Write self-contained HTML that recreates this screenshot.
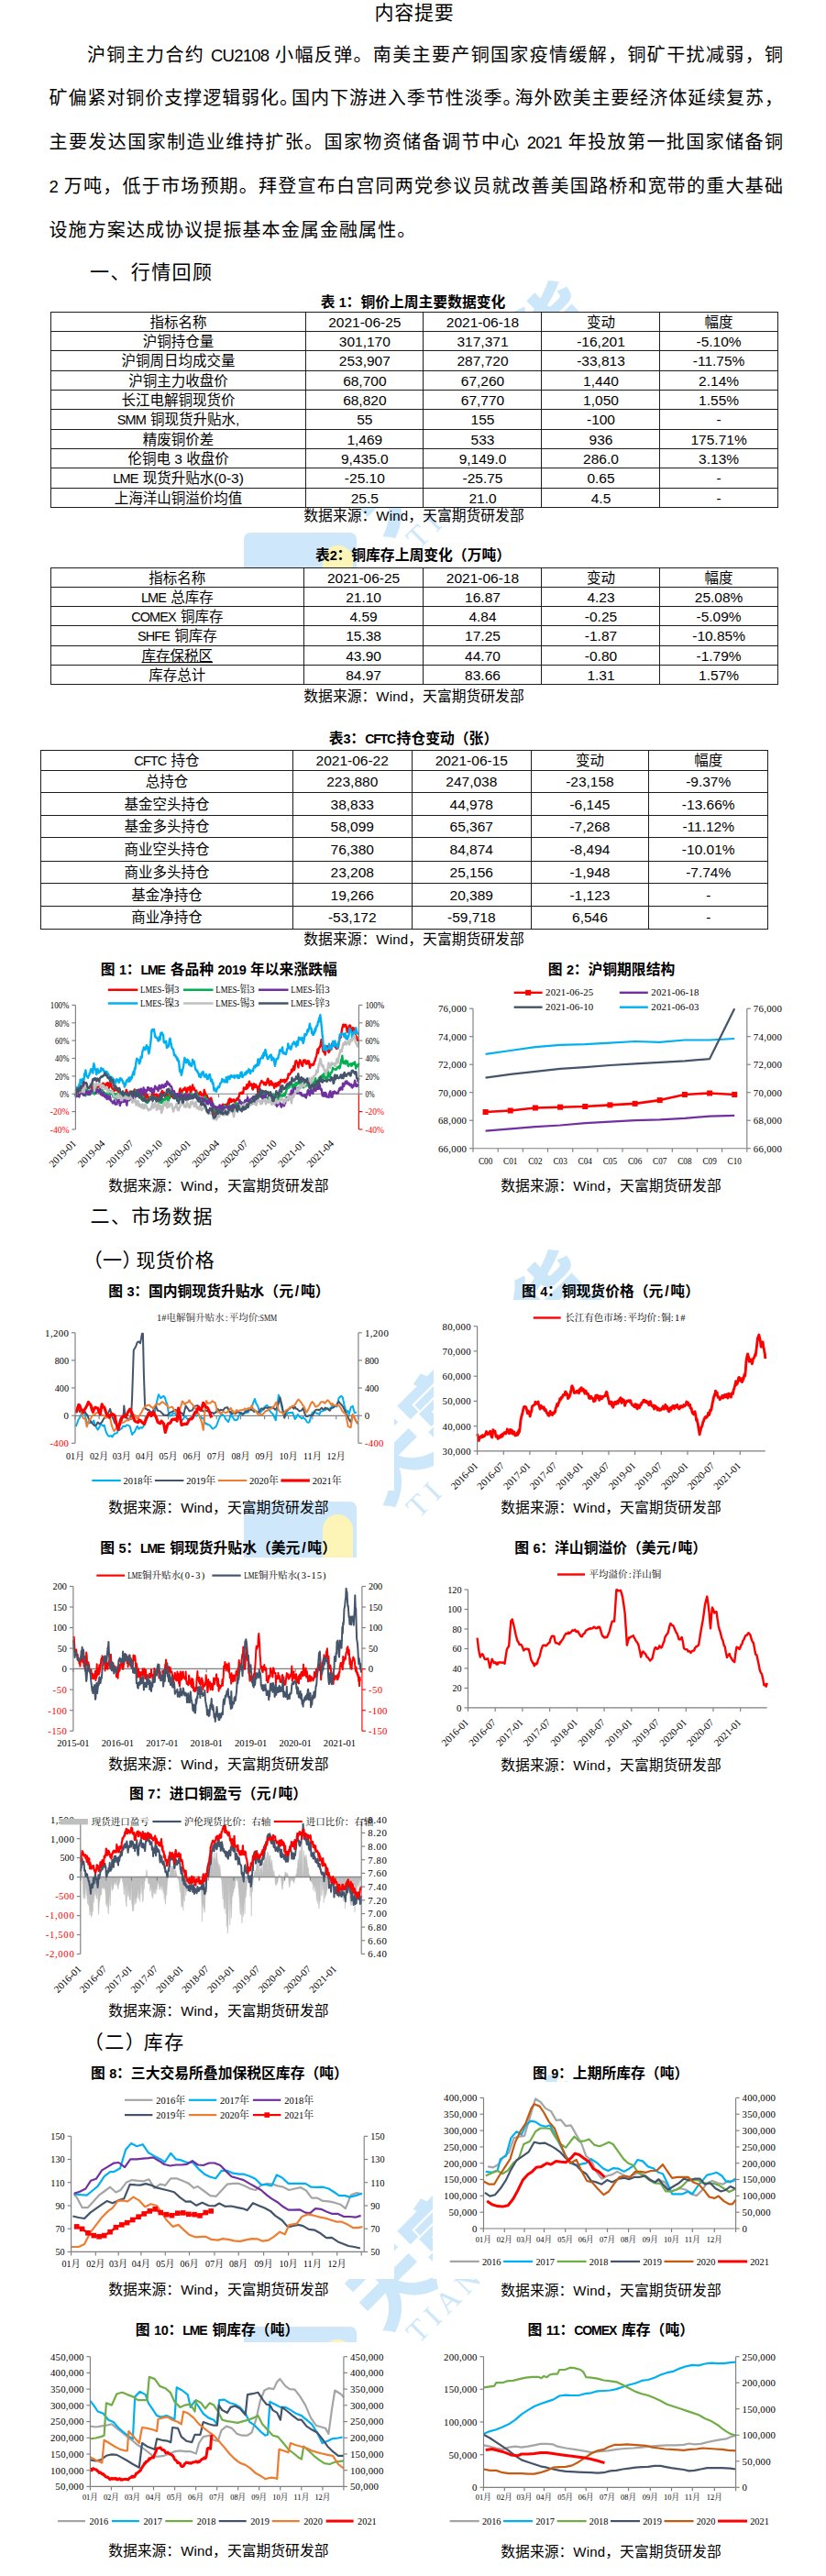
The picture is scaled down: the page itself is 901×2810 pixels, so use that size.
<!DOCTYPE html>
<html lang="zh-CN"><head><meta charset="utf-8"><title>铜周报</title><style>
html,body{margin:0;padding:0;background:#fff}
body{width:901px;height:2810px;position:relative;overflow:hidden;font-family:"Liberation Sans","Noto Sans CJK SC",sans-serif;color:#000}
.t{position:absolute;white-space:nowrap;margin:0}
.h1{font-size:21px;letter-spacing:0.8px}
.p{font-size:20px}
.just{text-align:justify;text-align-last:justify;text-justify:inter-character;white-space:normal}
.h2{font-size:21px;letter-spacing:1.4px}
.cap{font-size:15.8px;font-weight:bold}
.cap .l{font-size:14px;letter-spacing:-1.1px;margin-right:1.5px}
.tbl .l{font-size:14.5px;letter-spacing:-0.9px;margin-right:0.9px}
.cap .n{font-size:14.5px;letter-spacing:-0.3px}
.cap .sl{margin:0 1.8px}
.p .l,.p .n{font-size:18.5px;letter-spacing:-0.8px}
.src .l{font-size:15px;letter-spacing:0.2px}
.h2 .pr{margin-right:var(--pr)}
.src{font-size:15.8px}
.cp{margin-right:-8px}
.chart{position:absolute;font-family:"Liberation Serif","Noto Serif CJK SC",serif;overflow:hidden}
.tbl{position:absolute;background:#fff;font-size:15.5px;border-collapse:collapse;table-layout:fixed;border-spacing:0}
.tbl td,.tbl th{border:1px solid #1c1c1c;padding:0;text-align:center;font-weight:normal;white-space:nowrap;overflow:hidden;vertical-align:top}
.tbl td div,.tbl th div{overflow:visible}
.wm{position:absolute;left:0;width:901px;height:0}
.wm .logo{position:absolute;left:265.5px;top:1638px;width:123px;height:140px;background:#cfe7fa;border-radius:7px 7px 0 0;overflow:hidden}
.wm .logo i{position:absolute;left:86px;top:14px;width:33px;height:120px;border-radius:16.5px;background:#fdf5b8}
.wm .wt{position:absolute;left:336px;top:1455.5px;width:360px;height:100px;line-height:100px;font-size:87px;font-weight:900;color:#cde7fa;transform:rotate(-45deg);transform-origin:50% 50%;white-space:nowrap;letter-spacing:-3px;text-align:center}
.wm .we{position:absolute;left:457px;top:1630.1px;height:33px;line-height:33px;font-family:"Liberation Serif",serif;font-size:33px;color:#cde7fa;transform:rotate(-45deg);transform-origin:0 27.6px;white-space:nowrap;letter-spacing:6.5px;width:305px;overflow:hidden}
</style></head><body>
<div class="wm" style="top:-1057px"><div class="logo"><i></i></div><div class="wt">天富期货</div><div class="we">TIANFU FUTURES</div></div><div class="wm" style="top:0px"><div class="logo"><i></i></div><div class="wt">天富期货</div><div class="we">TIANFU FUTURES</div></div><div class="wm" style="top:900px"><div class="logo"><i></i></div><div class="wt">天富期货</div><div class="we">TIANFU FUTURES</div></div>
<div class="t h1" style="top:-0.4px;height:28px;line-height:28px;left:152.0px;width:600px;text-align:center;">内容提要</div>
<div class="t p just" style="top:44.8px;height:30px;line-height:30px;left:95.0px;width:759px;">沪铜主力合约 <span class="l">CU</span><span class="n">2108</span> 小幅反弹。南美主要产铜国家疫情缓解，铜矿干扰减弱，铜</div>
<div class="t p just" style="top:92.0px;height:30px;line-height:30px;left:53.5px;width:800.5px;">矿偏紧对铜价支撑逻辑弱化<span class="cp">。</span>国内下游进入季节性淡季<span class="cp">。</span>海外欧美主要经济体延续复苏，</div>
<div class="t p just" style="top:139.8px;height:30px;line-height:30px;left:53.5px;width:800.5px;">主要发达国家制造业维持扩张。国家物资储备调节中心 <span class="n">2021</span> 年投放第一批国家储备铜</div>
<div class="t p just" style="top:188.0px;height:30px;line-height:30px;left:53.5px;width:800.5px;"><span class="n">2</span> 万吨，低于市场预期。拜登宣布白宫同两党参议员就改善美国路桥和宽带的重大基础</div>
<div class="t p" style="top:235.8px;height:30px;line-height:30px;left:53.5px;letter-spacing:1.1px;">设施方案达成协议提振基本金属金融属性。</div>
<div class="t h2" style="top:282.0px;height:30px;line-height:30px;left:98.0px;">一、行情回顾</div>
<div class="t h2" style="top:1312.2px;height:30px;line-height:30px;left:98.5px;">二、市场数据</div>
<div class="t h2" style="top:1360.2px;height:30px;line-height:30px;left:90.7px;letter-spacing:0.4px;--pr:-6.4px"><span class="pl">（</span>一<span class="pr">）</span>现货价格</div>
<div class="t h2" style="top:2213.0px;height:30px;line-height:30px;left:91.8px;letter-spacing:1.5px;--pr:-2.5px"><span class="pl">（</span>二<span class="pr">）</span>库存</div>
<div class="t cap" style="top:318.5px;height:22px;line-height:22px;left:150.5px;width:600px;text-align:center;">表 <span class="n">1</span>：铜价上周主要数据变化</div>
<div class="t src" style="top:552.3px;height:22px;line-height:22px;left:151.5px;width:600px;text-align:center;">数据来源：<span class="l">Wind</span>，天富期货研发部</div>
<div class="t cap" style="top:595.0px;height:22px;line-height:22px;left:150.5px;width:600px;text-align:center;">表<span class="n">2</span>：铜库存上周变化<span class="pl">（</span>万吨<span class="pr">）</span></div>
<div class="t src" style="top:748.8px;height:22px;line-height:22px;left:151.5px;width:600px;text-align:center;">数据来源：<span class="l">Wind</span>，天富期货研发部</div>
<div class="t cap" style="top:795.0px;height:22px;line-height:22px;left:151.0px;width:600px;text-align:center;">表<span class="n">3</span>：<span class="l">CFTC</span>持仓变动<span class="pl">（</span>张<span class="pr">）</span></div>
<div class="t src" style="top:1014.0px;height:22px;line-height:22px;left:151.5px;width:600px;text-align:center;">数据来源：<span class="l">Wind</span>，天富期货研发部</div>
<div class="t cap" style="top:1047.0px;height:22px;line-height:22px;left:-61.2px;width:600px;text-align:center;">图 <span class="n">1</span>：<span class="l">LME</span> 各品种 <span class="n">2019</span> 年以来涨跌幅</div>
<div class="t src" style="top:1282.5px;height:22px;line-height:22px;left:-61.7px;width:600px;text-align:center;">数据来源：<span class="l">Wind</span>，天富期货研发部</div>
<div class="t cap" style="top:1047.0px;height:22px;line-height:22px;left:367.0px;width:600px;text-align:center;">图 <span class="n">2</span>：沪铜期限结构</div>
<div class="t src" style="top:1282.9px;height:22px;line-height:22px;left:366.5px;width:600px;text-align:center;">数据来源：<span class="l">Wind</span>，天富期货研发部</div>
<div class="t cap" style="top:1398.0px;height:22px;line-height:22px;left:-61.1px;width:600px;text-align:center;">图 <span class="n">3</span>：国内铜现货升贴水<span class="pl">（</span>元<span class="sl">/</span>吨<span class="pr">）</span></div>
<div class="t src" style="top:1633.6px;height:22px;line-height:22px;left:-61.7px;width:600px;text-align:center;">数据来源：<span class="l">Wind</span>，天富期货研发部</div>
<div class="t cap" style="top:1398.2px;height:22px;line-height:22px;left:366.0px;width:600px;text-align:center;">图 <span class="n">4</span>：铜现货价格<span class="pl">（</span>元<span class="sl">/</span>吨<span class="pr">）</span></div>
<div class="t src" style="top:1634.2px;height:22px;line-height:22px;left:366.5px;width:600px;text-align:center;">数据来源：<span class="l">Wind</span>，天富期货研发部</div>
<div class="t cap" style="top:1678.2px;height:22px;line-height:22px;left:-61.9px;width:600px;text-align:center;">图 <span class="n">5</span>：<span class="l">LME</span> 铜现货升贴水<span class="pl">（</span>美元<span class="sl">/</span>吨<span class="pr">）</span></div>
<div class="t src" style="top:1914.1px;height:22px;line-height:22px;left:-61.7px;width:600px;text-align:center;">数据来源：<span class="l">Wind</span>，天富期货研发部</div>
<div class="t cap" style="top:1678.3px;height:22px;line-height:22px;left:366.2px;width:600px;text-align:center;">图 <span class="n">6</span>：洋山铜溢价<span class="pl">（</span>美元<span class="sl">/</span>吨<span class="pr">）</span></div>
<div class="t src" style="top:1914.7px;height:22px;line-height:22px;left:366.5px;width:600px;text-align:center;">数据来源：<span class="l">Wind</span>，天富期货研发部</div>
<div class="t cap" style="top:1946.2px;height:22px;line-height:22px;left:-61.9px;width:600px;text-align:center;">图 <span class="n">7</span>：进口铜盈亏<span class="pl">（</span>元<span class="sl">/</span>吨<span class="pr">）</span></div>
<div class="t src" style="top:2183.2px;height:22px;line-height:22px;left:-61.7px;width:600px;text-align:center;">数据来源：<span class="l">Wind</span>，天富期货研发部</div>
<div class="t cap" style="top:2251.0px;height:22px;line-height:22px;left:-60.5px;width:600px;text-align:center;">图 <span class="n">8</span>：三大交易所叠加保税区库存<span class="pl">（</span>吨<span class="pr">）</span></div>
<div class="t src" style="top:2486.8px;height:22px;line-height:22px;left:-61.7px;width:600px;text-align:center;">数据来源：<span class="l">Wind</span>，天富期货研发部</div>
<div class="t cap" style="top:2251.0px;height:22px;line-height:22px;left:366.2px;width:600px;text-align:center;">图 <span class="n">9</span>：上期所库存<span class="pl">（</span>吨<span class="pr">）</span></div>
<div class="t src" style="top:2487.5px;height:22px;line-height:22px;left:366.5px;width:600px;text-align:center;">数据来源：<span class="l">Wind</span>，天富期货研发部</div>
<div class="t cap" style="top:2531.0px;height:22px;line-height:22px;left:-63.0px;width:600px;text-align:center;">图 <span class="n">10</span>：<span class="l">LME</span> 铜库存<span class="pl">（</span>吨<span class="pr">）</span></div>
<div class="t src" style="top:2772.3px;height:22px;line-height:22px;left:-61.7px;width:600px;text-align:center;">数据来源：<span class="l">Wind</span>，天富期货研发部</div>
<div class="t cap" style="top:2531.0px;height:22px;line-height:22px;left:366.3px;width:600px;text-align:center;">图 <span class="n">11</span>：<span class="l">COMEX</span> 库存<span class="pl">（</span>吨<span class="pr">）</span></div>
<div class="t src" style="top:2772.9px;height:22px;line-height:22px;left:366.5px;width:600px;text-align:center;">数据来源：<span class="l">Wind</span>，天富期货研发部</div>
<table class="tbl" style="left:55.0px;top:339.5px;width:793.7px"><colgroup><col style="width:278.2px"><col style="width:128.3px"><col style="width:129.0px"><col style="width:129.0px"><col style="width:128.2px"></colgroup><tbody><tr style="height:21.35px"><th><div style="height:20.35px;line-height:21.35px">指标名称</div></th><th><div style="height:20.35px;line-height:21.35px">2021-06-25</div></th><th><div style="height:20.35px;line-height:21.35px">2021-06-18</div></th><th><div style="height:20.35px;line-height:21.35px">变动</div></th><th><div style="height:20.35px;line-height:21.35px">幅度</div></th></tr><tr style="height:21.35px"><td><div style="height:20.35px;line-height:21.35px">沪铜持仓量</div></td><td><div style="height:20.35px;line-height:21.35px">301,170</div></td><td><div style="height:20.35px;line-height:21.35px">317,371</div></td><td><div style="height:20.35px;line-height:21.35px">-16,201</div></td><td><div style="height:20.35px;line-height:21.35px">-5.10%</div></td></tr><tr style="height:21.35px"><td><div style="height:20.35px;line-height:21.35px">沪铜周日均成交量</div></td><td><div style="height:20.35px;line-height:21.35px">253,907</div></td><td><div style="height:20.35px;line-height:21.35px">287,720</div></td><td><div style="height:20.35px;line-height:21.35px">-33,813</div></td><td><div style="height:20.35px;line-height:21.35px">-11.75%</div></td></tr><tr style="height:21.35px"><td><div style="height:20.35px;line-height:21.35px">沪铜主力收盘价</div></td><td><div style="height:20.35px;line-height:21.35px">68,700</div></td><td><div style="height:20.35px;line-height:21.35px">67,260</div></td><td><div style="height:20.35px;line-height:21.35px">1,440</div></td><td><div style="height:20.35px;line-height:21.35px">2.14%</div></td></tr><tr style="height:21.35px"><td><div style="height:20.35px;line-height:21.35px">长江电解铜现货价</div></td><td><div style="height:20.35px;line-height:21.35px">68,820</div></td><td><div style="height:20.35px;line-height:21.35px">67,770</div></td><td><div style="height:20.35px;line-height:21.35px">1,050</div></td><td><div style="height:20.35px;line-height:21.35px">1.55%</div></td></tr><tr style="height:21.35px"><td><div style="height:20.35px;line-height:21.35px"><span class="l">SMM</span> 铜现货升贴水,</div></td><td><div style="height:20.35px;line-height:21.35px">55</div></td><td><div style="height:20.35px;line-height:21.35px">155</div></td><td><div style="height:20.35px;line-height:21.35px">-100</div></td><td><div style="height:20.35px;line-height:21.35px">-</div></td></tr><tr style="height:21.35px"><td><div style="height:20.35px;line-height:21.35px">精废铜价差</div></td><td><div style="height:20.35px;line-height:21.35px">1,469</div></td><td><div style="height:20.35px;line-height:21.35px">533</div></td><td><div style="height:20.35px;line-height:21.35px">936</div></td><td><div style="height:20.35px;line-height:21.35px">175.71%</div></td></tr><tr style="height:21.35px"><td><div style="height:20.35px;line-height:21.35px">伦铜电 3 收盘价</div></td><td><div style="height:20.35px;line-height:21.35px">9,435.0</div></td><td><div style="height:20.35px;line-height:21.35px">9,149.0</div></td><td><div style="height:20.35px;line-height:21.35px">286.0</div></td><td><div style="height:20.35px;line-height:21.35px">3.13%</div></td></tr><tr style="height:21.35px"><td><div style="height:20.35px;line-height:21.35px"><span class="l">LME</span> 现货升贴水(0-3)</div></td><td><div style="height:20.35px;line-height:21.35px">-25.10</div></td><td><div style="height:20.35px;line-height:21.35px">-25.75</div></td><td><div style="height:20.35px;line-height:21.35px">0.65</div></td><td><div style="height:20.35px;line-height:21.35px">-</div></td></tr><tr style="height:21.35px"><td><div style="height:20.35px;line-height:21.35px">上海洋山铜溢价均值</div></td><td><div style="height:20.35px;line-height:21.35px">25.5</div></td><td><div style="height:20.35px;line-height:21.35px">21.0</div></td><td><div style="height:20.35px;line-height:21.35px">4.5</div></td><td><div style="height:20.35px;line-height:21.35px">-</div></td></tr></tbody></table>
<table class="tbl" style="left:55.0px;top:618.7px;width:793.7px"><colgroup><col style="width:275.7px"><col style="width:130.8px"><col style="width:129.0px"><col style="width:129.0px"><col style="width:128.2px"></colgroup><tbody><tr style="height:21.25px"><th><div style="height:20.25px;line-height:21.25px">指标名称</div></th><th><div style="height:20.25px;line-height:21.25px">2021-06-25</div></th><th><div style="height:20.25px;line-height:21.25px">2021-06-18</div></th><th><div style="height:20.25px;line-height:21.25px">变动</div></th><th><div style="height:20.25px;line-height:21.25px">幅度</div></th></tr><tr style="height:21.25px"><td><div style="height:20.25px;line-height:21.25px"><span class="l">LME</span> 总库存</div></td><td><div style="height:20.25px;line-height:21.25px">21.10</div></td><td><div style="height:20.25px;line-height:21.25px">16.87</div></td><td><div style="height:20.25px;line-height:21.25px">4.23</div></td><td><div style="height:20.25px;line-height:21.25px">25.08%</div></td></tr><tr style="height:21.25px"><td><div style="height:20.25px;line-height:21.25px"><span class="l">COMEX</span> 铜库存</div></td><td><div style="height:20.25px;line-height:21.25px">4.59</div></td><td><div style="height:20.25px;line-height:21.25px">4.84</div></td><td><div style="height:20.25px;line-height:21.25px">-0.25</div></td><td><div style="height:20.25px;line-height:21.25px">-5.09%</div></td></tr><tr style="height:21.25px"><td><div style="height:20.25px;line-height:21.25px"><span class="l">SHFE</span> 铜库存</div></td><td><div style="height:20.25px;line-height:21.25px">15.38</div></td><td><div style="height:20.25px;line-height:21.25px">17.25</div></td><td><div style="height:20.25px;line-height:21.25px">-1.87</div></td><td><div style="height:20.25px;line-height:21.25px">-10.85%</div></td></tr><tr style="height:21.25px"><td><div style="height:20.25px;line-height:21.25px"><u>库存保税区</u></div></td><td><div style="height:20.25px;line-height:21.25px">43.90</div></td><td><div style="height:20.25px;line-height:21.25px">44.70</div></td><td><div style="height:20.25px;line-height:21.25px">-0.80</div></td><td><div style="height:20.25px;line-height:21.25px">-1.79%</div></td></tr><tr style="height:21.25px"><td><div style="height:20.25px;line-height:21.25px">库存总计</div></td><td><div style="height:20.25px;line-height:21.25px">84.97</div></td><td><div style="height:20.25px;line-height:21.25px">83.66</div></td><td><div style="height:20.25px;line-height:21.25px">1.31</div></td><td><div style="height:20.25px;line-height:21.25px">1.57%</div></td></tr></tbody></table>
<table class="tbl" style="left:44.2px;top:817.6px;width:794.2px"><colgroup><col style="width:274.5px"><col style="width:130.1px"><col style="width:130.0px"><col style="width:128.3px"><col style="width:130.3px"></colgroup><tbody><tr style="height:22.40px"><th><div style="height:21.40px;line-height:22.40px"><span class="l">CFTC</span> 持仓</div></th><th><div style="height:21.40px;line-height:22.40px">2021-06-22</div></th><th><div style="height:21.40px;line-height:22.40px">2021-06-15</div></th><th><div style="height:21.40px;line-height:22.40px">变动</div></th><th><div style="height:21.40px;line-height:22.40px">幅度</div></th></tr><tr style="height:23.90px"><td><div style="height:22.90px;line-height:23.90px">总持仓</div></td><td><div style="height:22.90px;line-height:23.90px">223,880</div></td><td><div style="height:22.90px;line-height:23.90px">247,038</div></td><td><div style="height:22.90px;line-height:23.90px">-23,158</div></td><td><div style="height:22.90px;line-height:23.90px">-9.37%</div></td></tr><tr style="height:25.10px"><td><div style="height:24.10px;line-height:25.10px">基金空头持仓</div></td><td><div style="height:24.10px;line-height:25.10px">38,833</div></td><td><div style="height:24.10px;line-height:25.10px">44,978</div></td><td><div style="height:24.10px;line-height:25.10px">-6,145</div></td><td><div style="height:24.10px;line-height:25.10px">-13.66%</div></td></tr><tr style="height:24.50px"><td><div style="height:23.50px;line-height:24.50px">基金多头持仓</div></td><td><div style="height:23.50px;line-height:24.50px">58,099</div></td><td><div style="height:23.50px;line-height:24.50px">65,367</div></td><td><div style="height:23.50px;line-height:24.50px">-7,268</div></td><td><div style="height:23.50px;line-height:24.50px">-11.12%</div></td></tr><tr style="height:25.10px"><td><div style="height:24.10px;line-height:25.10px">商业空头持仓</div></td><td><div style="height:24.10px;line-height:25.10px">76,380</div></td><td><div style="height:24.10px;line-height:25.10px">84,874</div></td><td><div style="height:24.10px;line-height:25.10px">-8,494</div></td><td><div style="height:24.10px;line-height:25.10px">-10.01%</div></td></tr><tr style="height:24.50px"><td><div style="height:23.50px;line-height:24.50px">商业多头持仓</div></td><td><div style="height:23.50px;line-height:24.50px">23,208</div></td><td><div style="height:23.50px;line-height:24.50px">25,156</div></td><td><div style="height:23.50px;line-height:24.50px">-1,948</div></td><td><div style="height:23.50px;line-height:24.50px">-7.74%</div></td></tr><tr style="height:25.10px"><td><div style="height:24.10px;line-height:25.10px">基金净持仓</div></td><td><div style="height:24.10px;line-height:25.10px">19,266</div></td><td><div style="height:24.10px;line-height:25.10px">20,389</div></td><td><div style="height:24.10px;line-height:25.10px">-1,123</div></td><td><div style="height:24.10px;line-height:25.10px">-</div></td></tr><tr style="height:24.50px"><td><div style="height:23.50px;line-height:24.50px">商业净持仓</div></td><td><div style="height:23.50px;line-height:24.50px">-53,172</div></td><td><div style="height:23.50px;line-height:24.50px">-59,718</div></td><td><div style="height:23.50px;line-height:24.50px">6,546</div></td><td><div style="height:23.50px;line-height:24.50px">-</div></td></tr></tbody></table>
<svg class="chart" style="left:33px;top:1070px" width="400" height="205" viewBox="33 1070 400 205"><line x1="82.4" y1="1193.2" x2="391.4" y2="1193.2" stroke="#7F7F7F" stroke-width="1.15"/><line x1="82.4" y1="1193.2" x2="82.4" y2="1197.2" stroke="#7F7F7F" stroke-width="1.15"/><line x1="113.6" y1="1193.2" x2="113.6" y2="1197.2" stroke="#7F7F7F" stroke-width="1.15"/><line x1="144.8" y1="1193.2" x2="144.8" y2="1197.2" stroke="#7F7F7F" stroke-width="1.15"/><line x1="176.1" y1="1193.2" x2="176.1" y2="1197.2" stroke="#7F7F7F" stroke-width="1.15"/><line x1="207.3" y1="1193.2" x2="207.3" y2="1197.2" stroke="#7F7F7F" stroke-width="1.15"/><line x1="238.5" y1="1193.2" x2="238.5" y2="1197.2" stroke="#7F7F7F" stroke-width="1.15"/><line x1="269.7" y1="1193.2" x2="269.7" y2="1197.2" stroke="#7F7F7F" stroke-width="1.15"/><line x1="300.9" y1="1193.2" x2="300.9" y2="1197.2" stroke="#7F7F7F" stroke-width="1.15"/><line x1="332.2" y1="1193.2" x2="332.2" y2="1197.2" stroke="#7F7F7F" stroke-width="1.15"/><line x1="363.4" y1="1193.2" x2="363.4" y2="1197.2" stroke="#7F7F7F" stroke-width="1.15"/><polyline points="82.4,1192.5 83.0,1194.6 83.5,1191.8 84.1,1193.2 84.7,1190.3 85.3,1192.6 85.8,1191.7 86.4,1193.9 87.0,1193.5 87.6,1191.5 88.1,1189.7 88.7,1190.0 89.3,1188.9 89.8,1186.5 90.4,1188.0 91.0,1182.6 91.6,1185.2 92.1,1190.4 92.7,1189.6 93.3,1185.8 93.8,1188.9 94.4,1188.6 95.0,1187.1 95.5,1186.2 96.1,1187.0 96.7,1188.5 97.3,1187.1 97.8,1189.9 98.4,1186.4 99.0,1187.6 99.5,1183.9 100.1,1181.8 100.7,1184.4 101.3,1186.2 101.8,1189.9 102.4,1187.5 103.0,1187.7 103.5,1184.5 104.1,1185.1 104.7,1186.0 105.2,1184.2 105.8,1185.8 106.4,1186.8 107.0,1185.4 107.5,1184.1 108.1,1183.5 108.7,1185.0 109.2,1182.7 109.8,1185.6 110.4,1184.1 111.0,1185.3 111.5,1182.8 112.1,1181.9 112.7,1181.7 113.2,1183.8 113.8,1183.6 114.4,1183.4 115.0,1184.9 115.5,1182.1 116.1,1184.3 116.7,1182.4 117.2,1181.1 117.8,1181.2 118.4,1184.2 118.9,1186.5 119.5,1184.0 120.1,1182.3 120.7,1181.1 121.2,1183.9 121.8,1186.1 122.4,1187.2 122.9,1187.8 123.5,1190.4 124.1,1189.3 124.7,1189.9 125.2,1189.2 125.8,1188.1 126.4,1185.6 126.9,1189.1 127.5,1189.4 128.1,1189.8 128.6,1190.0 129.2,1191.4 129.8,1192.3 130.4,1188.5 130.9,1190.6 131.5,1192.9 132.1,1193.8 132.6,1193.1 133.2,1193.7 133.8,1190.8 134.4,1193.3 134.9,1193.2 135.5,1193.6 136.1,1194.7 136.6,1194.1 137.2,1191.5 137.8,1188.8 138.4,1190.4 138.9,1191.8 139.5,1193.0 140.1,1195.0 140.6,1194.8 141.2,1194.6 141.8,1190.8 142.3,1194.0 142.9,1194.3 143.5,1197.6 144.1,1196.3 144.6,1192.8 145.2,1192.8 145.8,1193.7 146.3,1190.9 146.9,1188.4 147.5,1190.9 148.1,1189.8 148.6,1189.8 149.2,1190.0 149.8,1189.1 150.3,1190.5 150.9,1189.9 151.5,1190.5 152.0,1192.2 152.6,1191.7 153.2,1189.7 153.8,1191.7 154.3,1190.4 154.9,1193.2 155.5,1191.7 156.0,1193.4 156.6,1196.6 157.2,1197.0 157.8,1194.7 158.3,1192.7 158.9,1193.9 159.5,1197.1 160.0,1197.6 160.6,1194.1 161.2,1197.1 161.8,1197.4 162.3,1198.4 162.9,1200.1 163.5,1196.2 164.0,1197.0 164.6,1196.3 165.2,1197.5 165.7,1195.1 166.3,1191.9 166.9,1193.2 167.5,1195.6 168.0,1194.3 168.6,1193.9 169.2,1194.6 169.7,1194.4 170.3,1193.9 170.9,1193.8 171.5,1197.3 172.0,1195.3 172.6,1195.7 173.2,1197.8 173.7,1198.6 174.3,1193.9 174.9,1193.8 175.4,1192.5 176.0,1193.9 176.6,1190.3 177.2,1190.3 177.7,1192.5 178.3,1194.0 178.9,1191.7 179.4,1193.8 180.0,1196.7 180.6,1193.9 181.2,1197.1 181.7,1196.1 182.3,1191.9 182.9,1194.7 183.4,1195.4 184.0,1197.9 184.6,1194.8 185.2,1198.0 185.7,1195.7 186.3,1195.7 186.9,1194.2 187.4,1194.8 188.0,1196.4 188.6,1194.6 189.1,1192.8 189.7,1194.2 190.3,1193.0 190.9,1193.4 191.4,1195.0 192.0,1194.1 192.6,1194.1 193.1,1193.8 193.7,1193.5 194.3,1194.7 194.9,1195.9 195.4,1194.1 196.0,1189.3 196.6,1187.5 197.1,1190.7 197.7,1192.8 198.3,1193.0 198.8,1189.5 199.4,1189.5 200.0,1188.0 200.6,1189.0 201.1,1188.5 201.7,1186.4 202.3,1188.5 202.8,1188.2 203.4,1192.0 204.0,1191.7 204.5,1186.7 205.1,1189.1 205.6,1186.8 206.2,1186.4 206.7,1187.0 207.3,1185.2 207.8,1192.5 208.4,1191.0 209.0,1187.1 209.6,1189.1 210.1,1183.5 210.7,1187.5 211.3,1186.9 211.8,1186.7 212.4,1189.2 213.0,1189.6 213.6,1191.2 214.2,1189.7 214.8,1192.4 215.4,1191.9 216.0,1193.5 216.5,1192.9 217.1,1194.0 217.7,1192.9 218.3,1191.2 218.8,1191.7 219.4,1194.9 220.0,1193.9 220.5,1194.2 221.1,1193.5 221.7,1195.5 222.3,1193.2 222.8,1188.9 223.4,1191.2 224.0,1192.5 224.5,1196.6 225.1,1194.8 225.7,1194.9 226.2,1197.2 226.8,1198.7 227.4,1197.9 228.0,1201.1 228.5,1199.8 229.1,1200.9 229.7,1199.8 230.2,1197.6 230.8,1199.9 231.4,1202.4 232.0,1203.9 232.5,1211.4 233.1,1208.3 233.7,1211.9 234.2,1216.3 234.8,1217.7 235.4,1216.1 236.0,1212.9 236.6,1210.9 237.2,1213.0 237.8,1213.8 238.4,1209.5 239.0,1209.0 239.6,1208.1 240.1,1208.9 240.7,1206.3 241.2,1208.2 241.8,1206.3 242.3,1206.6 242.9,1204.7 243.4,1206.9 244.0,1205.1 244.5,1205.9 245.1,1205.0 245.7,1206.1 246.2,1205.7 246.8,1209.2 247.3,1204.4 247.9,1205.4 248.4,1203.1 249.0,1203.2 249.5,1199.8 250.1,1203.7 250.6,1198.4 251.2,1202.0 251.8,1199.0 252.3,1200.0 252.9,1201.7 253.4,1199.9 254.0,1201.1 254.5,1200.7 255.1,1199.3 255.7,1200.5 256.3,1202.8 256.8,1201.4 257.4,1200.1 258.0,1199.6 258.5,1198.3 259.1,1199.7 259.7,1199.1 260.3,1196.5 260.8,1195.9 261.4,1192.5 262.0,1192.4 262.5,1192.9 263.1,1192.2 263.6,1191.6 264.2,1193.0 264.7,1192.8 265.3,1192.4 265.9,1186.4 266.4,1188.4 267.0,1187.3 267.5,1186.6 268.1,1187.1 268.6,1187.9 269.2,1183.1 269.7,1187.3 270.3,1186.6 270.8,1184.7 271.4,1181.8 272.0,1179.7 272.5,1184.5 273.1,1182.3 273.6,1182.4 274.2,1182.4 274.7,1182.7 275.3,1187.6 275.8,1188.5 276.4,1183.7 276.9,1182.2 277.5,1186.2 278.1,1185.6 278.6,1183.3 279.2,1183.2 279.7,1186.1 280.3,1185.3 280.8,1185.4 281.4,1192.6 281.9,1189.6 282.5,1185.1 283.1,1185.5 283.7,1182.2 284.2,1181.2 284.8,1180.9 285.4,1178.9 285.9,1180.3 286.5,1180.6 287.1,1180.4 287.7,1182.1 288.2,1183.1 288.8,1181.1 289.4,1182.8 289.9,1183.6 290.5,1180.4 291.1,1181.7 291.6,1178.3 292.2,1176.7 292.8,1178.2 293.4,1180.5 293.9,1183.8 294.5,1181.5 295.1,1183.1 295.6,1179.1 296.2,1180.9 296.8,1183.6 297.4,1181.5 297.9,1182.4 298.5,1183.3 299.1,1186.7 299.7,1182.8 300.3,1181.8 300.9,1184.8 301.5,1185.3 302.1,1184.0 302.6,1181.3 303.2,1180.9 303.8,1184.0 304.3,1180.2 304.9,1180.5 305.5,1181.7 306.1,1178.1 306.6,1177.7 307.2,1179.7 307.8,1179.1 308.3,1179.5 308.9,1178.2 309.5,1178.0 310.1,1177.7 310.6,1180.9 311.2,1179.1 311.8,1178.0 312.3,1179.3 312.9,1177.9 313.5,1176.0 314.0,1176.3 314.6,1171.5 315.2,1171.7 315.8,1172.4 316.3,1171.5 316.9,1170.7 317.5,1169.9 318.0,1167.0 318.6,1169.0 319.2,1165.9 319.8,1166.7 320.3,1162.9 320.9,1167.3 321.5,1165.7 322.0,1159.7 322.6,1157.7 323.2,1157.1 323.7,1158.6 324.3,1158.8 324.9,1162.4 325.5,1164.4 326.0,1159.1 326.6,1158.9 327.2,1156.3 327.7,1157.5 328.3,1159.9 328.9,1161.6 329.5,1161.1 330.0,1162.8 330.6,1158.2 331.2,1156.5 331.7,1157.3 332.3,1158.5 332.9,1156.5 333.5,1157.5 334.0,1160.6 334.6,1158.1 335.2,1158.9 335.7,1157.3 336.3,1160.5 336.9,1157.5 337.4,1159.6 338.0,1164.7 338.5,1162.6 339.1,1161.0 339.7,1161.7 340.2,1162.0 340.8,1161.3 341.3,1160.7 341.9,1161.8 342.4,1160.7 343.0,1157.4 343.6,1157.3 344.2,1154.6 344.7,1153.2 345.3,1151.3 345.9,1148.0 346.5,1144.4 347.1,1148.7 347.7,1144.6 348.3,1142.6 348.9,1142.3 349.7,1139.7 350.5,1134.1 351.1,1135.8 351.7,1141.8 352.3,1146.0 352.9,1147.5 353.4,1147.3 354.0,1146.9 354.6,1150.5 355.1,1148.1 355.7,1144.2 356.3,1144.3 356.9,1141.2 357.4,1143.9 358.0,1146.6 358.6,1147.9 359.1,1147.3 359.7,1145.4 360.3,1145.5 360.8,1144.5 361.4,1144.5 362.0,1141.2 362.6,1137.8 363.1,1140.9 363.7,1140.9 364.3,1139.1 364.8,1138.6 365.4,1141.7 366.0,1141.1 366.6,1143.4 367.2,1144.0 367.8,1141.6 368.4,1143.6 369.0,1142.1 369.6,1136.9 370.1,1135.4 370.7,1131.7 371.3,1130.7 371.8,1131.5 372.5,1126.5 373.2,1121.8 373.8,1120.3 374.4,1117.6 375.0,1117.9 375.6,1119.7 376.2,1118.9 376.9,1117.7 377.5,1118.4 378.2,1122.3 378.8,1125.7 379.4,1122.3 380.0,1121.6 380.5,1120.1 381.1,1118.7 381.7,1118.4 382.3,1119.3 382.8,1122.4 383.4,1124.3 384.0,1126.7 384.5,1123.2 385.1,1121.1 385.7,1124.2 386.2,1121.7 386.8,1122.5 387.4,1127.7 388.0,1130.6 388.6,1132.7 389.2,1131.0 389.8,1134.4 390.6,1135.3 391.4,1134.9" fill="none" stroke="#FF0000" stroke-width="2.4" stroke-linejoin="round" stroke-linecap="butt" /><polyline points="82.4,1193.7 83.0,1196.4 83.5,1193.0 84.1,1189.7 84.7,1192.0 85.3,1193.5 85.8,1193.5 86.4,1193.6 87.0,1192.4 87.6,1191.1 88.1,1190.3 88.7,1191.0 89.3,1191.0 89.8,1193.4 90.4,1193.8 91.0,1190.5 91.6,1192.7 92.1,1192.1 92.7,1193.9 93.3,1195.3 93.8,1194.0 94.4,1189.0 95.0,1191.5 95.5,1188.4 96.1,1193.0 96.7,1190.7 97.3,1190.7 97.8,1194.4 98.4,1189.2 99.0,1190.5 99.5,1189.0 100.1,1189.6 100.7,1189.4 101.3,1192.2 101.8,1191.5 102.4,1192.5 103.0,1193.6 103.5,1189.1 104.1,1192.9 104.7,1191.1 105.2,1187.5 105.8,1187.6 106.4,1190.3 107.0,1191.4 107.5,1188.9 108.1,1189.5 108.7,1190.1 109.2,1191.9 109.8,1190.5 110.4,1192.2 111.0,1189.4 111.5,1188.7 112.1,1191.1 112.7,1192.2 113.2,1191.3 113.8,1192.3 114.4,1192.0 115.0,1193.0 115.5,1194.4 116.1,1193.9 116.7,1194.5 117.2,1192.6 117.8,1191.7 118.4,1188.1 118.9,1192.1 119.5,1193.0 120.1,1194.4 120.7,1190.5 121.2,1191.6 121.8,1192.0 122.4,1189.9 122.9,1194.3 123.5,1196.5 124.1,1192.8 124.7,1194.5 125.2,1197.6 125.8,1193.3 126.4,1195.7 126.9,1197.8 127.5,1199.3 128.1,1193.9 128.6,1192.4 129.2,1194.3 129.8,1197.0 130.4,1193.5 130.9,1193.2 131.5,1192.2 132.1,1195.9 132.6,1194.1 133.2,1195.5 133.8,1196.1 134.4,1197.2 134.9,1196.1 135.5,1195.6 136.1,1197.0 136.7,1196.2 137.3,1192.6 137.9,1192.6 138.5,1195.3 139.1,1194.9 139.7,1193.8 140.3,1194.5 140.9,1200.6 141.5,1196.7 142.1,1196.1 142.7,1195.9 143.3,1194.4 143.9,1196.5 144.5,1196.8 145.1,1196.0 145.7,1192.4 146.3,1195.9 146.9,1196.3 147.5,1194.8 148.1,1189.1 148.6,1191.8 149.2,1190.5 149.8,1191.8 150.3,1191.7 150.9,1191.0 151.5,1194.8 152.0,1195.0 152.6,1197.5 153.2,1194.7 153.8,1195.4 154.3,1199.0 154.9,1198.8 155.5,1196.9 156.0,1196.1 156.6,1196.6 157.2,1198.0 157.8,1200.3 158.3,1200.4 158.9,1201.9 159.5,1202.5 160.0,1201.4 160.6,1203.1 161.2,1202.8 161.8,1200.9 162.3,1200.2 162.9,1200.2 163.5,1198.5 164.0,1196.5 164.6,1198.2 165.2,1197.6 165.7,1199.3 166.3,1197.6 166.9,1198.0 167.5,1198.7 168.0,1197.7 168.6,1198.7 169.2,1197.4 169.7,1197.6 170.3,1200.0 170.9,1200.3 171.5,1199.8 172.0,1198.2 172.6,1200.4 173.2,1203.9 173.7,1197.4 174.3,1201.1 174.9,1201.0 175.4,1202.5 176.0,1203.1 176.6,1199.1 177.2,1202.7 177.7,1199.6 178.3,1198.9 178.9,1200.2 179.4,1199.4 180.0,1199.8 180.6,1198.5 181.2,1196.9 181.7,1198.3 182.3,1196.8 182.9,1200.8 183.4,1199.6 184.0,1200.9 184.6,1195.9 185.2,1191.9 185.7,1189.5 186.3,1191.8 186.9,1190.5 187.4,1193.7 188.0,1191.7 188.6,1191.2 189.1,1194.3 189.7,1194.5 190.3,1196.7 190.9,1198.1 191.4,1197.6 192.0,1194.5 192.6,1193.9 193.1,1199.6 193.7,1197.1 194.3,1197.1 194.9,1196.8 195.4,1196.5 196.0,1196.2 196.6,1195.5 197.1,1195.3 197.7,1192.5 198.3,1198.5 198.8,1197.6 199.4,1194.6 200.0,1196.7 200.6,1197.6 201.1,1193.8 201.7,1193.9 202.3,1197.6 202.8,1197.1 203.4,1196.8 204.0,1197.7 204.6,1196.0 205.1,1194.9 205.7,1198.1 206.3,1196.0 206.8,1195.4 207.4,1196.4 208.0,1195.6 208.6,1192.8 209.2,1197.5 209.8,1195.7 210.4,1198.4 211.0,1197.0 211.6,1193.7 212.2,1196.9 212.8,1194.9 213.4,1193.4 214.0,1194.7 214.5,1191.6 215.1,1195.5 215.7,1195.3 216.3,1196.4 216.8,1196.0 217.4,1198.9 218.0,1199.6 218.5,1201.4 219.1,1203.4 219.7,1201.8 220.3,1201.0 220.8,1201.2 221.4,1199.0 222.0,1198.7 222.5,1201.0 223.1,1198.9 223.7,1196.0 224.2,1197.8 224.8,1199.7 225.4,1203.1 226.0,1200.4 226.5,1199.1 227.1,1200.8 227.7,1201.1 228.2,1202.2 228.8,1201.3 229.4,1202.9 230.0,1202.5 230.5,1205.7 231.1,1206.1 231.7,1207.3 232.2,1206.2 232.8,1204.4 233.4,1207.1 234.0,1208.6 234.6,1212.0 235.2,1213.7 235.8,1213.1 236.4,1212.1 237.1,1209.6 237.7,1210.2 238.4,1210.6 239.0,1209.4 239.6,1207.7 240.1,1211.4 240.7,1208.7 241.2,1212.4 241.8,1212.9 242.3,1213.7 242.9,1209.5 243.4,1210.5 244.0,1207.0 244.5,1207.7 245.1,1205.9 245.7,1206.7 246.2,1207.5 246.8,1210.7 247.3,1212.2 247.9,1210.2 248.4,1209.6 249.0,1208.2 249.5,1207.0 250.1,1205.2 250.6,1207.3 251.2,1209.5 251.8,1207.7 252.3,1209.0 252.9,1206.5 253.4,1205.6 254.0,1206.0 254.5,1208.8 255.1,1207.2 255.7,1208.9 256.3,1207.4 256.8,1205.3 257.4,1202.6 258.0,1204.4 258.5,1204.1 259.1,1207.4 259.7,1207.7 260.3,1203.9 260.8,1206.9 261.4,1207.5 262.0,1201.2 262.5,1202.1 263.1,1204.8 263.6,1202.3 264.2,1202.9 264.7,1205.4 265.3,1205.9 265.9,1206.3 266.4,1206.8 267.0,1204.1 267.5,1208.8 268.1,1207.0 268.6,1209.1 269.2,1205.3 269.7,1205.1 270.3,1204.4 270.8,1203.0 271.4,1203.1 272.0,1202.9 272.5,1203.7 273.1,1203.0 273.6,1202.1 274.2,1202.4 274.7,1204.2 275.3,1202.2 275.8,1202.2 276.4,1201.3 276.9,1196.8 277.5,1196.8 278.1,1196.5 278.6,1195.4 279.2,1196.1 279.7,1194.1 280.3,1196.9 280.8,1196.3 281.4,1199.1 281.9,1198.5 282.5,1195.0 283.1,1195.4 283.7,1195.9 284.2,1194.6 284.8,1194.4 285.4,1192.9 285.9,1192.7 286.5,1194.5 287.1,1194.0 287.7,1196.6 288.2,1191.4 288.8,1191.6 289.4,1192.5 289.9,1196.1 290.5,1197.1 291.1,1196.9 291.6,1197.3 292.2,1198.7 292.8,1197.7 293.4,1195.7 293.9,1195.7 294.5,1194.3 295.1,1194.8 295.6,1196.3 296.2,1195.4 296.8,1196.4 297.4,1195.9 297.9,1194.3 298.5,1193.4 299.1,1197.1 299.6,1197.5 300.2,1199.1 300.8,1198.2 301.3,1198.1 301.9,1198.6 302.5,1197.1 303.1,1199.3 303.6,1199.1 304.2,1197.6 304.8,1194.0 305.3,1193.1 305.9,1193.8 306.5,1196.2 307.1,1195.1 307.6,1194.7 308.2,1195.7 308.8,1195.4 309.3,1194.8 309.9,1192.9 310.5,1195.6 311.1,1193.8 311.6,1191.7 312.2,1191.1 312.8,1188.1 313.3,1185.7 313.9,1184.0 314.5,1187.1 315.0,1184.9 315.6,1186.3 316.2,1184.1 316.8,1181.8 317.3,1182.7 317.9,1182.5 318.5,1182.4 319.0,1186.7 319.6,1185.4 320.2,1183.2 320.8,1184.9 321.3,1183.2 321.9,1185.2 322.5,1181.0 323.0,1184.2 323.6,1181.4 324.2,1181.0 324.7,1182.5 325.3,1180.8 325.9,1179.0 326.5,1180.9 327.0,1182.0 327.6,1180.2 328.2,1184.4 328.7,1183.0 329.3,1182.9 329.9,1183.8 330.5,1184.4 331.0,1186.4 331.6,1181.2 332.2,1183.0 332.7,1185.3 333.3,1184.9 333.9,1184.1 334.5,1182.1 335.0,1184.0 335.6,1183.4 336.2,1184.3 336.7,1182.6 337.3,1183.4 337.9,1184.1 338.4,1181.5 339.0,1185.0 339.6,1184.1 340.2,1181.4 340.7,1182.1 341.3,1182.8 341.9,1182.1 342.4,1180.1 343.0,1180.4 343.6,1178.1 344.2,1176.3 344.7,1180.5 345.3,1182.8 345.9,1183.7 346.4,1184.4 347.0,1182.7 347.6,1177.4 348.1,1175.7 348.7,1177.7 349.3,1175.3 349.9,1174.2 350.4,1174.6 351.0,1175.5 351.6,1172.6 352.1,1174.0 352.7,1175.5 353.3,1171.3 353.9,1175.5 354.4,1176.1 355.0,1173.2 355.6,1176.7 356.1,1175.2 356.7,1174.4 357.3,1175.9 357.9,1168.5 358.4,1170.4 359.0,1173.1 359.6,1174.7 360.1,1172.5 360.7,1171.3 361.3,1169.7 361.8,1169.7 362.4,1168.4 363.0,1164.8 363.6,1166.4 364.1,1166.0 364.7,1166.4 365.3,1166.5 365.8,1166.3 366.4,1166.9 367.0,1166.4 367.6,1165.4 368.1,1164.2 368.7,1164.3 369.3,1163.6 369.8,1163.3 370.4,1165.4 371.0,1163.6 371.5,1161.1 372.1,1156.6 372.7,1155.4 373.3,1151.6 373.8,1156.7 374.4,1159.7 375.0,1158.3 375.5,1157.8 376.1,1159.6 376.7,1160.6 377.3,1156.9 377.8,1158.3 378.4,1159.0 379.0,1157.7 379.5,1162.3 380.1,1163.0 380.7,1161.0 381.3,1161.4 381.8,1160.8 382.4,1160.4 383.0,1160.3 383.5,1162.9 384.1,1161.9 384.7,1160.5 385.2,1159.5 385.8,1160.8 386.4,1159.8 387.0,1158.4 387.6,1161.0 388.2,1165.6 388.8,1163.5 389.5,1163.1 390.1,1161.6 390.8,1163.1 391.4,1159.9" fill="none" stroke="#00B050" stroke-width="2.4" stroke-linejoin="round" stroke-linecap="butt" /><polyline points="82.4,1193.2 83.0,1194.9 83.5,1194.3 84.1,1193.5 84.7,1195.7 85.3,1194.6 85.8,1193.4 86.4,1196.5 87.0,1193.2 87.6,1190.3 88.1,1188.6 88.7,1189.2 89.3,1191.4 89.8,1192.4 90.4,1193.1 91.0,1194.4 91.6,1195.0 92.1,1193.4 92.7,1194.1 93.3,1193.2 93.8,1190.7 94.4,1192.4 95.0,1191.7 95.5,1190.6 96.1,1194.1 96.7,1193.1 97.3,1190.1 97.8,1189.6 98.4,1193.7 99.0,1190.3 99.5,1190.6 100.1,1190.4 100.7,1189.9 101.3,1189.7 101.8,1187.4 102.4,1186.4 103.0,1186.4 103.5,1186.7 104.1,1189.3 104.7,1192.1 105.2,1189.0 105.8,1190.8 106.4,1189.0 107.0,1189.2 107.5,1190.3 108.1,1191.6 108.7,1191.4 109.2,1187.5 109.8,1193.7 110.4,1193.3 111.0,1192.7 111.5,1195.1 112.1,1193.8 112.7,1191.9 113.2,1194.9 113.8,1196.1 114.4,1194.5 115.0,1197.1 115.5,1197.3 116.1,1194.6 116.7,1199.1 117.2,1198.2 117.8,1195.2 118.4,1197.1 118.9,1197.4 119.5,1199.4 120.1,1196.1 120.7,1199.6 121.2,1201.0 121.8,1201.4 122.4,1201.6 122.9,1203.3 123.5,1203.1 124.1,1202.2 124.7,1200.3 125.2,1203.4 125.8,1204.7 126.4,1204.2 126.9,1203.9 127.5,1204.6 128.1,1198.7 128.6,1201.6 129.2,1197.4 129.8,1200.7 130.4,1203.5 130.9,1206.1 131.5,1202.8 132.1,1203.1 132.6,1202.3 133.2,1198.0 133.8,1201.8 134.4,1201.9 134.9,1202.1 135.5,1199.7 136.1,1200.1 136.6,1200.1 137.2,1202.1 137.8,1200.6 138.4,1205.7 138.9,1200.1 139.5,1198.2 140.1,1197.8 140.6,1196.1 141.2,1199.7 141.8,1199.4 142.3,1195.6 142.9,1196.6 143.5,1198.4 144.1,1194.0 144.6,1194.8 145.2,1194.1 145.8,1198.3 146.3,1196.0 146.9,1193.2 147.5,1191.6 148.1,1195.3 148.6,1192.1 149.2,1195.7 149.8,1189.7 150.3,1189.6 150.9,1189.2 151.5,1188.5 152.0,1189.3 152.6,1191.3 153.2,1189.7 153.8,1187.7 154.3,1192.2 154.9,1194.3 155.5,1191.0 156.0,1191.6 156.6,1186.4 157.2,1191.1 157.8,1188.6 158.3,1189.0 158.9,1194.3 159.5,1189.8 160.0,1190.3 160.6,1188.4 161.2,1186.1 161.8,1186.4 162.3,1189.1 162.9,1187.1 163.5,1187.6 164.0,1190.2 164.6,1189.5 165.2,1186.9 165.7,1191.1 166.3,1190.1 166.9,1192.0 167.5,1188.1 168.0,1191.6 168.6,1187.2 169.2,1184.6 169.7,1186.0 170.3,1186.5 170.9,1187.9 171.5,1186.6 172.0,1188.2 172.6,1190.0 173.2,1186.8 173.7,1184.0 174.3,1184.5 174.9,1186.8 175.4,1187.6 176.0,1185.5 176.6,1183.4 177.2,1184.1 177.7,1186.1 178.3,1183.6 178.9,1186.2 179.4,1185.0 180.0,1184.4 180.5,1182.3 181.1,1184.9 181.6,1183.3 182.2,1179.6 182.8,1182.3 183.3,1180.8 183.9,1182.8 184.5,1183.3 185.1,1182.7 185.7,1184.6 186.3,1184.9 186.9,1185.1 187.5,1187.1 188.1,1189.9 188.7,1190.1 189.3,1190.3 189.9,1190.0 190.5,1192.3 191.1,1193.0 191.7,1194.9 192.3,1194.9 192.9,1198.6 193.4,1193.2 194.0,1194.0 194.6,1195.6 195.1,1197.1 195.7,1193.4 196.3,1192.6 196.9,1194.7 197.4,1197.6 198.0,1198.9 198.6,1194.6 199.1,1196.1 199.7,1198.7 200.3,1197.7 200.8,1195.4 201.4,1194.9 202.0,1193.5 202.6,1197.6 203.2,1196.5 203.8,1195.6 204.4,1194.4 205.0,1195.2 205.6,1194.1 206.2,1193.4 206.8,1194.8 207.4,1195.0 208.0,1196.3 208.6,1196.2 209.2,1198.0 209.8,1196.4 210.4,1196.2 211.0,1196.1 211.6,1194.0 212.2,1196.8 212.8,1194.6 213.4,1192.5 214.0,1197.2 214.5,1198.4 215.1,1196.9 215.7,1199.5 216.3,1200.9 216.8,1201.3 217.4,1197.9 218.0,1199.1 218.5,1197.4 219.1,1197.6 219.7,1197.9 220.3,1197.5 220.8,1200.0 221.4,1198.5 222.0,1200.6 222.5,1200.5 223.1,1199.1 223.7,1199.9 224.2,1201.3 224.8,1202.6 225.4,1200.8 226.0,1204.0 226.5,1203.3 227.1,1204.4 227.7,1200.2 228.2,1199.2 228.8,1203.3 229.4,1202.5 230.0,1203.7 230.5,1205.9 231.1,1202.0 231.7,1204.3 232.2,1208.2 232.8,1207.9 233.4,1206.7 234.0,1207.4 234.6,1206.8 235.2,1208.3 235.8,1210.1 236.4,1207.6 237.1,1208.0 237.7,1207.5 238.4,1208.0 239.0,1208.3 239.6,1205.5 240.2,1208.9 240.8,1210.1 241.4,1207.3 242.0,1208.0 242.6,1206.3 243.2,1208.0 243.8,1210.1 244.4,1208.4 245.0,1208.7 245.6,1208.1 246.1,1208.1 246.7,1207.7 247.3,1206.9 247.8,1209.4 248.4,1208.8 249.0,1207.3 249.5,1210.0 250.1,1208.2 250.6,1210.1 251.2,1206.8 251.8,1210.3 252.3,1208.2 252.9,1206.4 253.4,1208.1 254.0,1205.5 254.5,1204.7 255.1,1206.6 255.7,1205.9 256.3,1207.1 256.8,1206.9 257.4,1206.9 258.0,1206.5 258.5,1207.2 259.1,1206.0 259.7,1207.4 260.3,1207.5 260.8,1202.0 261.4,1200.0 262.0,1205.2 262.5,1203.5 263.1,1204.0 263.6,1203.5 264.2,1204.0 264.7,1207.7 265.3,1203.7 265.9,1203.5 266.4,1203.2 267.0,1201.0 267.5,1200.3 268.1,1201.1 268.6,1201.7 269.2,1202.6 269.7,1198.4 270.3,1197.3 270.8,1202.8 271.4,1201.4 272.0,1202.6 272.5,1200.6 273.1,1199.2 273.6,1203.7 274.2,1199.1 274.7,1197.8 275.3,1200.1 275.8,1199.6 276.4,1196.2 276.9,1198.1 277.5,1199.6 278.1,1195.9 278.6,1196.0 279.2,1198.3 279.7,1201.1 280.3,1194.2 280.8,1194.3 281.4,1195.4 281.9,1193.9 282.5,1193.3 283.1,1193.8 283.7,1195.7 284.2,1193.5 284.8,1196.1 285.4,1197.0 285.9,1197.3 286.5,1198.6 287.1,1195.2 287.7,1194.7 288.2,1196.3 288.8,1197.4 289.4,1197.1 289.9,1194.3 290.5,1193.6 291.1,1192.1 291.6,1193.4 292.2,1193.3 292.8,1194.2 293.4,1195.1 293.9,1197.9 294.5,1199.4 295.1,1198.5 295.6,1196.4 296.2,1197.9 296.8,1199.6 297.4,1201.3 297.9,1201.1 298.5,1202.6 299.1,1201.0 299.6,1203.1 300.2,1204.6 300.8,1203.6 301.3,1202.9 301.9,1206.7 302.5,1203.7 303.1,1205.5 303.6,1204.4 304.2,1203.7 304.8,1203.5 305.3,1203.0 305.9,1203.4 306.5,1206.9 307.1,1207.6 307.6,1204.9 308.2,1204.8 308.8,1205.5 309.3,1203.2 309.9,1206.4 310.5,1203.8 311.1,1203.6 311.6,1200.2 312.2,1198.2 312.8,1197.3 313.3,1197.2 313.9,1200.0 314.5,1197.9 315.0,1198.8 315.6,1196.2 316.2,1193.7 316.8,1194.3 317.3,1192.9 317.9,1189.5 318.5,1191.1 319.0,1193.5 319.6,1191.5 320.2,1188.6 320.8,1187.9 321.3,1186.4 321.9,1187.3 322.5,1186.8 323.0,1188.4 323.6,1189.7 324.2,1192.5 324.7,1189.2 325.3,1186.4 325.9,1192.3 326.5,1192.9 327.0,1192.0 327.6,1193.6 328.2,1191.9 328.7,1192.7 329.3,1195.2 329.9,1194.7 330.5,1195.0 331.0,1195.6 331.6,1195.1 332.2,1194.2 332.7,1195.1 333.3,1196.9 333.9,1197.4 334.5,1193.5 335.0,1194.7 335.6,1190.1 336.2,1189.0 336.7,1191.8 337.3,1192.9 337.9,1194.8 338.4,1189.6 339.0,1192.6 339.6,1190.6 340.2,1189.8 340.7,1190.9 341.3,1193.0 341.9,1189.3 342.4,1186.1 343.0,1186.6 343.6,1187.5 344.2,1190.0 344.7,1189.2 345.3,1187.4 345.9,1186.0 346.5,1185.5 347.1,1187.9 347.7,1183.8 348.3,1183.9 348.9,1183.4 349.4,1188.0 350.0,1188.6 350.6,1188.0 351.1,1191.0 351.7,1195.0 352.3,1195.5 352.9,1192.0 353.4,1192.7 354.0,1195.9 354.6,1192.0 355.1,1191.9 355.7,1193.7 356.3,1196.5 356.9,1195.5 357.4,1196.5 358.0,1196.3 358.6,1197.0 359.1,1194.3 359.7,1191.3 360.3,1190.2 360.8,1193.9 361.4,1196.8 362.0,1196.9 362.6,1193.1 363.1,1191.2 363.7,1193.0 364.3,1192.5 364.8,1190.5 365.4,1191.5 366.0,1191.2 366.6,1192.0 367.1,1192.9 367.7,1192.5 368.3,1192.0 368.8,1192.1 369.4,1190.2 370.0,1188.2 370.5,1187.0 371.1,1188.8 371.7,1186.2 372.3,1186.5 372.8,1187.6 373.4,1188.5 374.0,1181.6 374.5,1183.0 375.1,1185.0 375.7,1183.0 376.3,1181.7 376.8,1179.7 377.4,1180.6 378.0,1182.2 378.5,1179.5 379.1,1181.9 379.7,1181.5 380.3,1183.0 380.8,1181.6 381.4,1183.3 382.0,1184.2 382.5,1183.1 383.1,1182.7 383.7,1185.7 384.2,1186.4 384.8,1184.1 385.4,1185.4 386.0,1183.0 386.5,1183.2 387.1,1178.8 387.7,1181.4 388.2,1184.8 388.8,1184.0 389.5,1185.1 390.1,1183.0 390.8,1183.6 391.4,1182.9" fill="none" stroke="#7030A0" stroke-width="2.4" stroke-linejoin="round" stroke-linecap="butt" /><polyline points="82.4,1190.1 83.0,1189.0 83.5,1188.0 84.1,1186.1 84.7,1186.3 85.3,1185.4 85.8,1186.6 86.4,1182.6 87.0,1187.2 87.6,1177.8 88.1,1179.6 88.7,1181.4 89.3,1179.5 89.8,1177.2 90.4,1177.1 91.0,1177.9 91.6,1177.7 92.2,1171.1 92.8,1170.6 93.4,1167.5 94.2,1173.3 95.0,1174.5 95.5,1174.4 96.1,1175.8 96.7,1173.3 97.3,1173.0 97.8,1170.6 98.4,1170.2 99.0,1166.5 99.5,1166.5 100.1,1166.7 100.7,1166.0 101.3,1170.6 101.8,1163.5 102.4,1160.3 103.0,1163.3 103.5,1166.0 104.1,1166.5 104.7,1169.0 105.2,1172.1 105.8,1168.7 106.4,1166.0 107.0,1167.4 107.5,1170.3 108.1,1169.9 108.6,1168.5 109.2,1168.9 109.7,1168.9 110.3,1165.0 110.8,1167.5 111.4,1166.0 112.0,1166.5 112.5,1166.3 113.1,1167.5 113.7,1169.7 114.2,1168.5 114.8,1168.8 115.4,1170.4 116.0,1170.3 116.5,1168.9 117.1,1171.6 117.7,1170.9 118.2,1171.4 118.8,1173.1 119.4,1176.8 119.9,1174.2 120.5,1174.4 121.1,1176.0 121.7,1175.1 122.2,1177.1 122.8,1180.5 123.4,1176.4 123.9,1178.7 124.5,1177.7 125.1,1182.6 125.7,1181.7 126.2,1181.2 126.8,1179.6 127.4,1177.1 127.9,1178.1 128.5,1178.7 129.1,1178.1 129.7,1181.0 130.3,1180.0 130.9,1176.1 131.5,1176.5 132.0,1178.4 132.6,1176.8 133.2,1178.5 133.7,1178.9 134.3,1181.0 134.8,1182.2 135.4,1181.7 135.9,1185.6 136.5,1182.6 137.1,1183.4 137.6,1180.0 138.2,1178.4 138.8,1177.9 139.4,1177.7 139.9,1179.6 140.5,1175.6 141.1,1179.7 141.6,1175.5 142.2,1178.7 142.8,1177.1 143.3,1174.8 143.9,1176.1 144.5,1172.4 145.1,1170.6 145.7,1168.8 146.3,1172.3 146.9,1165.1 147.5,1166.3 148.1,1161.3 148.7,1157.2 149.3,1154.6 149.9,1155.6 150.6,1156.1 151.2,1156.4 151.9,1160.4 152.5,1158.6 153.0,1158.3 153.6,1152.8 154.1,1154.5 154.7,1153.5 155.2,1148.3 155.8,1145.8 156.3,1145.2 156.9,1142.5 157.5,1144.5 158.1,1145.2 158.7,1144.5 159.3,1142.4 159.9,1140.1 160.5,1143.6 161.1,1142.1 161.7,1146.3 162.3,1149.3 162.9,1147.4 163.5,1143.0 164.1,1139.0 164.7,1133.6 165.3,1124.7 165.9,1123.2 166.6,1123.3 167.2,1124.4 167.9,1122.8 168.5,1126.2 169.1,1130.7 169.7,1130.3 170.3,1132.0 170.9,1131.8 171.5,1132.3 172.1,1134.3 172.7,1135.6 173.3,1133.8 173.9,1130.9 174.5,1134.3 175.1,1127.5 175.7,1127.4 176.3,1126.3 176.9,1126.8 177.5,1129.3 178.1,1128.8 178.7,1136.8 179.3,1137.5 179.9,1136.0 180.5,1135.9 181.2,1135.8 181.9,1143.0 182.5,1142.7 183.1,1141.1 183.7,1141.6 184.3,1139.3 184.9,1133.9 185.5,1132.8 186.1,1136.1 186.7,1139.2 187.3,1142.2 187.9,1143.6 188.4,1144.5 189.0,1144.6 189.6,1148.3 190.1,1151.2 190.7,1150.8 191.3,1150.9 191.9,1153.1 192.5,1152.9 193.1,1155.7 193.7,1154.5 194.3,1157.5 194.9,1156.9 195.5,1161.6 196.1,1168.9 196.7,1166.6 197.3,1169.8 197.9,1172.8 198.5,1170.3 199.0,1167.0 199.6,1165.5 200.2,1162.4 200.8,1158.0 201.4,1154.0 202.0,1155.6 202.6,1156.1 203.2,1159.3 203.8,1158.6 204.4,1155.6 205.0,1158.6 205.6,1156.9 206.1,1161.2 206.7,1159.0 207.3,1162.1 207.8,1162.3 208.4,1160.7 209.0,1162.9 209.6,1161.1 210.1,1155.9 210.7,1159.2 211.3,1157.6 211.8,1157.9 212.4,1161.6 213.0,1165.4 213.6,1167.1 214.2,1166.7 214.8,1168.6 215.4,1168.3 216.0,1170.4 216.6,1170.9 217.2,1174.3 217.8,1171.7 218.4,1173.3 219.0,1175.2 219.6,1172.8 220.2,1170.1 220.8,1171.2 221.4,1168.9 222.0,1170.2 222.6,1174.0 223.2,1174.7 223.8,1174.1 224.4,1173.0 225.0,1171.9 225.5,1175.1 226.1,1177.2 226.7,1177.0 227.2,1173.9 227.8,1173.1 228.4,1172.1 229.0,1172.2 229.5,1176.6 230.1,1179.3 230.7,1177.5 231.2,1177.9 231.8,1182.0 232.4,1181.2 233.0,1186.4 233.6,1189.5 234.2,1187.1 234.8,1188.5 235.4,1190.3 236.0,1190.7 236.6,1188.4 237.2,1186.9 237.8,1185.5 238.4,1186.2 239.0,1186.1 239.6,1184.0 240.1,1182.1 240.7,1181.7 241.2,1180.8 241.8,1179.6 242.3,1177.0 242.9,1178.1 243.4,1179.5 244.0,1178.2 244.5,1180.3 245.1,1179.6 245.7,1180.0 246.2,1180.5 246.8,1175.2 247.3,1178.5 247.9,1180.5 248.4,1177.1 249.0,1174.4 249.5,1174.5 250.1,1175.6 250.6,1177.0 251.2,1173.7 251.8,1174.7 252.3,1172.9 252.9,1174.7 253.4,1174.4 254.0,1174.7 254.5,1173.6 255.1,1173.5 255.7,1176.1 256.3,1173.3 256.8,1174.4 257.4,1173.9 258.0,1174.3 258.5,1172.8 259.1,1175.6 259.7,1175.8 260.3,1173.1 260.8,1176.0 261.4,1173.3 262.0,1174.2 262.5,1170.2 263.1,1169.7 263.6,1169.5 264.2,1174.8 264.7,1174.9 265.3,1172.5 265.9,1172.9 266.4,1172.5 267.0,1172.4 267.5,1170.0 268.1,1172.1 268.6,1171.4 269.2,1168.5 269.7,1169.1 270.3,1169.9 270.8,1168.4 271.4,1166.3 272.0,1166.9 272.5,1168.0 273.1,1171.1 273.7,1167.8 274.2,1168.4 274.8,1168.2 275.4,1167.5 276.0,1168.5 276.5,1165.1 277.1,1164.5 277.6,1162.6 278.2,1164.5 278.7,1163.6 279.3,1161.7 279.8,1161.4 280.4,1162.7 280.9,1161.0 281.5,1155.4 282.1,1161.8 282.7,1158.8 283.2,1159.4 283.8,1155.3 284.4,1154.3 284.9,1154.3 285.5,1153.9 286.1,1151.6 286.7,1154.4 287.2,1150.0 287.8,1148.2 288.4,1151.6 288.9,1148.5 289.5,1144.9 290.1,1148.4 290.6,1150.0 291.2,1152.6 291.8,1155.3 292.4,1153.2 292.9,1154.7 293.5,1153.6 294.1,1151.7 294.6,1151.3 295.2,1151.4 295.8,1150.6 296.4,1156.6 296.9,1154.9 297.5,1153.5 298.1,1155.6 298.7,1154.6 299.3,1159.0 299.9,1162.8 300.5,1160.1 301.1,1157.3 301.6,1154.9 302.2,1155.0 302.8,1155.1 303.3,1154.6 303.9,1151.0 304.5,1150.0 305.1,1145.5 305.7,1146.0 306.3,1146.8 306.9,1146.5 307.5,1143.9 308.1,1142.4 308.6,1149.0 309.2,1148.3 309.8,1148.1 310.3,1149.6 310.9,1149.6 311.5,1150.0 312.0,1149.9 312.6,1146.9 313.2,1144.0 313.8,1144.0 314.3,1138.4 314.9,1143.6 315.5,1142.8 316.0,1141.5 316.6,1143.6 317.2,1144.8 317.8,1143.2 318.3,1141.2 318.9,1138.8 319.5,1138.7 320.0,1138.6 320.6,1136.4 321.2,1137.9 321.8,1139.0 322.3,1137.8 322.9,1141.6 323.5,1137.6 324.1,1135.9 324.7,1140.1 325.3,1136.9 325.9,1131.6 326.5,1132.1 327.1,1132.1 327.7,1133.7 328.3,1134.4 328.9,1133.1 329.5,1131.8 330.1,1135.0 330.7,1138.0 331.3,1136.0 331.9,1132.7 332.5,1128.0 333.2,1129.6 333.9,1129.2 334.5,1128.3 335.0,1125.4 335.6,1123.3 336.2,1125.1 336.7,1123.0 337.3,1120.5 337.9,1116.8 338.4,1119.5 339.0,1121.9 339.6,1122.0 340.2,1127.1 340.7,1125.2 341.3,1128.8 341.9,1128.9 342.4,1126.6 343.0,1126.8 343.6,1122.3 344.2,1124.6 344.7,1121.2 345.3,1119.2 345.9,1119.5 346.4,1117.9 347.0,1114.3 347.6,1115.0 348.1,1110.8 348.7,1110.1 349.3,1107.2 350.1,1113.5 350.9,1120.8 351.5,1127.9 352.2,1134.1 352.9,1145.2 353.4,1145.0 354.0,1142.1 354.6,1141.3 355.1,1140.6 355.7,1146.0 356.3,1143.4 356.9,1144.6 357.4,1144.0 358.0,1144.1 358.6,1143.1 359.1,1138.7 359.7,1140.6 360.3,1142.5 360.8,1141.4 361.4,1144.7 362.0,1142.6 362.6,1141.1 363.1,1135.9 363.7,1139.5 364.3,1140.8 364.8,1136.0 365.4,1135.6 366.0,1140.4 366.6,1138.5 367.2,1141.4 367.8,1142.1 368.4,1143.0 369.0,1139.3 369.6,1137.6 370.1,1134.2 370.7,1128.3 371.3,1128.1 371.8,1129.6 372.4,1127.9 373.0,1127.9 373.6,1127.2 374.2,1128.2 374.8,1128.2 375.4,1130.9 376.0,1128.7 376.6,1127.1 377.2,1132.7 377.8,1133.0 378.4,1132.0 379.0,1133.7 379.5,1129.6 380.1,1131.4 380.7,1128.0 381.3,1121.9 381.8,1122.5 382.4,1124.3 383.0,1125.5 383.6,1126.0 384.2,1131.5 384.8,1132.3 385.4,1130.5 386.0,1126.6 386.5,1125.3 387.1,1125.3 387.7,1126.8 388.2,1121.2 388.8,1123.7 389.5,1126.5 390.1,1126.9 390.8,1128.0 391.4,1127.9" fill="none" stroke="#00B0F0" stroke-width="2.4" stroke-linejoin="round" stroke-linecap="butt" /><polyline points="82.4,1190.6 83.0,1192.2 83.5,1193.6 84.1,1191.1 84.7,1188.3 85.3,1189.2 85.8,1190.3 86.4,1191.6 87.0,1187.5 87.6,1185.7 88.1,1188.4 88.7,1188.9 89.3,1190.9 89.8,1190.5 90.4,1188.2 91.0,1186.8 91.6,1191.6 92.1,1188.2 92.7,1186.0 93.3,1184.4 93.8,1186.1 94.4,1186.8 95.0,1186.2 95.5,1186.2 96.1,1186.7 96.7,1187.4 97.3,1188.3 97.8,1186.9 98.4,1182.4 99.0,1185.1 99.5,1182.2 100.1,1183.3 100.7,1181.2 101.3,1183.0 101.8,1182.2 102.4,1183.6 103.0,1189.8 103.5,1186.0 104.1,1186.1 104.7,1182.0 105.2,1182.2 105.8,1183.9 106.4,1183.2 107.0,1183.6 107.5,1183.4 108.1,1181.2 108.7,1183.3 109.2,1181.5 109.8,1185.8 110.4,1183.1 111.0,1184.2 111.5,1183.9 112.1,1185.7 112.7,1183.8 113.2,1186.3 113.8,1185.5 114.4,1188.0 115.0,1188.0 115.5,1187.4 116.1,1185.7 116.7,1188.2 117.2,1188.9 117.8,1191.6 118.4,1189.2 118.9,1190.2 119.5,1190.9 120.1,1191.1 120.7,1191.4 121.2,1191.8 121.8,1190.9 122.4,1190.1 122.9,1191.3 123.5,1193.5 124.1,1196.1 124.7,1196.3 125.2,1196.6 125.8,1196.3 126.4,1196.1 126.9,1195.2 127.5,1196.0 128.1,1198.2 128.6,1195.3 129.2,1193.6 129.8,1197.9 130.4,1196.5 130.9,1197.4 131.5,1197.6 132.1,1194.1 132.6,1199.4 133.2,1200.3 133.8,1197.9 134.4,1198.0 134.9,1197.0 135.5,1194.7 136.1,1195.2 136.6,1196.3 137.2,1198.1 137.8,1198.1 138.4,1196.9 138.9,1198.8 139.5,1195.8 140.1,1197.5 140.6,1198.9 141.2,1196.9 141.8,1193.5 142.3,1193.8 142.9,1196.1 143.6,1198.9 144.2,1202.7 144.9,1200.3 145.5,1200.7 146.1,1202.2 146.7,1201.3 147.3,1196.9 147.9,1201.1 148.5,1205.6 149.1,1205.1 149.7,1201.4 150.3,1200.9 150.9,1201.9 151.5,1206.9 152.0,1205.7 152.6,1204.5 153.2,1207.0 153.8,1205.2 154.3,1208.4 154.9,1205.2 155.5,1204.5 156.0,1206.7 156.6,1209.2 157.2,1209.0 157.8,1208.5 158.3,1204.7 158.9,1205.4 159.5,1206.2 160.0,1206.9 160.6,1209.5 161.2,1209.1 161.8,1211.3 162.3,1211.1 162.9,1210.5 163.5,1210.1 164.0,1210.0 164.6,1210.2 165.2,1207.3 165.7,1206.1 166.3,1203.0 166.9,1206.7 167.5,1208.6 168.0,1206.5 168.6,1205.2 169.2,1203.5 169.7,1205.6 170.3,1206.7 170.9,1210.9 171.5,1209.4 172.0,1207.1 172.6,1203.4 173.2,1209.3 173.7,1209.6 174.3,1206.7 174.9,1209.1 175.4,1206.1 176.0,1214.1 176.6,1212.7 177.2,1210.8 177.7,1208.5 178.3,1203.6 178.9,1205.2 179.4,1203.0 180.0,1206.0 180.6,1201.9 181.2,1202.4 181.7,1206.4 182.3,1208.5 182.9,1204.0 183.4,1202.0 184.0,1205.8 184.6,1207.4 185.2,1204.9 185.7,1204.5 186.3,1204.6 186.9,1203.9 187.4,1204.7 188.0,1208.8 188.6,1209.5 189.1,1212.5 189.7,1209.9 190.3,1209.0 190.9,1207.2 191.4,1207.8 192.0,1205.8 192.6,1204.0 193.1,1207.8 193.7,1210.6 194.3,1210.5 194.9,1211.3 195.4,1209.4 196.0,1206.7 196.6,1206.9 197.1,1206.0 197.7,1204.1 198.3,1202.1 198.8,1201.5 199.4,1204.0 200.0,1205.1 200.6,1204.4 201.1,1207.5 201.7,1206.4 202.3,1206.6 202.8,1207.7 203.4,1204.6 204.0,1201.4 204.6,1205.2 205.1,1204.1 205.7,1207.5 206.3,1207.1 206.8,1208.3 207.4,1207.8 208.0,1202.1 208.6,1204.7 209.1,1203.0 209.7,1201.8 210.3,1201.7 210.8,1203.7 211.4,1205.7 212.0,1207.2 212.5,1203.4 213.1,1204.4 213.7,1202.0 214.3,1205.7 214.8,1209.1 215.4,1207.4 216.0,1208.5 216.5,1208.8 217.1,1210.3 217.7,1207.4 218.3,1206.2 218.8,1205.7 219.4,1210.4 220.0,1211.1 220.5,1209.2 221.1,1209.2 221.7,1209.1 222.3,1209.3 222.8,1208.7 223.4,1208.5 224.0,1206.8 224.5,1207.5 225.1,1212.2 225.7,1212.1 226.2,1211.4 226.8,1210.8 227.4,1211.7 228.0,1213.0 228.5,1212.1 229.1,1213.7 229.7,1214.9 230.2,1213.9 230.8,1213.9 231.4,1214.6 232.0,1215.6 232.6,1220.5 233.2,1217.2 233.8,1220.7 234.4,1219.8 235.0,1218.9 235.6,1219.7 236.1,1221.5 236.7,1220.0 237.3,1218.6 237.9,1216.9 238.4,1216.7 239.0,1218.3 239.6,1216.3 240.1,1214.0 240.7,1212.6 241.2,1212.2 241.8,1211.3 242.3,1215.3 242.9,1215.4 243.4,1214.1 244.0,1216.5 244.5,1213.7 245.1,1215.2 245.7,1215.9 246.2,1211.8 246.8,1210.1 247.3,1210.7 247.9,1214.2 248.4,1216.4 249.0,1212.6 249.5,1215.2 250.1,1213.5 250.6,1212.7 251.2,1212.1 251.8,1212.2 252.3,1209.4 252.9,1209.7 253.4,1209.3 254.0,1212.3 254.5,1215.9 255.1,1218.2 255.7,1213.1 256.3,1208.2 256.8,1208.3 257.4,1207.0 258.0,1211.5 258.5,1210.7 259.1,1207.8 259.7,1209.5 260.3,1209.3 260.8,1205.1 261.4,1205.2 262.0,1205.6 262.5,1206.4 263.1,1206.9 263.6,1206.3 264.2,1207.0 264.7,1205.8 265.3,1204.8 265.9,1208.8 266.4,1208.3 267.0,1208.2 267.5,1204.0 268.1,1204.7 268.6,1206.5 269.2,1203.1 269.7,1205.9 270.3,1204.0 270.8,1204.4 271.4,1203.3 272.0,1203.3 272.5,1205.1 273.1,1202.8 273.6,1205.5 274.2,1202.2 274.7,1200.5 275.3,1202.8 275.8,1200.3 276.4,1200.6 276.9,1203.0 277.5,1204.5 278.1,1199.7 278.6,1201.9 279.2,1205.4 279.7,1205.5 280.3,1202.9 280.8,1201.1 281.4,1201.0 281.9,1199.4 282.5,1200.5 283.1,1201.2 283.7,1201.6 284.2,1204.4 284.8,1202.9 285.4,1200.2 285.9,1203.8 286.5,1201.0 287.1,1200.8 287.7,1201.2 288.2,1200.7 288.8,1199.2 289.4,1199.8 289.9,1204.4 290.5,1201.0 291.1,1200.4 291.6,1202.5 292.2,1202.5 292.8,1202.4 293.4,1202.5 293.9,1197.2 294.5,1197.8 295.1,1200.2 295.6,1202.2 296.2,1204.8 296.8,1204.6 297.4,1203.6 297.9,1204.1 298.5,1203.1 299.1,1203.3 299.6,1204.0 300.2,1202.1 300.8,1200.2 301.3,1199.1 301.9,1202.0 302.5,1203.4 303.1,1203.3 303.6,1202.8 304.2,1202.4 304.8,1200.5 305.3,1200.8 305.9,1197.6 306.5,1198.3 307.1,1197.7 307.6,1200.4 308.2,1199.2 308.8,1199.8 309.3,1201.1 309.9,1203.6 310.5,1200.3 311.1,1198.7 311.6,1201.2 312.2,1198.5 312.8,1200.3 313.3,1199.0 313.9,1199.3 314.5,1195.7 315.0,1198.6 315.6,1197.2 316.2,1195.5 316.8,1200.0 317.3,1199.0 317.9,1203.4 318.5,1199.0 319.0,1195.6 319.6,1194.7 320.2,1196.8 320.8,1194.2 321.3,1193.8 321.9,1193.4 322.5,1190.4 323.0,1190.8 323.6,1189.6 324.2,1187.5 324.7,1190.3 325.3,1190.7 325.9,1189.6 326.5,1187.1 327.0,1183.8 327.6,1186.8 328.2,1186.7 328.7,1183.4 329.3,1184.9 329.9,1182.5 330.5,1184.0 331.0,1184.7 331.6,1185.1 332.2,1184.8 332.7,1184.3 333.3,1181.4 333.9,1181.4 334.5,1180.8 335.0,1180.7 335.6,1181.2 336.2,1181.8 336.7,1183.5 337.3,1176.1 337.9,1178.3 338.4,1177.9 339.0,1182.0 339.6,1180.9 340.2,1175.4 340.7,1176.8 341.3,1175.4 341.9,1177.3 342.4,1173.8 343.0,1173.7 343.6,1173.2 344.2,1172.6 344.7,1171.1 345.3,1167.7 345.9,1170.2 346.5,1169.8 347.1,1166.1 347.7,1161.2 348.3,1159.9 348.9,1158.5 349.5,1155.0 350.1,1157.4 350.7,1162.5 351.3,1161.4 351.9,1163.5 352.5,1162.4 353.1,1165.2 353.7,1167.2 354.3,1168.5 354.9,1170.5 355.5,1173.1 356.1,1169.1 356.7,1166.3 357.3,1168.2 357.9,1163.4 358.4,1159.5 359.0,1161.9 359.6,1160.5 360.1,1164.8 360.7,1161.2 361.3,1161.1 361.8,1159.3 362.4,1161.4 363.0,1160.0 363.6,1161.0 364.1,1160.6 364.7,1159.9 365.3,1162.3 365.8,1163.1 366.4,1160.8 367.0,1157.4 367.6,1155.0 368.1,1155.8 368.7,1159.4 369.3,1154.9 369.8,1151.8 370.4,1149.6 371.0,1147.1 371.5,1145.3 372.1,1145.1 372.7,1147.1 373.3,1144.3 373.8,1141.3 374.4,1138.1 375.0,1139.9 375.5,1139.8 376.1,1137.2 376.7,1136.1 377.3,1137.2 377.8,1139.3 378.4,1139.2 379.0,1138.1 379.5,1136.5 380.1,1136.7 380.7,1136.0 381.3,1139.5 381.8,1134.5 382.4,1133.5 383.0,1135.8 383.5,1133.5 384.1,1135.4 384.7,1133.1 385.2,1132.2 385.8,1130.5 386.5,1129.2 387.1,1130.1 387.8,1136.9 388.5,1138.0 389.1,1139.3 389.8,1141.5 390.6,1140.0 391.4,1136.9" fill="none" stroke="#BFBFBF" stroke-width="2.4" stroke-linejoin="round" stroke-linecap="butt" /><polyline points="82.4,1196.1 83.0,1195.9 83.5,1191.2 84.1,1187.8 84.7,1189.5 85.3,1191.4 85.8,1190.1 86.4,1186.8 87.0,1186.9 87.5,1189.6 88.1,1184.8 88.7,1186.8 89.2,1185.9 89.8,1184.8 90.3,1184.2 90.9,1180.9 91.4,1179.7 92.0,1182.1 92.6,1181.1 93.3,1181.7 94.0,1181.1 94.6,1182.1 95.2,1184.9 95.8,1187.0 96.4,1186.9 97.0,1186.9 97.5,1186.2 98.1,1185.1 98.7,1185.6 99.3,1183.3 99.8,1184.3 100.4,1182.2 101.0,1178.3 101.5,1177.1 102.1,1178.3 102.7,1178.1 103.3,1176.3 103.8,1176.2 104.4,1177.7 105.0,1178.4 105.5,1179.3 106.1,1176.4 106.6,1177.2 107.2,1178.6 107.7,1177.7 108.3,1179.7 108.8,1176.2 109.4,1175.5 110.0,1175.3 110.5,1174.2 111.1,1174.2 111.6,1174.7 112.2,1174.2 112.7,1173.1 113.3,1172.7 113.8,1173.1 114.4,1170.4 115.0,1172.4 115.6,1171.7 116.2,1173.4 116.7,1172.9 117.3,1175.3 117.9,1175.9 118.5,1176.2 119.1,1175.5 119.7,1176.9 120.2,1180.2 120.8,1175.4 121.4,1177.8 121.9,1178.3 122.5,1178.8 123.1,1178.2 123.7,1183.9 124.3,1184.6 124.9,1187.1 125.5,1185.5 126.1,1184.4 126.7,1187.6 127.2,1188.5 127.8,1187.2 128.4,1187.2 128.9,1188.9 129.5,1187.3 130.1,1186.8 130.6,1188.3 131.2,1191.1 131.8,1192.2 132.4,1191.7 132.9,1193.8 133.5,1191.9 134.1,1190.6 134.6,1195.3 135.2,1192.2 135.8,1193.0 136.4,1193.3 136.9,1192.7 137.5,1192.8 138.1,1193.7 138.6,1193.9 139.2,1192.1 139.8,1192.5 140.3,1195.2 140.9,1195.2 141.5,1193.2 142.1,1193.3 142.6,1191.6 143.2,1190.5 143.8,1191.5 144.3,1195.8 144.9,1193.6 145.5,1190.2 146.1,1192.2 146.6,1192.0 147.2,1194.5 147.8,1196.4 148.3,1194.3 148.9,1194.3 149.5,1192.3 150.1,1195.2 150.6,1192.8 151.2,1193.1 151.8,1197.4 152.3,1193.1 152.9,1193.2 153.5,1193.9 154.0,1195.8 154.6,1197.1 155.2,1200.1 155.8,1200.0 156.3,1200.8 156.9,1198.5 157.5,1200.1 158.0,1197.6 158.6,1201.2 159.2,1200.3 159.8,1201.8 160.3,1199.8 160.9,1200.3 161.5,1200.3 162.0,1201.3 162.6,1200.6 163.2,1199.5 163.7,1199.6 164.3,1199.2 164.9,1198.6 165.5,1197.2 166.0,1195.9 166.6,1201.0 167.2,1198.0 167.7,1195.8 168.3,1198.4 168.9,1197.8 169.5,1197.2 170.0,1199.3 170.6,1201.5 171.2,1197.6 171.7,1200.2 172.3,1199.8 172.9,1200.8 173.5,1197.8 174.0,1200.4 174.6,1200.4 175.2,1193.4 175.7,1197.4 176.3,1199.0 176.9,1194.5 177.4,1195.5 178.0,1194.8 178.6,1194.9 179.2,1192.8 179.7,1194.4 180.3,1194.9 180.9,1193.4 181.4,1192.4 182.0,1188.7 182.6,1190.9 183.2,1188.2 183.7,1189.1 184.3,1187.7 184.9,1192.9 185.5,1191.1 186.1,1193.5 186.7,1192.0 187.3,1191.8 187.9,1193.4 188.4,1193.2 189.0,1197.8 189.6,1195.5 190.1,1198.3 190.7,1194.7 191.3,1194.3 191.9,1197.3 192.5,1195.2 193.1,1200.7 193.7,1200.7 194.3,1200.3 194.9,1203.5 195.4,1200.7 196.0,1199.3 196.6,1195.6 197.1,1195.5 197.7,1198.6 198.3,1196.8 198.8,1201.3 199.4,1202.9 200.0,1202.2 200.6,1197.8 201.1,1197.1 201.7,1195.6 202.3,1198.4 202.8,1199.7 203.4,1198.2 204.0,1198.1 204.6,1198.4 205.1,1199.4 205.7,1196.9 206.3,1195.8 206.8,1198.5 207.4,1198.6 207.9,1198.4 208.5,1197.2 209.1,1197.8 209.6,1197.2 210.2,1194.7 210.7,1197.7 211.3,1197.5 211.8,1194.7 212.4,1195.3 213.0,1195.1 213.6,1194.5 214.2,1195.6 214.8,1196.1 215.4,1197.7 216.0,1200.5 216.5,1201.3 217.1,1199.4 217.7,1201.3 218.3,1201.6 218.8,1201.2 219.4,1205.0 220.0,1202.7 220.5,1205.4 221.1,1201.8 221.7,1204.0 222.3,1203.2 222.8,1206.0 223.4,1206.8 224.0,1205.4 224.5,1207.8 225.1,1210.4 225.7,1211.9 226.2,1213.2 226.8,1210.9 227.4,1214.6 228.0,1211.4 228.5,1211.2 229.1,1208.8 229.7,1210.5 230.2,1209.2 230.8,1211.8 231.4,1209.8 232.0,1216.0 232.5,1216.9 233.1,1219.0 233.7,1219.4 234.2,1218.1 234.8,1218.5 235.4,1217.3 236.0,1212.7 236.6,1211.8 237.2,1212.6 237.8,1214.9 238.4,1211.3 239.0,1212.4 239.6,1211.6 240.1,1213.8 240.7,1214.6 241.2,1211.7 241.8,1210.3 242.3,1214.6 242.9,1215.5 243.4,1213.9 244.0,1214.8 244.5,1213.6 245.1,1213.7 245.7,1212.0 246.2,1212.9 246.8,1215.2 247.3,1215.6 247.9,1215.3 248.4,1212.9 249.0,1213.4 249.5,1211.0 250.1,1210.2 250.6,1210.7 251.2,1208.5 251.8,1209.9 252.3,1206.9 252.9,1211.8 253.4,1212.3 254.0,1211.4 254.5,1209.1 255.1,1208.3 255.7,1208.2 256.3,1205.8 256.8,1207.0 257.4,1206.5 258.0,1209.5 258.5,1211.4 259.1,1212.4 259.7,1207.5 260.3,1205.4 260.8,1209.7 261.4,1210.1 262.0,1210.7 262.5,1210.2 263.1,1209.3 263.6,1212.4 264.2,1211.3 264.7,1210.5 265.3,1207.1 265.9,1207.9 266.4,1210.4 267.0,1209.9 267.5,1209.9 268.1,1207.5 268.6,1207.8 269.2,1205.3 269.7,1204.6 270.3,1206.4 270.8,1207.9 271.4,1204.4 272.0,1202.9 272.5,1202.0 273.1,1201.5 273.6,1201.4 274.2,1202.7 274.7,1202.0 275.3,1200.8 275.8,1200.8 276.4,1196.5 276.9,1197.5 277.5,1201.6 278.1,1197.4 278.6,1196.3 279.2,1197.1 279.7,1198.5 280.3,1196.5 280.8,1194.0 281.4,1197.5 281.9,1191.5 282.5,1191.3 283.1,1191.2 283.7,1187.9 284.2,1193.0 284.8,1195.8 285.4,1190.2 285.9,1189.6 286.5,1189.8 287.1,1191.5 287.7,1190.5 288.2,1191.4 288.8,1191.5 289.4,1190.3 289.9,1190.1 290.5,1192.7 291.1,1191.6 291.6,1192.1 292.2,1191.1 292.8,1192.2 293.4,1194.4 293.9,1192.5 294.5,1191.5 295.1,1191.2 295.6,1194.8 296.2,1193.4 296.8,1195.7 297.4,1200.9 297.9,1199.3 298.5,1200.9 299.1,1198.1 299.6,1196.6 300.2,1197.1 300.8,1194.4 301.3,1190.3 301.9,1192.9 302.5,1192.0 303.1,1193.0 303.6,1196.2 304.2,1194.6 304.8,1189.5 305.3,1190.7 305.9,1186.6 306.5,1184.3 307.1,1191.2 307.6,1188.1 308.2,1184.3 308.8,1186.6 309.3,1187.1 309.9,1188.3 310.5,1187.1 311.1,1186.1 311.6,1187.2 312.2,1185.3 312.8,1183.1 313.3,1183.8 313.9,1181.9 314.5,1184.1 315.0,1182.8 315.6,1181.6 316.2,1180.4 316.8,1181.6 317.3,1182.6 317.9,1180.3 318.5,1175.7 319.0,1179.2 319.6,1177.6 320.2,1179.4 320.8,1177.6 321.3,1178.6 321.9,1177.6 322.5,1176.2 323.0,1174.6 323.6,1176.1 324.2,1177.1 324.7,1174.1 325.3,1171.3 325.9,1175.1 326.5,1180.6 327.0,1177.4 327.6,1177.3 328.2,1175.9 328.7,1175.1 329.3,1180.1 329.9,1176.5 330.5,1178.0 331.1,1176.6 331.7,1178.2 332.3,1180.5 332.9,1178.5 333.5,1177.7 334.0,1180.4 334.6,1179.4 335.2,1176.4 335.7,1181.7 336.3,1180.7 336.9,1182.2 337.4,1186.9 338.0,1186.8 338.6,1186.1 339.2,1188.7 339.7,1185.4 340.3,1183.1 340.9,1183.6 341.4,1184.9 342.0,1185.2 342.6,1183.1 343.2,1187.0 343.7,1185.6 344.3,1183.4 344.9,1180.3 345.4,1180.0 346.0,1180.2 346.6,1178.7 347.1,1183.9 347.7,1183.4 348.3,1180.9 348.9,1178.4 349.4,1174.7 350.0,1178.8 350.6,1177.4 351.1,1180.3 351.7,1180.6 352.3,1177.7 352.9,1179.3 353.4,1179.1 354.0,1178.7 354.6,1178.7 355.1,1178.9 355.7,1178.2 356.3,1179.7 356.9,1179.6 357.4,1178.5 358.0,1178.1 358.6,1177.8 359.1,1177.6 359.7,1178.0 360.3,1179.0 360.8,1178.5 361.4,1175.0 362.0,1177.1 362.6,1175.9 363.1,1176.9 363.7,1181.9 364.3,1180.9 364.8,1173.9 365.4,1172.6 366.0,1177.3 366.6,1176.0 367.1,1174.0 367.7,1173.0 368.3,1175.7 368.8,1175.6 369.4,1176.3 370.0,1175.6 370.5,1175.5 371.1,1174.2 371.7,1172.5 372.3,1174.3 372.8,1176.1 373.4,1172.5 374.0,1172.2 374.5,1176.2 375.1,1171.8 375.7,1169.9 376.3,1172.2 376.8,1173.7 377.4,1172.3 378.0,1173.8 378.5,1171.9 379.1,1171.5 379.7,1170.8 380.3,1171.0 380.8,1170.3 381.4,1172.7 382.0,1172.2 382.5,1173.6 383.1,1170.8 383.7,1168.3 384.2,1167.6 384.8,1167.6 385.4,1169.4 386.0,1169.0 386.6,1170.4 387.2,1171.5 387.8,1169.1 388.5,1169.6 389.1,1176.1 389.8,1176.2 390.6,1179.7 391.4,1175.9" fill="none" stroke="#44546A" stroke-width="2.4" stroke-linejoin="round" stroke-linecap="butt" /><line x1="82.4" y1="1096.4" x2="82.4" y2="1232.0" stroke="#7F7F7F" stroke-width="1.15"/><line x1="78.4" y1="1096.4" x2="82.4" y2="1096.4" stroke="#7F7F7F" stroke-width="1.15"/><text x="75.4" y="1100.2" font-size="10.8" text-anchor="end" fill="#000" textLength="20.6" lengthAdjust="spacingAndGlyphs" >100%</text><line x1="78.4" y1="1115.8" x2="82.4" y2="1115.8" stroke="#7F7F7F" stroke-width="1.15"/><text x="75.4" y="1119.6" font-size="10.8" text-anchor="end" fill="#000" textLength="15.3" lengthAdjust="spacingAndGlyphs" >80%</text><line x1="78.4" y1="1135.1" x2="82.4" y2="1135.1" stroke="#7F7F7F" stroke-width="1.15"/><text x="75.4" y="1138.9" font-size="10.8" text-anchor="end" fill="#000" textLength="15.3" lengthAdjust="spacingAndGlyphs" >60%</text><line x1="78.4" y1="1154.5" x2="82.4" y2="1154.5" stroke="#7F7F7F" stroke-width="1.15"/><text x="75.4" y="1158.3" font-size="10.8" text-anchor="end" fill="#000" textLength="15.3" lengthAdjust="spacingAndGlyphs" >40%</text><line x1="78.4" y1="1173.9" x2="82.4" y2="1173.9" stroke="#7F7F7F" stroke-width="1.15"/><text x="75.4" y="1177.7" font-size="10.8" text-anchor="end" fill="#000" textLength="15.3" lengthAdjust="spacingAndGlyphs" >20%</text><line x1="78.4" y1="1193.3" x2="82.4" y2="1193.3" stroke="#7F7F7F" stroke-width="1.15"/><text x="75.4" y="1197.1" font-size="10.8" text-anchor="end" fill="#000" textLength="10.1" lengthAdjust="spacingAndGlyphs" >0%</text><line x1="78.4" y1="1212.6" x2="82.4" y2="1212.6" stroke="#7F7F7F" stroke-width="1.15"/><text x="75.4" y="1216.4" font-size="10.8" text-anchor="end" fill="#FF0000" textLength="20.6" lengthAdjust="spacingAndGlyphs" >-20%</text><line x1="78.4" y1="1232.0" x2="82.4" y2="1232.0" stroke="#7F7F7F" stroke-width="1.15"/><text x="75.4" y="1235.8" font-size="10.8" text-anchor="end" fill="#FF0000" textLength="20.6" lengthAdjust="spacingAndGlyphs" >-40%</text><line x1="391.4" y1="1096.4" x2="391.4" y2="1193.2" stroke="#7F7F7F" stroke-width="1.15"/><line x1="391.4" y1="1193.2" x2="391.4" y2="1232.0" stroke="#FF0000" stroke-width="1.15"/><line x1="391.4" y1="1096.4" x2="395.4" y2="1096.4" stroke="#7F7F7F" stroke-width="1.15"/><text x="398.4" y="1100.2" font-size="10.8" text-anchor="start" fill="#000" textLength="20.6" lengthAdjust="spacingAndGlyphs" >100%</text><line x1="391.4" y1="1115.8" x2="395.4" y2="1115.8" stroke="#7F7F7F" stroke-width="1.15"/><text x="398.4" y="1119.6" font-size="10.8" text-anchor="start" fill="#000" textLength="15.3" lengthAdjust="spacingAndGlyphs" >80%</text><line x1="391.4" y1="1135.1" x2="395.4" y2="1135.1" stroke="#7F7F7F" stroke-width="1.15"/><text x="398.4" y="1138.9" font-size="10.8" text-anchor="start" fill="#000" textLength="15.3" lengthAdjust="spacingAndGlyphs" >60%</text><line x1="391.4" y1="1154.5" x2="395.4" y2="1154.5" stroke="#7F7F7F" stroke-width="1.15"/><text x="398.4" y="1158.3" font-size="10.8" text-anchor="start" fill="#000" textLength="15.3" lengthAdjust="spacingAndGlyphs" >40%</text><line x1="391.4" y1="1173.9" x2="395.4" y2="1173.9" stroke="#7F7F7F" stroke-width="1.15"/><text x="398.4" y="1177.7" font-size="10.8" text-anchor="start" fill="#000" textLength="15.3" lengthAdjust="spacingAndGlyphs" >20%</text><line x1="391.4" y1="1193.3" x2="395.4" y2="1193.3" stroke="#7F7F7F" stroke-width="1.15"/><text x="398.4" y="1197.1" font-size="10.8" text-anchor="start" fill="#000" textLength="10.1" lengthAdjust="spacingAndGlyphs" >0%</text><line x1="391.4" y1="1212.6" x2="395.4" y2="1212.6" stroke="#FF0000" stroke-width="1.15"/><text x="398.4" y="1216.4" font-size="10.8" text-anchor="start" fill="#FF0000" textLength="20.6" lengthAdjust="spacingAndGlyphs" >-20%</text><line x1="391.4" y1="1232.0" x2="395.4" y2="1232.0" stroke="#FF0000" stroke-width="1.15"/><text x="398.4" y="1235.8" font-size="10.8" text-anchor="start" fill="#FF0000" textLength="20.6" lengthAdjust="spacingAndGlyphs" >-40%</text><text transform="translate(83.9,1248.0) rotate(-45)" font-size="11" text-anchor="end" fill="#000">2019-01</text><text transform="translate(115.1,1248.0) rotate(-45)" font-size="11" text-anchor="end" fill="#000">2019-04</text><text transform="translate(146.3,1248.0) rotate(-45)" font-size="11" text-anchor="end" fill="#000">2019-07</text><text transform="translate(177.6,1248.0) rotate(-45)" font-size="11" text-anchor="end" fill="#000">2019-10</text><text transform="translate(208.8,1248.0) rotate(-45)" font-size="11" text-anchor="end" fill="#000">2020-01</text><text transform="translate(240.0,1248.0) rotate(-45)" font-size="11" text-anchor="end" fill="#000">2020-04</text><text transform="translate(271.2,1248.0) rotate(-45)" font-size="11" text-anchor="end" fill="#000">2020-07</text><text transform="translate(302.4,1248.0) rotate(-45)" font-size="11" text-anchor="end" fill="#000">2020-10</text><text transform="translate(333.7,1248.0) rotate(-45)" font-size="11" text-anchor="end" fill="#000">2021-01</text><text transform="translate(364.9,1248.0) rotate(-45)" font-size="11" text-anchor="end" fill="#000">2021-04</text><line x1="117.8" y1="1079.8" x2="150.3" y2="1079.8" stroke="#FF0000" stroke-width="2.4"/><text x="153.1" y="1083.4" font-size="10.8" text-anchor="start" fill="#000" ><tspan textLength="26.2" lengthAdjust="spacingAndGlyphs">LMES-</tspan>铜<tspan dx="-0.08">3</tspan></text><line x1="200.0" y1="1079.8" x2="232.5" y2="1079.8" stroke="#00B050" stroke-width="2.4"/><text x="235.3" y="1083.4" font-size="10.8" text-anchor="start" fill="#000" ><tspan textLength="26.2" lengthAdjust="spacingAndGlyphs">LMES-</tspan>铝<tspan dx="-0.08">3</tspan></text><line x1="282.0" y1="1079.8" x2="314.5" y2="1079.8" stroke="#7030A0" stroke-width="2.4"/><text x="317.3" y="1083.4" font-size="10.8" text-anchor="start" fill="#000" ><tspan textLength="26.2" lengthAdjust="spacingAndGlyphs">LMES-</tspan>铅<tspan dx="-0.08">3</tspan></text><line x1="117.8" y1="1094.5" x2="150.3" y2="1094.5" stroke="#00B0F0" stroke-width="2.4"/><text x="153.1" y="1098.1" font-size="10.8" text-anchor="start" fill="#000" ><tspan textLength="26.2" lengthAdjust="spacingAndGlyphs">LMES-</tspan>镍<tspan dx="-0.08">3</tspan></text><line x1="200.0" y1="1094.5" x2="232.5" y2="1094.5" stroke="#BFBFBF" stroke-width="2.4"/><text x="235.3" y="1098.1" font-size="10.8" text-anchor="start" fill="#000" ><tspan textLength="26.2" lengthAdjust="spacingAndGlyphs">LMES-</tspan>锡<tspan dx="-0.08">3</tspan></text><line x1="282.0" y1="1094.5" x2="314.5" y2="1094.5" stroke="#44546A" stroke-width="2.4"/><text x="317.3" y="1098.1" font-size="10.8" text-anchor="start" fill="#000" ><tspan textLength="26.2" lengthAdjust="spacingAndGlyphs">LMES-</tspan>锌<tspan dx="-0.08">3</tspan></text></svg>
<svg class="chart" style="left:472px;top:1070px" width="400" height="205" viewBox="472 1070 400 205"><line x1="516.0" y1="1252.7" x2="814.8" y2="1252.7" stroke="#7F7F7F" stroke-width="1.15"/><line x1="516.0" y1="1252.7" x2="516.0" y2="1256.7" stroke="#7F7F7F" stroke-width="1.15"/><line x1="543.2" y1="1252.7" x2="543.2" y2="1256.7" stroke="#7F7F7F" stroke-width="1.15"/><line x1="570.3" y1="1252.7" x2="570.3" y2="1256.7" stroke="#7F7F7F" stroke-width="1.15"/><line x1="597.5" y1="1252.7" x2="597.5" y2="1256.7" stroke="#7F7F7F" stroke-width="1.15"/><line x1="624.7" y1="1252.7" x2="624.7" y2="1256.7" stroke="#7F7F7F" stroke-width="1.15"/><line x1="651.8" y1="1252.7" x2="651.8" y2="1256.7" stroke="#7F7F7F" stroke-width="1.15"/><line x1="679.0" y1="1252.7" x2="679.0" y2="1256.7" stroke="#7F7F7F" stroke-width="1.15"/><line x1="706.1" y1="1252.7" x2="706.1" y2="1256.7" stroke="#7F7F7F" stroke-width="1.15"/><line x1="733.3" y1="1252.7" x2="733.3" y2="1256.7" stroke="#7F7F7F" stroke-width="1.15"/><line x1="760.5" y1="1252.7" x2="760.5" y2="1256.7" stroke="#7F7F7F" stroke-width="1.15"/><line x1="787.6" y1="1252.7" x2="787.6" y2="1256.7" stroke="#7F7F7F" stroke-width="1.15"/><line x1="814.8" y1="1252.7" x2="814.8" y2="1256.7" stroke="#7F7F7F" stroke-width="1.15"/><text x="529.6" y="1269.5" font-size="10.8" text-anchor="middle" fill="#000" textLength="15.3" lengthAdjust="spacingAndGlyphs" >C00</text><text x="556.7" y="1269.5" font-size="10.8" text-anchor="middle" fill="#000" textLength="15.3" lengthAdjust="spacingAndGlyphs" >C01</text><text x="583.9" y="1269.5" font-size="10.8" text-anchor="middle" fill="#000" textLength="15.3" lengthAdjust="spacingAndGlyphs" >C02</text><text x="611.1" y="1269.5" font-size="10.8" text-anchor="middle" fill="#000" textLength="15.3" lengthAdjust="spacingAndGlyphs" >C03</text><text x="638.2" y="1269.5" font-size="10.8" text-anchor="middle" fill="#000" textLength="15.3" lengthAdjust="spacingAndGlyphs" >C04</text><text x="665.4" y="1269.5" font-size="10.8" text-anchor="middle" fill="#000" textLength="15.3" lengthAdjust="spacingAndGlyphs" >C05</text><text x="692.6" y="1269.5" font-size="10.8" text-anchor="middle" fill="#000" textLength="15.3" lengthAdjust="spacingAndGlyphs" >C06</text><text x="719.7" y="1269.5" font-size="10.8" text-anchor="middle" fill="#000" textLength="15.3" lengthAdjust="spacingAndGlyphs" >C07</text><text x="746.9" y="1269.5" font-size="10.8" text-anchor="middle" fill="#000" textLength="15.3" lengthAdjust="spacingAndGlyphs" >C08</text><text x="774.1" y="1269.5" font-size="10.8" text-anchor="middle" fill="#000" textLength="15.3" lengthAdjust="spacingAndGlyphs" >C09</text><text x="801.2" y="1269.5" font-size="10.8" text-anchor="middle" fill="#000" textLength="15.3" lengthAdjust="spacingAndGlyphs" >C10</text><polyline points="529.6,1149.8 556.7,1146.0 583.9,1142.1 611.1,1139.9 638.2,1139.1 665.4,1137.6 692.6,1136.0 719.7,1136.8 746.9,1134.5 774.1,1134.5 801.2,1133.0" fill="none" stroke="#00B0F0" stroke-width="2.2" stroke-linejoin="round" stroke-linecap="butt" /><polyline points="529.6,1175.7 556.7,1171.9 583.9,1168.8 611.1,1165.8 638.2,1164.2 665.4,1162.0 692.6,1160.4 719.7,1158.9 746.9,1157.4 774.1,1155.1 801.2,1100.2" fill="none" stroke="#44546A" stroke-width="2.2" stroke-linejoin="round" stroke-linecap="butt" /><polyline points="529.6,1233.6 556.7,1231.4 583.9,1229.1 611.1,1227.5 638.2,1225.2 665.4,1223.7 692.6,1222.2 719.7,1221.4 746.9,1219.9 774.1,1217.6 801.2,1216.9" fill="none" stroke="#7030A0" stroke-width="2.2" stroke-linejoin="round" stroke-linecap="butt" /><polyline points="529.6,1213.0 556.7,1211.5 583.9,1208.5 611.1,1207.7 638.2,1207.0 665.4,1205.4 692.6,1203.9 719.7,1200.1 746.9,1194.0 774.1,1192.5 801.2,1194.0" fill="none" stroke="#FF0000" stroke-width="2.6" stroke-linejoin="round" stroke-linecap="butt" /><rect x="526.6" y="1210.0" width="6" height="6" fill="#FF0000"/><rect x="553.7" y="1208.5" width="6" height="6" fill="#FF0000"/><rect x="580.9" y="1205.5" width="6" height="6" fill="#FF0000"/><rect x="608.1" y="1204.7" width="6" height="6" fill="#FF0000"/><rect x="635.2" y="1204.0" width="6" height="6" fill="#FF0000"/><rect x="662.4" y="1202.4" width="6" height="6" fill="#FF0000"/><rect x="689.6" y="1200.9" width="6" height="6" fill="#FF0000"/><rect x="716.7" y="1197.1" width="6" height="6" fill="#FF0000"/><rect x="743.9" y="1191.0" width="6" height="6" fill="#FF0000"/><rect x="771.1" y="1189.5" width="6" height="6" fill="#FF0000"/><rect x="798.2" y="1191.0" width="6" height="6" fill="#FF0000"/><line x1="516.0" y1="1100.2" x2="516.0" y2="1252.7" stroke="#7F7F7F" stroke-width="1.15"/><line x1="512.0" y1="1100.2" x2="516.0" y2="1100.2" stroke="#7F7F7F" stroke-width="1.15"/><text x="509.0" y="1104.0" font-size="10.8" text-anchor="end" fill="#000" textLength="31.1" lengthAdjust="spacing" >76,000</text><line x1="512.0" y1="1130.7" x2="516.0" y2="1130.7" stroke="#7F7F7F" stroke-width="1.15"/><text x="509.0" y="1134.5" font-size="10.8" text-anchor="end" fill="#000" textLength="31.1" lengthAdjust="spacing" >74,000</text><line x1="512.0" y1="1161.2" x2="516.0" y2="1161.2" stroke="#7F7F7F" stroke-width="1.15"/><text x="509.0" y="1165.0" font-size="10.8" text-anchor="end" fill="#000" textLength="31.1" lengthAdjust="spacing" >72,000</text><line x1="512.0" y1="1191.7" x2="516.0" y2="1191.7" stroke="#7F7F7F" stroke-width="1.15"/><text x="509.0" y="1195.5" font-size="10.8" text-anchor="end" fill="#000" textLength="31.1" lengthAdjust="spacing" >70,000</text><line x1="512.0" y1="1222.2" x2="516.0" y2="1222.2" stroke="#7F7F7F" stroke-width="1.15"/><text x="509.0" y="1226.0" font-size="10.8" text-anchor="end" fill="#000" textLength="31.1" lengthAdjust="spacing" >68,000</text><line x1="512.0" y1="1252.7" x2="516.0" y2="1252.7" stroke="#7F7F7F" stroke-width="1.15"/><text x="509.0" y="1256.5" font-size="10.8" text-anchor="end" fill="#000" textLength="31.1" lengthAdjust="spacing" >66,000</text><line x1="814.8" y1="1100.2" x2="814.8" y2="1252.7" stroke="#7F7F7F" stroke-width="1.15"/><line x1="814.8" y1="1100.2" x2="818.8" y2="1100.2" stroke="#7F7F7F" stroke-width="1.15"/><text x="821.8" y="1104.0" font-size="10.8" text-anchor="start" fill="#000" textLength="31.1" lengthAdjust="spacing" >76,000</text><line x1="814.8" y1="1130.7" x2="818.8" y2="1130.7" stroke="#7F7F7F" stroke-width="1.15"/><text x="821.8" y="1134.5" font-size="10.8" text-anchor="start" fill="#000" textLength="31.1" lengthAdjust="spacing" >74,000</text><line x1="814.8" y1="1161.2" x2="818.8" y2="1161.2" stroke="#7F7F7F" stroke-width="1.15"/><text x="821.8" y="1165.0" font-size="10.8" text-anchor="start" fill="#000" textLength="31.1" lengthAdjust="spacing" >72,000</text><line x1="814.8" y1="1191.7" x2="818.8" y2="1191.7" stroke="#7F7F7F" stroke-width="1.15"/><text x="821.8" y="1195.5" font-size="10.8" text-anchor="start" fill="#000" textLength="31.1" lengthAdjust="spacing" >70,000</text><line x1="814.8" y1="1222.2" x2="818.8" y2="1222.2" stroke="#7F7F7F" stroke-width="1.15"/><text x="821.8" y="1226.0" font-size="10.8" text-anchor="start" fill="#000" textLength="31.1" lengthAdjust="spacing" >68,000</text><line x1="814.8" y1="1252.7" x2="818.8" y2="1252.7" stroke="#7F7F7F" stroke-width="1.15"/><text x="821.8" y="1256.5" font-size="10.8" text-anchor="start" fill="#000" textLength="31.1" lengthAdjust="spacing" >66,000</text><line x1="560.6" y1="1082.8" x2="591.6" y2="1082.8" stroke="#FF0000" stroke-width="2.4"/><rect x="573.1" y="1079.8" width="6" height="6" fill="#FF0000"/><text x="595.1" y="1086.4" font-size="10.8" text-anchor="start" fill="#000" textLength="52.1" lengthAdjust="spacing" >2021-06-25</text><line x1="675.8" y1="1082.8" x2="706.8" y2="1082.8" stroke="#7030A0" stroke-width="2.4"/><text x="710.3" y="1086.4" font-size="10.8" text-anchor="start" fill="#000" textLength="52.1" lengthAdjust="spacing" >2021-06-18</text><line x1="560.6" y1="1098.7" x2="591.6" y2="1098.7" stroke="#44546A" stroke-width="2.4"/><text x="595.1" y="1102.3" font-size="10.8" text-anchor="start" fill="#000" textLength="52.1" lengthAdjust="spacing" >2021-06-10</text><line x1="675.8" y1="1098.7" x2="706.8" y2="1098.7" stroke="#00B0F0" stroke-width="2.4"/><text x="710.3" y="1102.3" font-size="10.8" text-anchor="start" fill="#000" textLength="52.1" lengthAdjust="spacing" >2021-06-03</text></svg>
<svg class="chart" style="left:33px;top:1419px" width="397" height="207" viewBox="33 1419 397 207"><rect x="33" y="1419" width="397" height="207" fill="#fff"/><line x1="82.0" y1="1544.3" x2="390.9" y2="1544.3" stroke="#7F7F7F" stroke-width="1.15"/><line x1="82.0" y1="1544.3" x2="82.0" y2="1548.3" stroke="#7F7F7F" stroke-width="1.15"/><line x1="108.1" y1="1544.3" x2="108.1" y2="1548.3" stroke="#7F7F7F" stroke-width="1.15"/><line x1="132.8" y1="1544.3" x2="132.8" y2="1548.3" stroke="#7F7F7F" stroke-width="1.15"/><line x1="158.2" y1="1544.3" x2="158.2" y2="1548.3" stroke="#7F7F7F" stroke-width="1.15"/><line x1="183.7" y1="1544.3" x2="183.7" y2="1548.3" stroke="#7F7F7F" stroke-width="1.15"/><line x1="209.8" y1="1544.3" x2="209.8" y2="1548.3" stroke="#7F7F7F" stroke-width="1.15"/><line x1="236.2" y1="1544.3" x2="236.2" y2="1548.3" stroke="#7F7F7F" stroke-width="1.15"/><line x1="262.5" y1="1544.3" x2="262.5" y2="1548.3" stroke="#7F7F7F" stroke-width="1.15"/><line x1="288.6" y1="1544.3" x2="288.6" y2="1548.3" stroke="#7F7F7F" stroke-width="1.15"/><line x1="314.6" y1="1544.3" x2="314.6" y2="1548.3" stroke="#7F7F7F" stroke-width="1.15"/><line x1="340.8" y1="1544.3" x2="340.8" y2="1548.3" stroke="#7F7F7F" stroke-width="1.15"/><line x1="366.7" y1="1544.3" x2="366.7" y2="1548.3" stroke="#7F7F7F" stroke-width="1.15"/><line x1="390.9" y1="1544.3" x2="390.9" y2="1548.3" stroke="#7F7F7F" stroke-width="1.15"/><text x="82.0" y="1591.5" font-size="10.2" text-anchor="middle" fill="#000" ><tspan textLength="10.0" lengthAdjust="spacingAndGlyphs">01</tspan>月</text><text x="108.1" y="1591.5" font-size="10.2" text-anchor="middle" fill="#000" ><tspan textLength="10.0" lengthAdjust="spacingAndGlyphs">02</tspan>月</text><text x="132.8" y="1591.5" font-size="10.2" text-anchor="middle" fill="#000" ><tspan textLength="10.0" lengthAdjust="spacingAndGlyphs">03</tspan>月</text><text x="158.2" y="1591.5" font-size="10.2" text-anchor="middle" fill="#000" ><tspan textLength="10.0" lengthAdjust="spacingAndGlyphs">04</tspan>月</text><text x="183.7" y="1591.5" font-size="10.2" text-anchor="middle" fill="#000" ><tspan textLength="10.0" lengthAdjust="spacingAndGlyphs">05</tspan>月</text><text x="209.8" y="1591.5" font-size="10.2" text-anchor="middle" fill="#000" ><tspan textLength="10.0" lengthAdjust="spacingAndGlyphs">06</tspan>月</text><text x="236.2" y="1591.5" font-size="10.2" text-anchor="middle" fill="#000" ><tspan textLength="10.0" lengthAdjust="spacingAndGlyphs">07</tspan>月</text><text x="262.5" y="1591.5" font-size="10.2" text-anchor="middle" fill="#000" ><tspan textLength="10.0" lengthAdjust="spacingAndGlyphs">08</tspan>月</text><text x="288.6" y="1591.5" font-size="10.2" text-anchor="middle" fill="#000" ><tspan textLength="10.0" lengthAdjust="spacingAndGlyphs">09</tspan>月</text><text x="314.6" y="1591.5" font-size="10.2" text-anchor="middle" fill="#000" ><tspan textLength="10.0" lengthAdjust="spacingAndGlyphs">10</tspan>月</text><text x="340.8" y="1591.5" font-size="10.2" text-anchor="middle" fill="#000" ><tspan textLength="10.0" lengthAdjust="spacingAndGlyphs">11</tspan>月</text><text x="366.7" y="1591.5" font-size="10.2" text-anchor="middle" fill="#000" ><tspan textLength="10.0" lengthAdjust="spacingAndGlyphs">12</tspan>月</text><polyline points="82.7,1556.0 84.2,1552.4 85.8,1548.0 87.3,1545.9 88.8,1542.4 90.5,1541.3 92.1,1540.0 93.4,1546.4 94.7,1551.5 95.9,1552.4 97.2,1552.0 98.5,1552.3 99.7,1551.4 101.0,1551.6 102.3,1549.5 103.7,1555.0 105.2,1557.2 106.6,1559.6 108.3,1557.1 109.9,1553.3 111.2,1554.3 112.5,1555.6 113.7,1554.6 115.3,1560.9 116.8,1564.4 118.1,1566.3 119.3,1566.7 121.0,1566.1 122.6,1567.4 123.9,1565.1 125.2,1563.8 126.4,1563.5 127.7,1563.2 129.0,1559.0 130.3,1560.1 131.5,1558.8 132.8,1558.3 134.1,1555.8 135.3,1555.7 136.6,1556.2 137.9,1554.5 139.2,1554.5 140.4,1555.2 141.7,1555.8 143.0,1561.0 144.2,1565.0 145.5,1562.9 146.8,1562.2 148.3,1558.7 149.8,1555.7 151.5,1558.8 153.1,1557.1 154.8,1557.7 156.4,1556.0 158.0,1552.2 159.5,1549.3 160.8,1544.9 162.0,1541.2 163.3,1540.9 164.6,1540.1 165.8,1540.3 167.5,1541.5 169.2,1539.4 171.2,1528.4 173.0,1521.3 175.3,1525.2 177.3,1523.5 178.6,1522.9 179.8,1524.4 181.1,1528.6 182.4,1531.7 183.6,1539.4 184.9,1544.5 186.4,1544.4 188.0,1542.5 189.6,1541.4 191.3,1542.2 192.5,1544.6 193.8,1546.0 195.1,1547.9 196.6,1547.6 198.1,1549.7 199.8,1548.1 201.4,1545.4 202.7,1545.3 204.0,1547.4 205.3,1548.6 206.5,1548.7 207.8,1546.7 209.1,1545.7 210.3,1545.4 211.6,1544.2 212.9,1543.6 214.2,1544.7 215.4,1543.9 216.7,1543.0 218.0,1545.3 219.2,1545.8 220.5,1547.3 221.8,1547.1 223.1,1550.6 224.3,1553.2 225.6,1553.1 226.9,1554.2 228.1,1554.3 229.4,1555.4 230.7,1557.3 231.9,1558.6 233.2,1558.1 234.5,1556.9 235.8,1556.0 237.0,1552.8 238.3,1549.3 239.6,1546.1 240.8,1544.5 242.1,1542.9 243.4,1543.7 244.7,1544.7 245.9,1547.5 247.5,1549.4 249.0,1551.2 250.4,1547.5 251.8,1542.2 253.1,1545.2 254.3,1546.6 255.6,1548.8 256.9,1549.3 258.1,1549.0 259.4,1547.6 260.7,1543.8 261.9,1542.9 263.2,1540.8 264.5,1541.9 265.8,1542.5 267.0,1541.6 268.3,1541.1 269.6,1540.8 270.8,1540.6 272.1,1538.2 273.4,1537.5 274.7,1535.2 276.3,1529.8 278.0,1526.0 279.2,1530.5 280.5,1532.5 281.8,1535.4 283.1,1541.9 284.8,1539.8 286.6,1538.1 288.1,1535.3 289.7,1533.9 291.2,1532.9 292.7,1534.8 294.2,1538.8 295.9,1541.0 297.5,1542.2 299.2,1545.8 300.8,1549.3 302.6,1532.5 303.9,1521.7 305.9,1528.6 307.2,1534.5 308.5,1539.0 310.0,1542.1 311.5,1544.6 312.8,1543.3 314.1,1541.0 315.3,1541.4 316.6,1541.0 317.9,1540.9 319.2,1540.8 320.4,1544.4 321.7,1548.0 323.2,1546.2 324.7,1543.0 326.4,1545.1 328.1,1546.4 329.3,1547.4 330.6,1546.0 331.9,1547.3 333.4,1548.6 334.9,1551.4 336.2,1551.8 337.5,1551.3 339.1,1545.6 340.8,1540.7 342.0,1540.5 343.3,1540.5 344.6,1541.2 345.8,1541.8 347.1,1542.1 348.4,1542.9 349.7,1539.8 350.9,1539.6 352.2,1539.1 353.5,1538.0 354.7,1538.4 356.0,1537.0 357.3,1536.2 358.6,1537.5 359.8,1536.4 361.1,1535.5 362.4,1533.4 363.6,1534.1 364.9,1533.4 366.2,1534.0 367.5,1534.4 369.5,1525.2 370.9,1523.8 372.4,1522.8 373.8,1524.4 375.6,1533.2 376.9,1537.0 378.1,1540.2 379.4,1539.0 380.7,1542.9 382.7,1535.2 384.7,1533.9 386.8,1541.2 388.8,1540.5" fill="none" stroke="#00B0F0" stroke-width="2.0" stroke-linejoin="round" stroke-linecap="butt" /><polyline points="82.7,1540.2 84.2,1538.7 85.8,1536.3 87.0,1540.2 88.3,1540.0 89.6,1542.6 90.8,1541.2 92.1,1539.0 93.8,1542.0 95.4,1543.7 96.9,1548.1 98.3,1549.2 99.7,1551.8 101.0,1553.1 102.3,1554.4 103.6,1555.2 105.1,1554.5 106.6,1551.5 108.3,1553.1 109.9,1552.4 111.2,1551.3 112.5,1548.7 113.7,1546.9 115.0,1545.6 116.3,1544.5 117.5,1542.9 118.8,1539.9 120.1,1536.9 121.4,1541.5 122.6,1546.0 123.9,1548.6 125.2,1552.1 126.4,1552.3 127.7,1555.3 129.0,1556.0 130.3,1554.9 131.5,1552.2 132.8,1549.5 134.6,1544.4 135.3,1533.5 136.6,1545.0 137.9,1546.3 139.2,1547.4 140.4,1549.2 141.7,1546.3 143.0,1548.1 144.2,1521.7 145.8,1472.8 148.1,1469.0 149.8,1464.2 151.5,1463.5 153.1,1465.2 154.9,1454.8 155.9,1454.8 156.9,1499.0 158.2,1536.5 159.5,1536.7 160.8,1537.9 162.0,1537.8 163.3,1539.0 164.6,1542.0 165.8,1542.0 167.1,1538.8 168.4,1535.4 169.7,1532.8 170.9,1536.1 172.2,1538.8 173.5,1539.1 174.7,1539.4 176.0,1540.8 177.3,1542.0 178.6,1543.5 179.8,1543.7 181.1,1543.8 182.4,1544.2 183.6,1542.7 184.9,1541.5 186.2,1540.5 187.5,1540.1 188.7,1539.3 190.0,1538.6 191.3,1537.8 192.5,1538.6 193.8,1539.1 195.1,1538.3 196.4,1539.7 197.6,1541.5 198.9,1541.5 200.2,1544.3 201.4,1538.4 202.7,1533.5 204.0,1535.5 205.3,1537.1 206.5,1539.4 207.8,1538.7 209.1,1538.7 210.3,1537.8 211.6,1534.0 212.9,1533.9 214.2,1533.4 215.4,1533.1 216.7,1534.2 218.0,1536.5 219.2,1537.0 220.5,1538.5 221.8,1539.6 223.1,1539.4 224.3,1538.3 225.6,1539.1 226.9,1539.3 228.1,1540.0 229.4,1540.1 230.7,1541.3 231.9,1541.0 233.2,1542.3 234.5,1540.8 235.8,1540.8 237.0,1536.8 238.3,1537.6 239.6,1539.1 240.8,1537.7 242.1,1538.1 243.4,1538.5 244.7,1536.5 245.9,1535.4 247.2,1535.5 248.0,1535.0 249.2,1537.5 250.5,1540.6 251.8,1539.9 253.1,1542.2 254.3,1541.4 255.6,1541.8 256.9,1542.0 258.1,1540.7 259.4,1540.4 260.7,1540.9 261.9,1541.0 263.2,1541.9 264.5,1543.1 265.8,1541.8 267.0,1540.3 268.3,1539.1 269.6,1540.0 270.8,1538.1 272.1,1537.4 273.4,1537.8 274.7,1538.0 275.9,1538.7 277.2,1539.9 278.5,1538.8 279.7,1539.8 281.0,1540.5 282.3,1540.1 283.6,1538.8 284.8,1536.5 286.1,1536.6 287.4,1537.5 288.6,1536.2 289.9,1535.4 291.2,1535.9 292.5,1535.7 293.7,1535.3 295.0,1535.3 296.3,1535.3 297.5,1535.7 298.8,1536.1 300.1,1537.8 301.4,1536.4 302.6,1534.7 303.9,1529.9 305.4,1524.3 307.7,1533.5 309.0,1541.1 310.3,1546.7 312.0,1539.7 313.7,1538.6 315.3,1536.9 316.6,1536.1 317.9,1534.8 319.2,1535.0 320.4,1536.7 321.7,1534.5 323.0,1536.8 324.2,1536.9 325.5,1538.2 326.8,1539.4 328.1,1538.8 329.3,1538.0 330.6,1536.0 332.2,1541.6 333.9,1544.9 335.4,1545.0 336.9,1544.3 338.2,1544.0 339.5,1543.8 340.8,1544.1 342.0,1541.9 343.3,1539.2 344.6,1537.9 345.8,1537.8 347.1,1537.7 348.4,1538.2 349.7,1536.9 350.9,1535.7 352.2,1537.3 353.5,1537.5 354.7,1535.6 356.0,1536.4 357.3,1536.5 358.6,1538.0 359.8,1538.8 361.1,1536.6 362.4,1535.7 363.6,1535.6 365.3,1534.0 366.9,1533.2 368.2,1530.8 369.5,1528.8 371.0,1530.9 372.5,1532.3 374.1,1534.5 375.6,1537.6 376.9,1540.5 378.1,1543.3 379.4,1545.4 380.7,1548.2 382.7,1551.5 384.7,1543.3 386.8,1547.1 388.6,1550.5 390.3,1553.3" fill="none" stroke="#44546A" stroke-width="2.0" stroke-linejoin="round" stroke-linecap="butt" /><polyline points="82.7,1541.8 84.2,1538.6 85.8,1536.0 87.0,1536.6 88.3,1537.2 90.3,1546.4 91.6,1547.6 92.9,1547.0 94.7,1556.4 95.9,1553.0 97.2,1548.8 98.9,1547.7 100.5,1544.8 102.0,1543.5 103.6,1542.9 104.8,1541.4 106.1,1540.8 107.4,1541.1 108.6,1541.7 109.9,1543.0 111.2,1543.3 112.5,1544.0 113.7,1544.2 115.0,1546.7 116.3,1546.5 117.5,1544.4 118.8,1543.3 120.3,1548.0 121.9,1555.2 123.1,1558.4 124.4,1561.2 126.1,1558.9 127.7,1556.8 129.0,1554.2 130.3,1554.0 131.5,1553.2 132.8,1552.0 134.1,1551.8 135.3,1551.5 136.6,1550.2 137.9,1549.2 139.2,1549.5 140.4,1548.2 141.7,1547.3 143.0,1547.5 144.2,1546.1 145.5,1545.0 146.8,1543.4 148.3,1545.8 149.8,1547.6 151.5,1545.3 153.1,1542.7 154.8,1539.8 156.4,1536.5 158.0,1534.8 159.5,1533.6 160.8,1532.9 162.0,1532.7 163.3,1532.8 164.6,1534.8 165.8,1534.9 167.1,1536.8 168.6,1534.2 170.2,1531.7 171.8,1531.2 173.5,1532.1 174.7,1531.3 176.0,1529.9 177.3,1529.2 178.6,1530.4 179.8,1530.9 181.1,1532.5 182.4,1533.0 183.6,1535.7 184.9,1535.5 186.2,1535.1 187.5,1534.6 188.7,1535.7 190.0,1538.0 191.3,1539.7 192.5,1540.3 194.1,1539.5 195.6,1538.7 197.2,1534.4 198.9,1528.6 200.2,1529.8 201.4,1532.1 202.7,1530.5 204.0,1530.0 205.3,1529.4 206.5,1527.3 207.8,1530.2 209.1,1531.0 210.3,1532.6 211.6,1534.3 212.9,1536.5 214.2,1536.7 215.4,1539.8 216.7,1542.7 218.0,1546.1 220.0,1551.4 221.8,1560.1 223.6,1538.5 225.1,1527.9 226.6,1530.7 228.1,1530.5 229.4,1530.4 230.7,1529.2 231.9,1528.2 233.2,1529.7 234.5,1529.7 235.8,1534.1 237.0,1539.5 238.3,1540.5 239.6,1540.7 240.8,1542.3 242.1,1540.6 243.4,1540.0 244.7,1540.4 245.9,1541.2 247.2,1540.9 248.5,1539.7 250.1,1538.1 251.8,1535.9 253.1,1538.7 254.3,1539.0 255.6,1541.7 256.9,1540.2 258.1,1538.0 259.4,1539.5 260.7,1539.1 261.9,1538.2 263.2,1538.3 264.5,1538.1 265.8,1538.0 267.0,1536.3 268.3,1536.9 269.6,1537.3 270.8,1535.9 272.1,1536.8 273.4,1535.4 274.7,1533.0 275.9,1536.8 277.2,1537.5 278.5,1539.1 279.7,1539.9 281.0,1542.5 282.3,1542.6 283.6,1542.8 284.8,1543.7 286.5,1542.7 288.1,1541.1 289.9,1539.1 291.7,1538.9 293.1,1537.2 294.4,1536.8 295.8,1536.5 297.5,1534.9 299.3,1533.4 301.4,1529.6 302.6,1533.5 303.9,1538.4 305.2,1540.1 306.4,1540.5 307.7,1540.7 309.0,1542.7 310.5,1540.5 312.0,1538.4 313.7,1537.8 315.3,1536.5 316.6,1535.0 317.9,1534.9 319.2,1533.4 320.4,1533.7 321.7,1532.4 323.0,1530.4 324.4,1527.7 325.8,1526.5 327.3,1528.5 328.8,1530.2 330.3,1532.9 331.9,1534.7 333.1,1538.3 334.4,1540.7 335.9,1538.3 337.5,1534.8 339.0,1531.2 340.5,1529.0 342.3,1531.0 344.1,1534.6 345.6,1534.2 347.1,1533.4 348.4,1532.1 349.7,1529.7 350.9,1529.2 352.6,1529.2 354.2,1530.7 355.8,1529.0 357.3,1527.3 358.6,1528.2 359.8,1530.1 361.1,1532.3 362.4,1530.7 363.6,1532.6 364.9,1532.8 366.4,1533.4 368.0,1532.7 369.6,1533.1 371.3,1535.3 372.9,1538.3 374.6,1540.7 375.8,1541.4 377.1,1542.8 378.4,1549.3 379.7,1555.9 381.2,1556.7 382.7,1557.0 384.7,1542.7 386.5,1546.5 388.3,1549.9 390.3,1552.6" fill="none" stroke="#ED7D31" stroke-width="2.0" stroke-linejoin="round" stroke-linecap="butt" /><polyline points="83.2,1540.8 84.5,1536.2 85.8,1532.4 87.0,1533.1 88.3,1537.8 89.6,1538.1 90.8,1540.5 92.1,1537.8 93.4,1535.8 94.9,1533.3 96.4,1529.5 97.7,1531.3 99.0,1532.7 100.3,1537.6 101.5,1540.4 102.8,1536.2 104.1,1535.1 105.3,1535.8 106.6,1536.0 107.9,1539.8 109.2,1542.5 111.2,1531.9 112.5,1534.9 113.7,1535.0 115.0,1538.8 116.3,1542.8 117.8,1544.2 119.3,1546.2 120.6,1543.2 121.9,1542.2 123.5,1542.9 125.2,1544.3 126.9,1553.3 129.0,1559.5 131.0,1550.8 132.3,1547.1 133.6,1545.5 135.1,1544.4 136.6,1545.9 138.1,1543.8 139.7,1540.2 141.7,1537.1 143.0,1539.8 144.2,1542.1 145.5,1546.5 146.8,1549.5 148.1,1550.8 149.3,1551.0 150.6,1551.6 151.9,1548.9 153.1,1549.6 154.4,1551.1 155.9,1552.3 157.5,1553.3 158.7,1549.5 160.0,1546.7 161.3,1544.1 162.5,1541.1 163.8,1543.1 165.1,1544.6 166.4,1541.4 167.6,1540.1 168.9,1543.6 170.2,1545.8 172.2,1551.4 173.5,1552.1 174.7,1552.7 176.0,1550.2 177.3,1551.5 178.6,1553.0 180.3,1562.5 182.4,1555.0 183.6,1552.9 184.9,1552.7 186.2,1551.5 187.5,1548.7 188.7,1548.2 190.0,1548.5 191.5,1547.8 193.1,1550.1 194.6,1536.1 196.4,1545.4 198.1,1554.4 199.8,1553.9 201.4,1553.2 202.7,1553.4 204.0,1553.4 205.3,1550.7 206.5,1548.2 207.8,1547.9 209.1,1547.8 210.3,1546.4 211.6,1543.0 212.9,1540.4 214.2,1540.8 215.4,1536.8 216.7,1534.8 218.0,1537.6 219.2,1538.3 220.5,1534.7 221.8,1530.3 223.1,1532.9 224.3,1534.7 225.6,1535.0 226.9,1536.6 228.6,1540.5 230.7,1546.6" fill="none" stroke="#FF0000" stroke-width="3.2" stroke-linejoin="round" stroke-linecap="butt" /><line x1="82.0" y1="1453.8" x2="82.0" y2="1574.3" stroke="#7F7F7F" stroke-width="1.15"/><line x1="78.0" y1="1453.8" x2="82.0" y2="1453.8" stroke="#7F7F7F" stroke-width="1.15"/><text x="75.0" y="1457.6" font-size="10.8" text-anchor="end" fill="#000" textLength="25.9" lengthAdjust="spacing" >1,200</text><line x1="78.0" y1="1483.9" x2="82.0" y2="1483.9" stroke="#7F7F7F" stroke-width="1.15"/><text x="75.0" y="1487.7" font-size="10.8" text-anchor="end" fill="#000" textLength="15.3" lengthAdjust="spacingAndGlyphs" >800</text><line x1="78.0" y1="1514.0" x2="82.0" y2="1514.0" stroke="#7F7F7F" stroke-width="1.15"/><text x="75.0" y="1517.8" font-size="10.8" text-anchor="end" fill="#000" textLength="15.3" lengthAdjust="spacingAndGlyphs" >400</text><line x1="78.0" y1="1544.2" x2="82.0" y2="1544.2" stroke="#7F7F7F" stroke-width="1.15"/><text x="75.0" y="1548.0" font-size="10.8" text-anchor="end" fill="#000" ><tspan dx="-0.08">0</tspan></text><line x1="78.0" y1="1574.3" x2="82.0" y2="1574.3" stroke="#7F7F7F" stroke-width="1.15"/><text x="75.0" y="1578.1" font-size="10.8" text-anchor="end" fill="#FF0000" textLength="20.6" lengthAdjust="spacing" >-400</text><line x1="390.9" y1="1453.8" x2="390.9" y2="1574.3" stroke="#7F7F7F" stroke-width="1.15"/><line x1="390.9" y1="1453.8" x2="394.9" y2="1453.8" stroke="#7F7F7F" stroke-width="1.15"/><text x="397.9" y="1457.6" font-size="10.8" text-anchor="start" fill="#000" textLength="25.9" lengthAdjust="spacing" >1,200</text><line x1="390.9" y1="1483.9" x2="394.9" y2="1483.9" stroke="#7F7F7F" stroke-width="1.15"/><text x="397.9" y="1487.7" font-size="10.8" text-anchor="start" fill="#000" textLength="15.3" lengthAdjust="spacingAndGlyphs" >800</text><line x1="390.9" y1="1514.0" x2="394.9" y2="1514.0" stroke="#7F7F7F" stroke-width="1.15"/><text x="397.9" y="1517.8" font-size="10.8" text-anchor="start" fill="#000" textLength="15.3" lengthAdjust="spacingAndGlyphs" >400</text><line x1="390.9" y1="1544.2" x2="394.9" y2="1544.2" stroke="#7F7F7F" stroke-width="1.15"/><text x="397.9" y="1548.0" font-size="10.8" text-anchor="start" fill="#000" ><tspan dx="-0.08">0</tspan></text><line x1="390.9" y1="1574.3" x2="394.9" y2="1574.3" stroke="#7F7F7F" stroke-width="1.15"/><text x="397.9" y="1578.1" font-size="10.8" text-anchor="start" fill="#FF0000" textLength="20.6" lengthAdjust="spacing" >-400</text><text x="236.6" y="1440.8" font-size="10.5" text-anchor="middle" fill="#222" ><tspan textLength="10.5" lengthAdjust="spacing">1#</tspan>电解铜升贴水<tspan dx="1.17">:</tspan><tspan dx="1.17">平均价</tspan><tspan textLength="21.0" lengthAdjust="spacingAndGlyphs">:SMM</tspan></text><line x1="100.3" y1="1615.0" x2="131.8" y2="1615.0" stroke="#00B0F0" stroke-width="2.2"/><text x="134.6" y="1618.8" font-size="10.8" text-anchor="start" fill="#000" ><tspan textLength="21.0" lengthAdjust="spacingAndGlyphs">2018</tspan>年</text><line x1="168.9" y1="1615.0" x2="200.4" y2="1615.0" stroke="#44546A" stroke-width="2.2"/><text x="203.2" y="1618.8" font-size="10.8" text-anchor="start" fill="#000" ><tspan textLength="21.0" lengthAdjust="spacingAndGlyphs">2019</tspan>年</text><line x1="237.8" y1="1615.0" x2="269.3" y2="1615.0" stroke="#ED7D31" stroke-width="2.2"/><text x="272.1" y="1618.8" font-size="10.8" text-anchor="start" fill="#000" ><tspan textLength="21.0" lengthAdjust="spacingAndGlyphs">2020</tspan>年</text><line x1="306.4" y1="1615.0" x2="337.9" y2="1615.0" stroke="#FF0000" stroke-width="3.2"/><text x="340.7" y="1618.8" font-size="10.8" text-anchor="start" fill="#000" ><tspan textLength="21.0" lengthAdjust="spacingAndGlyphs">2021</tspan>年</text></svg>
<svg class="chart" style="left:473px;top:1418px" width="398" height="208" viewBox="473 1418 398 208"><rect x="473" y="1418" width="398" height="208" fill="#fff"/><line x1="520.6" y1="1582.9" x2="834.8" y2="1582.9" stroke="#7F7F7F" stroke-width="1.15"/><line x1="520.6" y1="1582.9" x2="520.6" y2="1586.9" stroke="#7F7F7F" stroke-width="1.15"/><text transform="translate(522.1,1599.5) rotate(-45)" font-size="11" text-anchor="end" fill="#000">2016-01</text><line x1="549.3" y1="1582.9" x2="549.3" y2="1586.9" stroke="#7F7F7F" stroke-width="1.15"/><text transform="translate(550.8,1599.5) rotate(-45)" font-size="11" text-anchor="end" fill="#000">2016-07</text><line x1="577.9" y1="1582.9" x2="577.9" y2="1586.9" stroke="#7F7F7F" stroke-width="1.15"/><text transform="translate(579.4,1599.5) rotate(-45)" font-size="11" text-anchor="end" fill="#000">2017-01</text><line x1="606.6" y1="1582.9" x2="606.6" y2="1586.9" stroke="#7F7F7F" stroke-width="1.15"/><text transform="translate(608.1,1599.5) rotate(-45)" font-size="11" text-anchor="end" fill="#000">2017-07</text><line x1="635.3" y1="1582.9" x2="635.3" y2="1586.9" stroke="#7F7F7F" stroke-width="1.15"/><text transform="translate(636.8,1599.5) rotate(-45)" font-size="11" text-anchor="end" fill="#000">2018-01</text><line x1="664.0" y1="1582.9" x2="664.0" y2="1586.9" stroke="#7F7F7F" stroke-width="1.15"/><text transform="translate(665.5,1599.5) rotate(-45)" font-size="11" text-anchor="end" fill="#000">2018-07</text><line x1="692.6" y1="1582.9" x2="692.6" y2="1586.9" stroke="#7F7F7F" stroke-width="1.15"/><text transform="translate(694.1,1599.5) rotate(-45)" font-size="11" text-anchor="end" fill="#000">2019-01</text><line x1="721.3" y1="1582.9" x2="721.3" y2="1586.9" stroke="#7F7F7F" stroke-width="1.15"/><text transform="translate(722.8,1599.5) rotate(-45)" font-size="11" text-anchor="end" fill="#000">2019-07</text><line x1="750.0" y1="1582.9" x2="750.0" y2="1586.9" stroke="#7F7F7F" stroke-width="1.15"/><text transform="translate(751.5,1599.5) rotate(-45)" font-size="11" text-anchor="end" fill="#000">2020-01</text><line x1="778.6" y1="1582.9" x2="778.6" y2="1586.9" stroke="#7F7F7F" stroke-width="1.15"/><text transform="translate(780.1,1599.5) rotate(-45)" font-size="11" text-anchor="end" fill="#000">2020-07</text><line x1="807.3" y1="1582.9" x2="807.3" y2="1586.9" stroke="#7F7F7F" stroke-width="1.15"/><text transform="translate(808.8,1599.5) rotate(-45)" font-size="11" text-anchor="end" fill="#000">2021-01</text><polyline points="520.6,1564.2 521.2,1566.4 521.8,1568.8 522.3,1571.5 522.9,1569.0 523.4,1568.1 523.9,1567.3 524.4,1567.6 525.0,1567.9 525.5,1566.3 526.0,1567.6 526.5,1565.7 527.0,1567.4 527.5,1566.0 528.0,1566.5 528.5,1566.6 529.0,1565.5 529.6,1564.0 530.1,1562.8 530.6,1561.5 531.1,1564.3 531.6,1563.7 532.1,1564.8 532.6,1563.9 533.1,1563.6 533.6,1562.5 534.2,1562.7 534.7,1561.2 535.2,1564.3 535.7,1565.8 536.2,1567.3 536.7,1568.0 537.3,1564.0 537.9,1559.8 538.4,1562.2 539.0,1562.0 539.5,1561.2 540.0,1561.4 540.5,1564.3 541.1,1567.3 541.6,1567.0 542.1,1565.8 542.6,1567.8 543.1,1569.4 543.6,1567.3 544.1,1568.7 544.6,1566.8 545.1,1567.3 545.6,1568.0 546.1,1567.6 546.6,1565.2 547.1,1566.7 547.6,1564.8 548.1,1566.8 548.6,1563.9 549.1,1564.6 549.7,1564.0 550.2,1562.8 550.7,1563.1 551.2,1562.6 551.8,1564.0 552.3,1562.1 552.8,1561.6 553.3,1559.0 553.8,1561.1 554.3,1561.9 554.9,1563.0 555.4,1563.7 555.9,1560.9 556.4,1559.4 556.9,1559.6 557.4,1560.1 557.9,1563.4 558.4,1560.2 558.9,1562.0 559.5,1564.2 560.0,1563.7 560.5,1562.0 561.0,1562.2 561.5,1564.5 562.0,1565.9 562.5,1564.6 563.0,1564.5 563.5,1565.6 564.1,1563.3 564.6,1565.3 565.1,1561.6 565.6,1563.9 566.1,1559.9 566.6,1561.8 567.2,1556.9 567.8,1550.4 568.3,1547.7 568.9,1544.8 569.4,1543.3 570.0,1541.0 570.5,1538.5 571.1,1536.1 571.6,1534.6 572.1,1534.4 572.7,1534.5 573.2,1535.1 573.8,1535.0 574.3,1536.9 574.9,1539.3 575.4,1541.7 576.0,1538.9 576.5,1539.4 577.1,1540.5 577.7,1542.9 578.2,1545.1 578.8,1541.8 579.3,1540.4 579.9,1538.5 580.4,1534.6 580.9,1533.8 581.4,1533.6 581.9,1533.0 582.5,1532.9 583.0,1532.3 583.5,1531.9 584.0,1529.3 584.5,1531.6 585.0,1531.2 585.5,1530.2 586.0,1530.5 586.5,1530.3 587.1,1529.1 587.6,1532.6 588.1,1532.7 588.6,1535.2 589.1,1537.1 589.6,1534.2 590.1,1533.3 590.6,1535.5 591.1,1535.0 591.7,1534.8 592.2,1535.2 592.7,1536.7 593.2,1534.9 593.7,1536.4 594.2,1538.6 594.7,1537.5 595.2,1537.7 595.7,1539.2 596.3,1540.9 596.8,1541.9 597.3,1541.9 597.8,1543.8 598.3,1541.6 598.8,1544.3 599.3,1543.6 599.8,1541.9 600.3,1539.5 600.9,1542.7 601.4,1542.1 601.9,1542.2 602.4,1543.6 602.9,1541.2 603.4,1541.9 604.0,1541.4 604.5,1541.7 605.0,1539.5 605.6,1540.2 606.1,1536.5 606.6,1535.2 607.2,1533.2 607.7,1531.4 608.2,1533.8 608.7,1532.2 609.3,1530.5 609.8,1529.5 610.3,1528.5 610.8,1525.6 611.3,1525.7 611.8,1526.6 612.4,1524.3 612.9,1524.6 613.4,1524.1 613.9,1522.7 614.4,1521.4 614.9,1521.6 615.5,1521.9 616.1,1521.8 616.6,1518.1 617.2,1518.3 617.8,1521.2 618.4,1520.2 618.9,1521.3 619.5,1525.5 620.0,1525.2 620.5,1523.9 621.0,1524.0 621.6,1521.8 622.1,1521.0 622.6,1517.7 623.1,1515.5 623.6,1512.5 624.1,1511.7 624.7,1513.1 625.3,1514.4 625.8,1517.6 626.4,1519.6 626.9,1518.4 627.4,1518.8 627.9,1519.0 628.5,1519.2 629.0,1517.5 629.5,1518.7 630.0,1517.5 630.5,1518.0 631.0,1516.9 631.5,1519.7 632.1,1515.6 632.6,1517.2 633.1,1514.7 633.6,1517.2 634.2,1513.8 634.7,1514.9 635.2,1515.1 635.8,1517.2 636.3,1515.3 636.8,1516.4 637.4,1518.4 637.9,1520.2 638.4,1519.1 638.9,1517.1 639.5,1518.8 640.0,1519.3 640.5,1520.9 641.0,1521.1 641.5,1520.6 642.0,1522.0 642.5,1525.1 643.0,1525.3 643.5,1524.2 644.1,1525.4 644.6,1523.2 645.1,1523.8 645.6,1524.9 646.1,1525.2 646.6,1525.1 647.1,1526.2 647.6,1528.8 648.1,1526.9 648.7,1526.6 649.2,1528.1 649.7,1522.5 650.2,1523.2 650.7,1524.9 651.2,1522.0 651.7,1522.2 652.2,1525.0 652.7,1524.5 653.3,1524.6 653.8,1527.4 654.3,1522.9 654.8,1525.5 655.3,1523.2 655.8,1524.8 656.3,1525.8 656.8,1524.8 657.3,1523.4 657.9,1524.1 658.4,1523.3 658.9,1523.2 659.4,1523.0 659.9,1522.0 660.4,1522.8 660.9,1519.6 661.5,1518.3 662.0,1519.0 662.6,1522.8 663.1,1523.7 663.7,1526.6 664.2,1528.2 664.7,1531.3 665.2,1528.9 665.8,1530.7 666.3,1529.2 666.8,1532.1 667.3,1529.3 667.8,1533.8 668.3,1532.4 668.8,1535.2 669.4,1533.2 669.9,1530.6 670.4,1530.1 670.9,1529.3 671.4,1530.1 671.9,1531.6 672.4,1530.6 672.9,1529.2 673.4,1528.5 674.0,1530.9 674.5,1527.9 675.0,1528.9 675.5,1526.8 676.0,1525.9 676.5,1527.4 677.0,1524.6 677.5,1528.6 678.0,1530.4 678.6,1527.5 679.1,1526.3 679.6,1527.4 680.1,1527.8 680.6,1527.6 681.1,1530.2 681.6,1533.4 682.1,1530.8 682.6,1530.8 683.2,1529.1 683.7,1528.9 684.2,1528.0 684.7,1528.2 685.2,1528.5 685.7,1527.8 686.2,1528.3 686.8,1527.8 687.3,1529.6 687.9,1527.8 688.4,1530.5 688.9,1531.0 689.5,1532.5 690.0,1532.7 690.6,1533.1 691.1,1533.9 691.7,1533.9 692.2,1534.8 692.7,1531.8 693.2,1532.4 693.7,1533.9 694.2,1532.1 694.7,1536.4 695.2,1536.8 695.7,1532.6 696.2,1535.4 696.7,1534.6 697.2,1534.4 697.7,1535.4 698.2,1532.6 698.7,1532.4 699.3,1532.8 699.8,1530.3 700.3,1529.8 700.8,1529.6 701.3,1529.7 701.8,1527.5 702.3,1527.6 702.8,1527.2 703.3,1529.2 703.9,1528.1 704.4,1529.6 704.9,1529.3 705.4,1528.5 705.9,1530.1 706.4,1530.5 706.9,1529.6 707.4,1531.3 707.9,1532.8 708.5,1529.2 709.0,1531.6 709.5,1528.8 710.0,1530.8 710.5,1532.9 711.0,1533.5 711.5,1533.9 712.0,1533.6 712.5,1534.9 713.1,1533.1 713.6,1537.0 714.1,1533.4 714.6,1534.7 715.1,1533.7 715.6,1535.4 716.1,1535.9 716.6,1535.2 717.1,1538.0 717.6,1536.8 718.2,1536.2 718.7,1536.8 719.2,1538.3 719.7,1538.5 720.2,1537.2 720.7,1537.7 721.2,1537.7 721.7,1537.1 722.2,1535.8 722.7,1536.4 723.3,1534.1 723.8,1536.4 724.3,1537.1 724.8,1535.6 725.3,1534.5 725.8,1532.3 726.3,1534.0 726.9,1536.5 727.4,1534.0 727.9,1536.5 728.4,1535.7 728.9,1539.1 729.4,1538.8 729.9,1539.8 730.4,1537.8 730.9,1536.9 731.5,1535.4 732.0,1538.0 732.5,1536.4 733.0,1536.2 733.5,1534.1 734.0,1535.0 734.5,1533.5 735.0,1534.7 735.6,1536.7 736.1,1534.9 736.6,1533.6 737.1,1535.0 737.6,1535.1 738.1,1534.1 738.6,1532.4 739.1,1534.2 739.6,1535.3 740.2,1535.5 740.7,1537.1 741.2,1536.5 741.7,1536.2 742.2,1533.6 742.7,1534.2 743.2,1534.5 743.7,1533.8 744.2,1535.1 744.8,1533.7 745.3,1534.2 745.8,1532.6 746.3,1533.0 746.8,1533.7 747.3,1532.9 747.8,1532.9 748.3,1531.4 748.9,1529.1 749.4,1531.6 749.9,1531.0 750.5,1529.9 751.0,1533.1 751.5,1532.5 752.1,1532.9 752.6,1532.2 753.1,1535.9 753.7,1536.5 754.2,1536.2 754.7,1539.0 755.2,1541.3 755.8,1541.7 756.3,1542.3 756.8,1542.9 757.3,1540.3 757.9,1539.7 758.4,1541.8 758.9,1543.9 759.5,1549.2 760.1,1548.1 760.6,1550.8 761.2,1552.7 761.8,1557.1 762.4,1560.2 763.1,1564.9 763.6,1562.0 764.2,1560.5 764.8,1557.0 765.4,1556.6 765.9,1555.2 766.4,1553.5 766.9,1550.8 767.5,1550.5 768.0,1548.0 768.5,1547.6 769.0,1545.9 769.5,1547.1 770.1,1545.4 770.6,1545.1 771.1,1545.9 771.6,1544.9 772.1,1543.8 772.6,1541.3 773.1,1542.1 773.6,1543.4 774.2,1540.8 774.7,1538.3 775.2,1537.7 775.7,1538.6 776.3,1535.4 776.8,1532.4 777.3,1529.6 777.8,1528.2 778.4,1524.5 778.9,1522.9 779.5,1520.9 780.0,1522.2 780.5,1517.3 781.0,1519.1 781.6,1519.4 782.1,1519.0 782.6,1521.7 783.1,1524.1 783.6,1523.6 784.1,1523.8 784.6,1524.9 785.1,1526.7 785.6,1526.3 786.2,1525.2 786.7,1524.2 787.2,1524.5 787.7,1522.5 788.2,1523.1 788.7,1525.1 789.2,1524.4 789.7,1523.5 790.2,1522.0 790.8,1521.3 791.3,1523.8 791.8,1523.4 792.3,1521.9 792.8,1521.1 793.3,1521.8 793.8,1525.0 794.3,1524.1 794.8,1520.3 795.4,1521.5 795.9,1522.7 796.4,1520.8 796.9,1521.7 797.4,1524.1 797.9,1521.9 798.4,1519.6 798.9,1520.3 799.5,1520.4 800.0,1516.7 800.5,1515.4 801.1,1513.8 801.6,1511.6 802.2,1509.5 802.7,1506.6 803.2,1510.6 803.7,1508.5 804.3,1509.4 804.8,1507.2 805.3,1504.9 805.8,1502.6 806.3,1502.5 806.9,1503.9 807.4,1503.4 807.9,1506.4 808.4,1505.6 808.9,1505.4 809.4,1507.6 809.9,1506.7 810.4,1503.1 811.0,1504.4 811.6,1501.0 812.2,1499.2 812.7,1500.9 813.3,1494.6 813.9,1485.6 814.5,1481.5 815.0,1479.0 815.6,1477.0 816.2,1479.2 816.8,1480.8 817.3,1485.3 817.8,1485.0 818.4,1485.0 818.9,1483.0 819.4,1484.7 819.9,1484.5 820.4,1487.7 820.9,1485.7 821.4,1482.7 821.9,1481.6 822.5,1481.2 823.1,1479.5 823.7,1477.6 824.2,1478.5 824.8,1473.9 825.4,1469.0 826.0,1463.7 826.5,1459.4 827.2,1458.1 827.9,1456.1 828.5,1459.2 829.1,1461.6 829.6,1464.0 830.2,1469.2 830.8,1468.1 831.4,1467.2 832.1,1463.8 832.6,1468.2 833.2,1471.1 833.7,1474.0 834.3,1476.8 834.8,1482.1" fill="none" stroke="#FF0000" stroke-width="2.9" stroke-linejoin="round" stroke-linecap="butt" /><line x1="520.6" y1="1446.7" x2="520.6" y2="1582.9" stroke="#7F7F7F" stroke-width="1.15"/><line x1="516.6" y1="1446.7" x2="520.6" y2="1446.7" stroke="#7F7F7F" stroke-width="1.15"/><text x="513.6" y="1450.5" font-size="10.8" text-anchor="end" fill="#000" textLength="31.1" lengthAdjust="spacing" >80,000</text><line x1="516.6" y1="1473.9" x2="520.6" y2="1473.9" stroke="#7F7F7F" stroke-width="1.15"/><text x="513.6" y="1477.7" font-size="10.8" text-anchor="end" fill="#000" textLength="31.1" lengthAdjust="spacing" >70,000</text><line x1="516.6" y1="1501.2" x2="520.6" y2="1501.2" stroke="#7F7F7F" stroke-width="1.15"/><text x="513.6" y="1505.0" font-size="10.8" text-anchor="end" fill="#000" textLength="31.1" lengthAdjust="spacing" >60,000</text><line x1="516.6" y1="1528.4" x2="520.6" y2="1528.4" stroke="#7F7F7F" stroke-width="1.15"/><text x="513.6" y="1532.2" font-size="10.8" text-anchor="end" fill="#000" textLength="31.1" lengthAdjust="spacing" >50,000</text><line x1="516.6" y1="1555.7" x2="520.6" y2="1555.7" stroke="#7F7F7F" stroke-width="1.15"/><text x="513.6" y="1559.5" font-size="10.8" text-anchor="end" fill="#000" textLength="31.1" lengthAdjust="spacing" >40,000</text><line x1="516.6" y1="1582.9" x2="520.6" y2="1582.9" stroke="#7F7F7F" stroke-width="1.15"/><text x="513.6" y="1586.7" font-size="10.8" text-anchor="end" fill="#000" textLength="31.1" lengthAdjust="spacing" >30,000</text><line x1="581.8" y1="1437.5" x2="611.7" y2="1437.5" stroke="#FF0000" stroke-width="2.4"/><text x="616.3" y="1441.2" font-size="10.5" text-anchor="start" fill="#000" >长江有色市场<tspan dx="1.17">:</tspan><tspan dx="1.17">平均价</tspan><tspan dx="1.17">:</tspan><tspan dx="1.17">铜</tspan><tspan textLength="15.8" lengthAdjust="spacing">:1#</tspan></text></svg>
<svg class="chart" style="left:33px;top:1699px" width="397" height="212" viewBox="33 1699 397 212"><rect x="33" y="1699" width="397" height="212" fill="#fff"/><line x1="79.9" y1="1820.3" x2="394.9" y2="1820.3" stroke="#7F7F7F" stroke-width="1.15"/><line x1="79.9" y1="1820.3" x2="79.9" y2="1824.3" stroke="#7F7F7F" stroke-width="1.15"/><text x="79.9" y="1905.3" font-size="10.6" text-anchor="middle" fill="#000" textLength="35.3" lengthAdjust="spacingAndGlyphs" >2015-01</text><line x1="128.3" y1="1820.3" x2="128.3" y2="1824.3" stroke="#7F7F7F" stroke-width="1.15"/><text x="128.3" y="1905.3" font-size="10.6" text-anchor="middle" fill="#000" textLength="35.3" lengthAdjust="spacingAndGlyphs" >2016-01</text><line x1="176.8" y1="1820.3" x2="176.8" y2="1824.3" stroke="#7F7F7F" stroke-width="1.15"/><text x="176.8" y="1905.3" font-size="10.6" text-anchor="middle" fill="#000" textLength="35.3" lengthAdjust="spacingAndGlyphs" >2017-01</text><line x1="225.2" y1="1820.3" x2="225.2" y2="1824.3" stroke="#7F7F7F" stroke-width="1.15"/><text x="225.2" y="1905.3" font-size="10.6" text-anchor="middle" fill="#000" textLength="35.3" lengthAdjust="spacingAndGlyphs" >2018-01</text><line x1="273.6" y1="1820.3" x2="273.6" y2="1824.3" stroke="#7F7F7F" stroke-width="1.15"/><text x="273.6" y="1905.3" font-size="10.6" text-anchor="middle" fill="#000" textLength="35.3" lengthAdjust="spacingAndGlyphs" >2019-01</text><line x1="322.1" y1="1820.3" x2="322.1" y2="1824.3" stroke="#7F7F7F" stroke-width="1.15"/><text x="322.1" y="1905.3" font-size="10.6" text-anchor="middle" fill="#000" textLength="35.3" lengthAdjust="spacingAndGlyphs" >2020-01</text><line x1="370.5" y1="1820.3" x2="370.5" y2="1824.3" stroke="#7F7F7F" stroke-width="1.15"/><text x="370.5" y="1905.3" font-size="10.6" text-anchor="middle" fill="#000" textLength="35.3" lengthAdjust="spacingAndGlyphs" >2021-01</text><polyline points="79.9,1786.6 80.7,1785.8 81.1,1791.8 81.5,1799.7 81.9,1800.6 82.4,1804.0 82.8,1804.1 83.3,1799.6 83.7,1806.2 84.2,1805.6 84.7,1804.9 85.3,1811.4 85.7,1809.7 86.1,1809.7 86.5,1814.7 86.9,1811.8 87.4,1817.6 87.8,1810.8 88.2,1812.4 88.7,1810.4 89.1,1802.5 89.5,1807.7 90.0,1810.4 90.4,1813.4 90.8,1805.2 91.3,1813.5 91.7,1817.8 92.1,1811.7 92.5,1815.9 93.0,1821.9 93.4,1812.4 93.8,1814.9 94.2,1802.6 94.7,1806.0 95.1,1816.3 95.6,1813.9 96.0,1818.9 96.4,1813.2 96.9,1815.4 97.3,1817.2 97.7,1823.6 98.1,1821.4 98.6,1825.5 99.0,1823.7 99.4,1821.4 99.8,1824.8 100.2,1827.1 100.6,1826.3 101.0,1831.0 101.4,1825.9 101.9,1828.6 102.3,1831.2 102.7,1827.2 103.1,1828.5 103.6,1828.9 104.0,1822.8 104.4,1833.0 104.9,1828.1 105.3,1830.0 105.7,1815.2 106.2,1827.6 106.6,1824.1 107.0,1820.3 107.5,1822.0 107.9,1826.5 108.3,1816.3 108.7,1824.0 109.2,1816.3 109.7,1818.2 110.2,1811.5 110.7,1808.8 111.1,1810.7 111.6,1806.3 112.0,1808.7 112.5,1815.1 112.9,1812.1 113.3,1812.4 113.7,1807.9 114.2,1813.5 114.6,1822.5 115.0,1818.8 115.4,1816.4 115.8,1810.2 116.3,1812.8 116.7,1820.1 117.1,1817.8 117.5,1820.8 118.0,1815.9 118.4,1813.7 118.8,1814.6 119.2,1811.4 119.7,1809.2 120.1,1811.1 120.5,1811.2 120.9,1804.7 121.4,1814.8 121.8,1822.1 122.2,1820.2 122.6,1817.5 123.1,1814.1 123.5,1814.8 123.9,1817.9 124.3,1823.7 124.7,1822.1 125.2,1821.3 125.6,1817.7 126.0,1821.7 126.4,1819.7 126.9,1829.0 127.3,1825.9 127.7,1822.8 128.1,1829.1 128.6,1830.7 129.0,1824.0 129.4,1816.2 129.8,1823.7 130.3,1819.1 130.7,1822.0 131.1,1815.6 131.5,1815.9 131.9,1816.1 132.4,1813.5 132.8,1811.5 133.2,1819.1 133.6,1815.5 134.1,1820.9 134.5,1819.0 134.9,1815.7 135.3,1815.6 135.8,1811.1 136.2,1809.9 136.6,1810.4 137.0,1809.4 137.5,1804.7 137.9,1808.6 138.3,1808.9 138.7,1814.1 139.2,1807.9 139.6,1818.2 140.0,1812.8 140.4,1815.3 140.8,1814.0 141.3,1805.5 141.7,1808.0 142.1,1814.6 142.5,1817.7 143.0,1812.4 143.4,1817.9 143.8,1818.0 144.2,1811.6 144.7,1816.8 145.1,1812.7 145.5,1805.6 145.9,1811.0 146.4,1810.4 146.8,1807.8 147.2,1806.1 147.6,1809.8 148.1,1819.1 148.5,1816.6 148.9,1814.8 149.3,1816.3 149.7,1824.7 150.2,1829.7 150.6,1820.8 151.0,1820.4 151.4,1825.7 151.9,1828.8 152.3,1824.1 152.7,1826.5 153.1,1832.8 153.6,1825.2 154.0,1824.0 154.4,1825.3 154.8,1827.1 155.3,1825.5 155.7,1820.3 156.1,1823.3 156.5,1827.6 156.9,1821.2 157.4,1820.3 157.8,1821.1 158.2,1831.0 158.6,1826.4 159.1,1822.1 159.5,1830.3 159.9,1831.8 160.3,1827.0 160.8,1828.4 161.2,1828.3 161.6,1830.2 162.0,1827.9 162.5,1828.6 162.9,1825.8 163.3,1827.7 163.7,1830.2 164.2,1829.5 164.6,1827.3 165.0,1821.2 165.4,1826.9 165.8,1826.8 166.3,1826.9 166.7,1833.8 167.1,1829.5 167.5,1826.8 168.0,1827.7 168.4,1819.9 168.8,1822.4 169.2,1823.1 169.7,1825.4 170.1,1825.4 170.5,1827.1 170.9,1823.7 171.4,1821.9 171.8,1823.8 172.2,1819.0 172.6,1820.4 173.1,1823.5 173.5,1830.6 173.9,1828.9 174.3,1822.7 174.7,1828.4 175.2,1829.1 175.6,1828.0 176.0,1831.0 176.4,1828.0 176.9,1830.8 177.3,1829.0 177.7,1823.0 178.1,1825.1 178.6,1827.0 179.0,1831.7 179.4,1823.2 179.8,1822.1 180.3,1815.5 180.7,1815.6 181.1,1810.4 181.5,1817.9 181.9,1822.9 182.4,1817.1 182.8,1824.2 183.2,1823.7 183.6,1821.0 184.1,1822.7 184.5,1818.3 184.9,1822.9 185.3,1824.7 185.8,1819.3 186.2,1824.3 186.6,1823.1 187.0,1823.0 187.5,1823.8 187.9,1827.4 188.3,1826.9 188.7,1831.6 189.2,1835.8 189.6,1831.5 190.0,1828.3 190.4,1830.9 190.8,1824.7 191.3,1827.0 191.7,1827.0 192.1,1833.0 192.5,1833.5 193.0,1833.1 193.4,1823.5 193.8,1829.4 194.2,1831.4 194.7,1825.8 195.1,1836.1 195.5,1833.7 195.9,1839.4 196.4,1834.0 196.8,1823.6 197.2,1832.7 197.6,1829.2 198.1,1829.5 198.5,1831.7 198.9,1824.0 199.3,1829.1 199.7,1823.4 200.2,1829.7 200.6,1830.4 201.0,1829.2 201.4,1829.3 201.9,1831.7 202.3,1830.8 202.7,1823.6 203.1,1833.1 203.6,1835.4 204.0,1837.1 204.4,1834.4 204.8,1836.8 205.3,1838.3 205.7,1837.7 206.1,1827.6 206.5,1829.8 206.9,1834.7 207.4,1832.8 207.8,1836.8 208.2,1834.4 208.6,1839.7 209.1,1831.0 209.5,1834.4 209.9,1841.0 210.3,1831.7 210.8,1835.5 211.2,1844.3 211.6,1842.0 212.0,1842.9 212.5,1845.2 212.9,1843.5 213.3,1840.4 213.7,1844.3 214.2,1839.8 214.6,1831.2 215.0,1828.7 215.4,1823.1 215.8,1831.8 216.3,1831.2 216.7,1832.6 217.1,1834.9 217.5,1829.8 218.0,1836.6 218.4,1836.1 218.8,1838.2 219.2,1833.8 219.6,1834.0 220.1,1830.4 220.5,1832.6 220.9,1832.8 221.3,1843.2 221.7,1840.1 222.1,1838.1 222.6,1839.6 223.0,1839.3 223.4,1835.5 223.8,1837.9 224.2,1837.0 224.7,1827.2 225.1,1832.0 225.5,1837.0 225.9,1839.0 226.4,1846.1 226.8,1843.1 227.2,1832.1 227.6,1839.8 228.1,1838.2 228.5,1837.7 228.9,1834.4 229.3,1840.5 229.7,1843.2 230.2,1836.5 230.6,1841.1 231.0,1836.8 231.4,1836.9 231.9,1843.5 232.3,1839.9 232.7,1838.1 233.1,1830.4 233.6,1832.4 234.0,1837.1 234.4,1832.7 234.8,1830.9 235.3,1832.4 235.7,1829.4 236.1,1826.3 236.5,1831.7 236.9,1837.0 237.4,1838.9 237.8,1831.1 238.2,1835.4 238.6,1844.8 239.1,1837.8 239.5,1839.7 239.9,1841.9 240.3,1839.1 240.8,1840.5 241.2,1838.8 241.6,1838.9 242.0,1838.4 242.5,1832.0 242.9,1838.8 243.3,1832.1 243.7,1829.4 244.2,1817.4 244.6,1817.8 245.0,1817.6 245.4,1812.9 245.8,1818.2 246.3,1820.1 246.7,1822.4 247.1,1819.7 247.5,1815.3 248.0,1819.1 248.4,1820.0 248.8,1819.3 249.2,1823.4 249.7,1814.2 250.1,1823.9 250.5,1826.0 250.9,1830.3 251.4,1827.1 251.8,1827.3 252.2,1836.6 252.6,1825.2 253.1,1833.8 253.5,1833.7 253.9,1834.3 254.3,1834.2 254.7,1827.2 255.2,1828.2 255.6,1832.4 256.0,1829.8 256.4,1833.4 256.9,1827.1 257.3,1826.4 257.7,1822.9 258.1,1827.8 258.6,1825.1 259.0,1824.7 259.4,1820.2 259.8,1828.5 260.3,1818.1 260.7,1811.0 261.1,1815.0 261.5,1816.8 261.9,1816.9 262.4,1815.8 262.8,1817.0 263.2,1818.8 263.6,1811.2 264.0,1807.8 264.4,1804.4 264.8,1808.0 265.3,1796.6 265.7,1806.8 266.1,1808.0 266.6,1811.4 267.0,1820.9 267.5,1818.5 267.9,1807.5 268.3,1802.7 268.7,1796.9 269.2,1801.0 269.6,1804.1 270.0,1811.2 270.4,1808.9 270.8,1812.2 271.3,1824.9 271.7,1824.5 272.1,1827.1 272.5,1833.6 273.0,1828.2 273.4,1829.3 273.8,1828.9 274.2,1832.4 274.7,1832.7 275.1,1831.6 275.5,1829.5 275.9,1828.6 276.4,1831.7 276.8,1826.3 277.2,1828.2 277.6,1825.6 278.1,1819.9 278.5,1815.1 278.9,1808.0 279.3,1800.1 279.7,1795.8 280.2,1798.8 280.6,1797.3 281.0,1796.9 281.4,1794.3 281.9,1785.0 282.3,1782.0 282.7,1787.6 283.2,1794.2 283.6,1805.5 284.1,1810.3 284.5,1819.5 284.9,1819.2 285.3,1817.6 285.8,1823.0 286.2,1820.7 286.6,1824.1 287.0,1818.3 287.5,1821.7 287.9,1820.6 288.3,1816.0 288.7,1820.2 289.2,1819.7 289.6,1822.2 290.0,1819.4 290.4,1821.5 290.8,1833.3 291.3,1831.9 291.7,1832.1 292.1,1835.3 292.5,1835.2 292.9,1828.1 293.3,1831.5 293.8,1828.0 294.2,1829.1 294.6,1828.6 295.0,1819.7 295.4,1822.2 295.8,1823.2 296.3,1824.3 296.7,1822.5 297.1,1828.5 297.5,1829.5 298.0,1819.4 298.4,1819.6 298.8,1821.3 299.2,1825.1 299.7,1824.6 300.1,1825.4 300.5,1825.0 300.9,1836.7 301.4,1828.3 301.8,1831.1 302.2,1831.4 302.6,1830.0 303.1,1830.8 303.5,1824.8 303.9,1830.9 304.3,1830.4 304.7,1828.1 305.2,1832.2 305.6,1834.8 306.0,1833.9 306.4,1834.6 306.9,1835.1 307.3,1832.5 307.7,1828.0 308.1,1827.0 308.6,1836.5 309.0,1838.5 309.4,1829.6 309.8,1834.1 310.3,1837.9 310.7,1835.5 311.1,1834.4 311.5,1837.4 311.9,1832.5 312.4,1828.5 312.8,1825.1 313.2,1827.3 313.6,1828.2 314.1,1826.1 314.5,1830.9 314.9,1831.6 315.3,1830.5 315.8,1830.5 316.2,1828.9 316.6,1826.4 317.0,1826.9 317.5,1828.3 317.9,1825.4 318.3,1817.5 318.7,1833.5 319.2,1831.1 319.6,1825.4 320.0,1830.9 320.4,1823.2 320.8,1829.6 321.3,1826.8 321.7,1827.2 322.1,1831.7 322.5,1827.5 323.0,1826.1 323.4,1833.4 323.8,1835.5 324.2,1835.6 324.7,1833.8 325.1,1831.2 325.5,1828.5 325.9,1836.4 326.4,1827.4 326.8,1828.5 327.2,1826.5 327.6,1827.8 328.1,1831.4 328.5,1824.2 328.9,1823.9 329.3,1827.4 329.7,1825.9 330.2,1828.5 330.6,1823.9 331.0,1815.7 331.4,1820.6 331.9,1822.8 332.3,1827.6 332.7,1824.2 333.1,1822.9 333.6,1819.8 334.0,1827.9 334.4,1829.7 334.8,1823.1 335.3,1827.6 335.7,1828.7 336.1,1834.2 336.5,1834.0 336.9,1831.9 337.4,1830.4 337.8,1827.5 338.2,1833.5 338.6,1832.6 339.1,1833.6 339.5,1829.0 339.9,1830.6 340.3,1830.3 340.8,1831.3 341.2,1832.0 341.6,1833.4 342.0,1830.3 342.5,1831.2 342.9,1824.0 343.3,1829.8 343.7,1827.4 344.2,1829.1 344.6,1825.9 345.0,1820.6 345.4,1823.5 345.8,1828.4 346.3,1824.8 346.7,1820.7 347.1,1820.1 347.5,1816.9 348.0,1814.2 348.4,1819.3 348.8,1821.9 349.2,1820.1 349.7,1818.3 350.1,1832.3 350.5,1827.2 350.9,1825.2 351.4,1818.9 351.8,1813.3 352.2,1814.4 352.6,1810.2 353.1,1810.7 353.5,1805.3 353.9,1809.3 354.3,1811.4 354.7,1807.6 355.2,1809.8 355.6,1811.5 356.0,1801.6 356.4,1801.2 356.9,1798.3 357.3,1804.8 357.7,1807.2 358.1,1810.7 358.5,1807.0 358.9,1818.4 359.3,1820.3 359.8,1819.0 360.2,1816.6 360.6,1818.3 361.1,1823.6 361.5,1823.9 361.9,1825.8 362.4,1828.1 362.8,1826.9 363.2,1830.8 363.6,1837.0 364.1,1828.8 364.5,1827.3 364.9,1828.0 365.3,1832.1 365.8,1829.8 366.2,1829.1 366.6,1829.6 367.0,1828.7 367.5,1827.5 367.9,1832.3 368.3,1830.2 368.7,1831.6 369.2,1825.5 369.6,1829.2 370.0,1823.8 370.4,1824.7 370.8,1818.2 371.3,1815.7 371.7,1814.0 372.1,1813.8 372.5,1814.5 373.0,1818.7 373.4,1816.7 373.8,1821.2 374.2,1807.0 374.7,1815.0 375.1,1808.6 375.5,1811.5 375.9,1810.8 376.4,1807.6 376.8,1809.8 377.2,1805.5 377.6,1802.7 378.1,1802.6 378.5,1797.8 378.9,1798.1 379.3,1796.2 379.8,1801.9 380.2,1805.0 380.7,1799.7 381.1,1806.8 381.5,1815.2 381.9,1809.1 382.4,1819.7 382.8,1817.3 383.2,1818.1 383.6,1820.8 384.1,1812.1 384.5,1810.9 384.9,1810.7 385.3,1807.5 385.8,1811.2 386.2,1809.0 386.6,1811.2 387.0,1813.5 387.4,1818.5 387.8,1820.8 388.2,1823.3 388.6,1818.8 389.1,1824.9 389.5,1825.8 389.9,1824.3 390.3,1828.6 390.8,1826.8 391.2,1833.9 391.6,1832.8 392.0,1839.2 392.5,1829.6 392.9,1833.5" fill="none" stroke="#FF0000" stroke-width="2.0" stroke-linejoin="round" stroke-linecap="butt" /><polyline points="79.9,1788.9 80.3,1794.3 80.8,1799.8 81.2,1802.4 81.6,1808.0 82.0,1804.1 82.4,1805.4 82.8,1802.2 83.2,1805.3 83.6,1804.4 84.1,1806.8 84.5,1810.4 84.9,1808.9 85.3,1809.6 85.8,1811.3 86.2,1810.9 86.6,1811.7 87.0,1810.1 87.5,1808.2 87.9,1809.4 88.3,1806.7 88.7,1800.7 89.2,1806.8 89.6,1796.7 90.0,1808.6 90.4,1800.4 90.8,1799.5 91.3,1802.4 91.7,1810.2 92.1,1806.8 92.5,1816.0 92.9,1822.6 93.3,1822.0 93.7,1826.9 94.2,1833.9 94.6,1830.8 95.0,1824.2 95.5,1815.8 95.9,1815.3 96.4,1816.2 96.8,1821.0 97.2,1823.1 97.6,1821.9 98.1,1821.3 98.5,1823.6 98.9,1829.2 99.3,1833.7 99.7,1836.8 100.2,1841.4 100.6,1844.7 101.0,1842.2 101.4,1847.1 101.9,1840.3 102.3,1844.8 102.7,1844.2 103.1,1838.1 103.6,1848.5 104.0,1853.8 104.4,1852.1 104.8,1842.1 105.3,1836.0 105.7,1845.7 106.1,1847.1 106.5,1842.5 106.9,1839.8 107.4,1834.1 107.8,1838.1 108.2,1830.2 108.6,1829.3 109.1,1831.3 109.5,1836.0 109.9,1833.3 110.3,1831.8 110.8,1830.7 111.2,1826.8 111.6,1818.2 112.1,1816.5 112.5,1813.2 113.0,1807.4 113.4,1809.5 113.8,1810.8 114.2,1807.1 114.6,1806.3 115.0,1812.3 115.4,1813.6 115.8,1813.2 116.3,1812.4 116.7,1807.3 117.1,1803.2 117.5,1797.5 118.0,1796.3 118.4,1790.9 118.8,1800.6 119.2,1808.4 119.7,1809.9 120.1,1818.9 120.5,1820.2 120.9,1818.5 121.4,1814.9 121.8,1820.9 122.2,1822.4 122.6,1813.2 123.1,1817.4 123.5,1822.0 123.9,1816.5 124.3,1825.4 124.7,1821.2 125.2,1823.3 125.6,1819.8 126.0,1820.6 126.4,1820.7 126.9,1825.1 127.3,1819.4 127.7,1820.5 128.1,1821.1 128.6,1817.2 129.0,1818.5 129.4,1811.7 129.8,1809.9 130.3,1812.3 130.7,1808.5 131.1,1809.9 131.5,1812.5 131.9,1811.4 132.4,1811.2 132.8,1809.7 133.2,1813.5 133.6,1811.4 134.1,1801.6 134.5,1809.9 134.9,1814.2 135.3,1811.7 135.8,1811.8 136.2,1804.0 136.6,1809.8 137.0,1809.0 137.5,1806.7 137.9,1811.5 138.3,1810.3 138.7,1806.4 139.2,1808.8 139.6,1811.6 140.0,1810.2 140.4,1812.5 140.8,1809.9 141.3,1805.4 141.7,1815.2 142.1,1815.9 142.5,1816.6 143.0,1809.3 143.4,1813.3 143.8,1819.9 144.2,1815.8 144.7,1812.8 145.1,1824.5 145.5,1820.2 145.9,1821.3 146.4,1819.8 146.8,1825.1 147.2,1823.0 147.6,1819.5 148.1,1820.1 148.5,1825.5 148.9,1836.1 149.4,1835.6 149.8,1837.3 150.2,1841.0 150.7,1841.7 151.1,1835.6 151.5,1836.3 151.9,1838.3 152.3,1834.4 152.7,1837.3 153.1,1836.3 153.6,1830.5 154.0,1836.5 154.4,1835.9 154.8,1834.4 155.3,1828.1 155.7,1835.8 156.1,1829.4 156.5,1836.3 156.9,1843.4 157.4,1835.8 157.8,1836.2 158.2,1835.7 158.6,1839.9 159.1,1837.6 159.5,1835.5 159.9,1840.3 160.3,1831.2 160.8,1833.1 161.2,1827.5 161.6,1832.1 162.0,1837.1 162.5,1832.4 162.9,1835.7 163.3,1843.0 163.7,1834.1 164.2,1837.9 164.6,1838.4 165.0,1845.0 165.4,1839.4 165.8,1835.4 166.3,1839.8 166.7,1835.0 167.1,1831.4 167.5,1834.1 168.0,1828.1 168.4,1835.0 168.8,1834.8 169.2,1827.8 169.7,1822.2 170.1,1822.5 170.5,1827.6 170.9,1827.6 171.4,1820.2 171.8,1817.8 172.3,1815.6 172.7,1816.4 173.1,1816.9 173.5,1815.9 173.9,1823.9 174.3,1830.1 174.7,1824.0 175.2,1833.3 175.6,1830.2 176.0,1828.4 176.4,1829.3 176.9,1832.8 177.3,1827.6 177.7,1829.1 178.1,1839.6 178.6,1832.7 179.0,1821.7 179.4,1823.2 179.8,1833.9 180.3,1822.4 180.7,1824.5 181.1,1825.2 181.5,1824.6 181.9,1824.5 182.4,1814.3 182.8,1828.8 183.2,1822.8 183.6,1829.5 184.1,1834.2 184.5,1828.9 184.9,1826.4 185.3,1832.5 185.8,1836.6 186.2,1838.3 186.6,1833.2 187.0,1831.8 187.5,1828.2 187.9,1837.5 188.3,1840.6 188.7,1840.6 189.2,1836.0 189.6,1835.3 190.0,1835.6 190.4,1839.8 190.8,1847.8 191.3,1846.4 191.7,1844.8 192.1,1845.8 192.5,1844.4 193.0,1845.8 193.4,1842.8 193.8,1850.8 194.2,1847.9 194.7,1846.0 195.1,1850.3 195.5,1849.5 195.9,1851.1 196.4,1844.3 196.8,1841.6 197.2,1849.3 197.6,1847.7 198.1,1845.5 198.5,1849.5 198.9,1847.8 199.3,1845.5 199.7,1841.5 200.2,1842.7 200.6,1846.2 201.0,1847.9 201.4,1849.4 201.9,1846.5 202.3,1849.6 202.7,1846.8 203.1,1848.0 203.6,1848.2 204.0,1857.1 204.4,1851.5 204.8,1855.3 205.3,1847.2 205.7,1851.6 206.1,1857.2 206.5,1851.9 206.9,1857.1 207.4,1852.2 207.8,1845.4 208.2,1849.5 208.6,1853.4 209.1,1855.2 209.5,1858.7 209.9,1859.2 210.3,1864.8 210.8,1866.2 211.2,1863.8 211.6,1859.5 212.0,1863.4 212.5,1868.3 212.9,1868.5 213.3,1865.5 213.7,1853.6 214.2,1858.3 214.6,1855.0 215.0,1850.7 215.4,1852.5 215.8,1840.5 216.3,1848.1 216.7,1847.0 217.1,1840.1 217.5,1840.8 218.0,1845.2 218.4,1851.9 218.8,1842.8 219.2,1839.9 219.6,1847.9 220.1,1844.9 220.5,1845.8 220.9,1847.0 221.3,1850.1 221.7,1847.6 222.1,1848.4 222.6,1848.2 223.0,1849.0 223.4,1843.9 223.8,1852.0 224.2,1855.9 224.7,1858.4 225.1,1862.0 225.5,1861.4 225.9,1870.4 226.4,1866.6 226.8,1865.0 227.2,1867.2 227.6,1872.0 228.1,1871.7 228.5,1871.3 228.9,1865.9 229.4,1860.0 229.8,1859.3 230.2,1860.3 230.7,1853.0 231.1,1860.9 231.5,1864.3 231.9,1865.0 232.3,1860.3 232.7,1863.2 233.2,1867.5 233.6,1873.1 234.0,1873.9 234.4,1869.7 234.8,1878.0 235.3,1871.5 235.7,1870.6 236.1,1867.5 236.5,1861.9 236.9,1865.6 237.4,1872.7 237.8,1869.3 238.2,1872.2 238.6,1876.2 239.1,1869.8 239.5,1875.9 239.9,1869.2 240.3,1872.6 240.8,1871.9 241.2,1873.5 241.6,1870.1 242.0,1868.8 242.5,1867.9 242.9,1870.2 243.3,1861.3 243.7,1855.8 244.2,1853.4 244.6,1859.2 245.0,1857.1 245.4,1853.8 245.8,1849.8 246.3,1849.2 246.7,1850.9 247.1,1847.8 247.5,1844.8 248.0,1847.5 248.4,1847.2 248.8,1842.2 249.2,1851.2 249.7,1852.0 250.1,1850.7 250.5,1854.1 250.9,1858.6 251.4,1857.5 251.8,1864.0 252.3,1845.0 252.7,1856.4 253.1,1863.2 253.6,1860.0 254.0,1856.7 254.4,1856.7 254.8,1858.6 255.2,1858.3 255.6,1852.2 256.0,1851.3 256.5,1855.3 256.9,1854.7 257.3,1850.7 257.7,1847.7 258.1,1844.3 258.6,1835.1 259.0,1829.8 259.4,1836.2 259.8,1830.3 260.3,1832.0 260.7,1829.4 261.1,1823.8 261.5,1823.4 261.9,1817.3 262.4,1815.3 262.8,1821.1 263.2,1816.7 263.6,1819.4 264.1,1821.1 264.5,1828.2 264.9,1821.1 265.3,1817.6 265.7,1808.5 266.1,1810.3 266.5,1800.2 267.0,1797.5 267.4,1790.3 267.9,1791.3 268.3,1788.2 268.8,1791.2 269.2,1794.3 269.6,1799.5 270.1,1807.4 270.5,1805.4 270.9,1805.8 271.3,1811.9 271.7,1815.1 272.1,1824.1 272.6,1821.9 273.0,1818.2 273.5,1816.3 273.9,1823.8 274.3,1825.7 274.7,1834.9 275.1,1832.9 275.5,1834.9 275.9,1838.8 276.4,1837.5 276.8,1840.5 277.2,1830.4 277.6,1837.5 278.1,1838.0 278.5,1834.5 278.9,1825.0 279.3,1825.9 279.7,1831.1 280.2,1826.3 280.6,1825.2 281.0,1826.8 281.4,1828.8 281.9,1828.4 282.3,1830.3 282.7,1821.0 283.1,1824.9 283.6,1824.4 284.0,1825.5 284.4,1829.5 284.8,1839.0 285.3,1838.3 285.7,1842.3 286.1,1842.3 286.5,1838.2 286.9,1843.9 287.4,1838.2 287.8,1844.2 288.2,1843.6 288.6,1841.3 289.1,1840.0 289.5,1837.4 289.9,1843.8 290.3,1842.3 290.7,1849.0 291.2,1845.4 291.6,1848.9 292.0,1848.9 292.4,1844.4 292.8,1848.1 293.2,1854.3 293.7,1848.1 294.1,1850.3 294.5,1842.9 295.0,1836.5 295.4,1843.8 295.8,1839.0 296.3,1836.4 296.7,1837.2 297.1,1840.6 297.5,1845.8 298.0,1836.1 298.4,1845.5 298.8,1844.0 299.2,1844.5 299.7,1850.9 300.1,1840.3 300.5,1837.6 300.9,1838.2 301.4,1848.7 301.8,1842.0 302.2,1845.7 302.6,1844.9 303.1,1840.8 303.5,1846.0 303.9,1845.7 304.3,1842.4 304.7,1838.7 305.2,1840.0 305.6,1845.2 306.0,1844.9 306.4,1840.9 306.9,1843.6 307.3,1844.8 307.7,1839.4 308.1,1840.1 308.6,1832.0 309.0,1844.9 309.4,1850.9 309.8,1848.3 310.3,1845.6 310.7,1849.6 311.1,1848.1 311.5,1850.9 311.9,1850.3 312.4,1848.9 312.8,1839.7 313.2,1849.3 313.6,1853.6 314.1,1851.9 314.5,1849.0 314.9,1852.5 315.3,1850.7 315.8,1853.1 316.2,1847.2 316.6,1848.5 317.0,1847.7 317.5,1847.4 317.9,1843.5 318.3,1838.6 318.7,1836.5 319.2,1836.5 319.6,1834.6 320.0,1837.2 320.4,1837.0 320.8,1834.4 321.3,1835.1 321.7,1833.6 322.1,1834.7 322.5,1835.0 323.0,1836.9 323.4,1842.1 323.8,1839.6 324.2,1847.5 324.7,1842.6 325.1,1841.2 325.5,1846.0 325.9,1851.4 326.4,1851.7 326.8,1846.2 327.2,1851.8 327.6,1844.7 328.1,1852.4 328.5,1853.8 328.9,1847.9 329.3,1854.8 329.7,1858.8 330.2,1856.4 330.6,1861.6 331.0,1854.6 331.4,1856.7 331.9,1855.5 332.3,1851.7 332.7,1854.5 333.1,1852.4 333.6,1849.9 334.0,1854.1 334.4,1850.6 334.8,1848.1 335.3,1853.2 335.7,1844.2 336.1,1842.7 336.5,1846.0 336.9,1854.3 337.4,1849.1 337.8,1853.1 338.2,1847.2 338.6,1847.1 339.1,1862.2 339.5,1860.0 339.9,1856.2 340.3,1859.3 340.8,1851.7 341.2,1849.6 341.6,1853.3 342.0,1850.0 342.5,1845.4 342.9,1849.4 343.3,1851.7 343.7,1850.2 344.2,1843.8 344.6,1839.1 345.0,1839.1 345.4,1835.7 345.8,1826.8 346.3,1823.6 346.7,1819.1 347.2,1814.2 347.6,1809.1 348.0,1803.1 348.5,1805.6 348.9,1801.5 349.3,1809.5 349.7,1815.0 350.1,1817.9 350.5,1822.7 350.9,1826.6 351.4,1824.3 351.8,1820.1 352.2,1821.7 352.6,1821.4 353.1,1808.8 353.5,1815.4 353.9,1815.8 354.3,1813.5 354.7,1808.6 355.2,1812.0 355.6,1807.5 356.0,1811.1 356.4,1812.0 356.9,1810.7 357.3,1814.5 357.7,1815.6 358.1,1828.6 358.6,1834.6 359.0,1837.0 359.4,1835.8 359.8,1826.4 360.3,1824.8 360.7,1825.5 361.1,1831.7 361.5,1835.6 361.9,1837.2 362.4,1835.4 362.8,1829.8 363.2,1826.2 363.6,1829.5 364.1,1821.4 364.5,1819.9 364.9,1807.2 365.3,1807.1 365.8,1811.4 366.2,1811.9 366.6,1803.2 367.1,1803.8 367.5,1790.8 368.0,1795.4 368.4,1789.4 368.8,1794.8 369.2,1797.4 369.6,1804.9 370.0,1807.5 370.4,1799.8 370.8,1789.4 371.3,1791.2 371.7,1795.7 372.1,1795.7 372.5,1797.8 372.9,1788.7 373.4,1774.8 373.8,1781.7 374.2,1770.1 374.6,1772.4 375.0,1767.3 375.5,1754.5 375.9,1753.5 376.4,1749.2 376.8,1744.9 377.2,1742.8 377.6,1732.8 378.1,1736.6 378.5,1736.6 379.0,1746.7 379.4,1752.4 379.8,1751.6 380.2,1758.1 380.6,1764.1 381.0,1763.4 381.4,1771.7 381.9,1770.7 382.3,1768.3 382.7,1763.4 383.1,1772.3 383.6,1767.2 384.0,1764.3 384.4,1763.4 384.9,1767.6 385.3,1765.9 385.8,1772.7 386.3,1763.3 386.8,1755.6 387.3,1740.2 387.7,1753.4 388.2,1754.2 388.6,1770.0 389.1,1787.5 389.5,1789.8 390.0,1793.3 390.4,1799.2 390.8,1807.3 391.3,1815.1 391.7,1809.0 392.1,1811.9 392.5,1814.5 392.9,1820.4 393.3,1815.0 393.7,1822.3 394.2,1824.6" fill="none" stroke="#44546A" stroke-width="2.0" stroke-linejoin="round" stroke-linecap="butt" /><line x1="79.9" y1="1730.5" x2="79.9" y2="1888.2" stroke="#7F7F7F" stroke-width="1.15"/><line x1="75.9" y1="1730.5" x2="79.9" y2="1730.5" stroke="#7F7F7F" stroke-width="1.15"/><text x="72.9" y="1734.3" font-size="10.8" text-anchor="end" fill="#000" textLength="15.3" lengthAdjust="spacingAndGlyphs" >200</text><line x1="75.9" y1="1753.0" x2="79.9" y2="1753.0" stroke="#7F7F7F" stroke-width="1.15"/><text x="72.9" y="1756.8" font-size="10.8" text-anchor="end" fill="#000" textLength="15.3" lengthAdjust="spacingAndGlyphs" >150</text><line x1="75.9" y1="1775.6" x2="79.9" y2="1775.6" stroke="#7F7F7F" stroke-width="1.15"/><text x="72.9" y="1779.4" font-size="10.8" text-anchor="end" fill="#000" textLength="15.3" lengthAdjust="spacingAndGlyphs" >100</text><line x1="75.9" y1="1798.1" x2="79.9" y2="1798.1" stroke="#7F7F7F" stroke-width="1.15"/><text x="72.9" y="1801.9" font-size="10.8" text-anchor="end" fill="#000" textLength="10.1" lengthAdjust="spacingAndGlyphs" >50</text><line x1="75.9" y1="1820.6" x2="79.9" y2="1820.6" stroke="#7F7F7F" stroke-width="1.15"/><text x="72.9" y="1824.4" font-size="10.8" text-anchor="end" fill="#000" ><tspan dx="-0.08">0</tspan></text><line x1="75.9" y1="1843.1" x2="79.9" y2="1843.1" stroke="#7F7F7F" stroke-width="1.15"/><text x="72.9" y="1846.9" font-size="10.8" text-anchor="end" fill="#FF0000" textLength="15.3" lengthAdjust="spacing" >-50</text><line x1="75.9" y1="1865.7" x2="79.9" y2="1865.7" stroke="#7F7F7F" stroke-width="1.15"/><text x="72.9" y="1869.5" font-size="10.8" text-anchor="end" fill="#FF0000" textLength="20.6" lengthAdjust="spacing" >-100</text><line x1="75.9" y1="1888.2" x2="79.9" y2="1888.2" stroke="#7F7F7F" stroke-width="1.15"/><text x="72.9" y="1892.0" font-size="10.8" text-anchor="end" fill="#FF0000" textLength="20.6" lengthAdjust="spacing" >-150</text><line x1="394.9" y1="1730.5" x2="394.9" y2="1820.3" stroke="#7F7F7F" stroke-width="1.15"/><line x1="394.9" y1="1820.3" x2="394.9" y2="1888.2" stroke="#FF0000" stroke-width="1.15"/><line x1="394.9" y1="1730.5" x2="398.9" y2="1730.5" stroke="#7F7F7F" stroke-width="1.15"/><text x="401.9" y="1734.3" font-size="10.8" text-anchor="start" fill="#000" textLength="15.3" lengthAdjust="spacingAndGlyphs" >200</text><line x1="394.9" y1="1753.0" x2="398.9" y2="1753.0" stroke="#7F7F7F" stroke-width="1.15"/><text x="401.9" y="1756.8" font-size="10.8" text-anchor="start" fill="#000" textLength="15.3" lengthAdjust="spacingAndGlyphs" >150</text><line x1="394.9" y1="1775.6" x2="398.9" y2="1775.6" stroke="#7F7F7F" stroke-width="1.15"/><text x="401.9" y="1779.4" font-size="10.8" text-anchor="start" fill="#000" textLength="15.3" lengthAdjust="spacingAndGlyphs" >100</text><line x1="394.9" y1="1798.1" x2="398.9" y2="1798.1" stroke="#7F7F7F" stroke-width="1.15"/><text x="401.9" y="1801.9" font-size="10.8" text-anchor="start" fill="#000" textLength="10.1" lengthAdjust="spacingAndGlyphs" >50</text><line x1="394.9" y1="1820.6" x2="398.9" y2="1820.6" stroke="#FF0000" stroke-width="1.15"/><text x="401.9" y="1824.4" font-size="10.8" text-anchor="start" fill="#000" ><tspan dx="-0.08">0</tspan></text><line x1="394.9" y1="1843.1" x2="398.9" y2="1843.1" stroke="#FF0000" stroke-width="1.15"/><text x="401.9" y="1846.9" font-size="10.8" text-anchor="start" fill="#FF0000" textLength="15.3" lengthAdjust="spacing" >-50</text><line x1="394.9" y1="1865.7" x2="398.9" y2="1865.7" stroke="#FF0000" stroke-width="1.15"/><text x="401.9" y="1869.5" font-size="10.8" text-anchor="start" fill="#FF0000" textLength="20.6" lengthAdjust="spacing" >-100</text><line x1="394.9" y1="1888.2" x2="398.9" y2="1888.2" stroke="#FF0000" stroke-width="1.15"/><text x="401.9" y="1892.0" font-size="10.8" text-anchor="start" fill="#FF0000" textLength="20.6" lengthAdjust="spacing" >-150</text><line x1="105.3" y1="1718.6" x2="136.1" y2="1718.6" stroke="#FF0000" stroke-width="2.2"/><text x="139.2" y="1722.3" font-size="10.5" text-anchor="start" fill="#000" ><tspan textLength="15.8" lengthAdjust="spacingAndGlyphs">LME</tspan>铜升贴水<tspan textLength="26.2" lengthAdjust="spacing">(0-3)</tspan></text><line x1="231.4" y1="1718.6" x2="262.7" y2="1718.6" stroke="#44546A" stroke-width="2.2"/><text x="266.3" y="1722.3" font-size="10.5" text-anchor="start" fill="#000" ><tspan textLength="15.8" lengthAdjust="spacingAndGlyphs">LME</tspan>铜升贴水<tspan textLength="31.5" lengthAdjust="spacing">(3-15)</tspan></text></svg>
<svg class="chart" style="left:473px;top:1699px" width="398" height="212" viewBox="473 1699 398 212"><rect x="473" y="1699" width="398" height="212" fill="#fff"/><line x1="510.5" y1="1862.9" x2="836.7" y2="1862.9" stroke="#7F7F7F" stroke-width="1.15"/><line x1="510.5" y1="1862.9" x2="510.5" y2="1866.9" stroke="#7F7F7F" stroke-width="1.15"/><text transform="translate(512.0,1879.5) rotate(-45)" font-size="11" text-anchor="end" fill="#000">2016-01</text><line x1="540.2" y1="1862.9" x2="540.2" y2="1866.9" stroke="#7F7F7F" stroke-width="1.15"/><text transform="translate(541.7,1879.5) rotate(-45)" font-size="11" text-anchor="end" fill="#000">2016-07</text><line x1="569.9" y1="1862.9" x2="569.9" y2="1866.9" stroke="#7F7F7F" stroke-width="1.15"/><text transform="translate(571.4,1879.5) rotate(-45)" font-size="11" text-anchor="end" fill="#000">2017-01</text><line x1="599.7" y1="1862.9" x2="599.7" y2="1866.9" stroke="#7F7F7F" stroke-width="1.15"/><text transform="translate(601.2,1879.5) rotate(-45)" font-size="11" text-anchor="end" fill="#000">2017-07</text><line x1="629.4" y1="1862.9" x2="629.4" y2="1866.9" stroke="#7F7F7F" stroke-width="1.15"/><text transform="translate(630.9,1879.5) rotate(-45)" font-size="11" text-anchor="end" fill="#000">2018-01</text><line x1="659.1" y1="1862.9" x2="659.1" y2="1866.9" stroke="#7F7F7F" stroke-width="1.15"/><text transform="translate(660.6,1879.5) rotate(-45)" font-size="11" text-anchor="end" fill="#000">2018-07</text><line x1="688.8" y1="1862.9" x2="688.8" y2="1866.9" stroke="#7F7F7F" stroke-width="1.15"/><text transform="translate(690.3,1879.5) rotate(-45)" font-size="11" text-anchor="end" fill="#000">2019-01</text><line x1="718.5" y1="1862.9" x2="718.5" y2="1866.9" stroke="#7F7F7F" stroke-width="1.15"/><text transform="translate(720.0,1879.5) rotate(-45)" font-size="11" text-anchor="end" fill="#000">2019-07</text><line x1="748.3" y1="1862.9" x2="748.3" y2="1866.9" stroke="#7F7F7F" stroke-width="1.15"/><text transform="translate(749.8,1879.5) rotate(-45)" font-size="11" text-anchor="end" fill="#000">2020-01</text><line x1="778.0" y1="1862.9" x2="778.0" y2="1866.9" stroke="#7F7F7F" stroke-width="1.15"/><text transform="translate(779.5,1879.5) rotate(-45)" font-size="11" text-anchor="end" fill="#000">2020-07</text><line x1="807.7" y1="1862.9" x2="807.7" y2="1866.9" stroke="#7F7F7F" stroke-width="1.15"/><text transform="translate(809.2,1879.5) rotate(-45)" font-size="11" text-anchor="end" fill="#000">2021-01</text><polyline points="520.6,1786.6 522.0,1798.6 522.9,1803.6 523.8,1807.6 525.0,1805.2 526.1,1804.2 527.0,1805.5 528.0,1808.0 528.9,1809.9 529.7,1810.0 530.5,1809.8 531.3,1809.7 532.1,1809.3 533.3,1813.7 534.4,1819.2 535.6,1814.4 536.7,1809.8 537.9,1812.2 539.0,1814.0 539.8,1813.5 540.7,1813.4 541.5,1815.6 542.3,1813.7 543.1,1815.5 543.9,1813.8 544.8,1813.2 545.6,1813.5 546.4,1813.5 547.2,1813.8 548.0,1813.5 548.9,1813.5 549.7,1814.1 550.5,1814.7 551.7,1807.0 552.8,1799.7 554.0,1797.0 555.1,1795.9 556.3,1780.4 557.4,1768.2 558.8,1766.5 559.9,1771.1 561.1,1776.0 561.9,1779.6 562.7,1783.8 563.5,1786.5 564.3,1789.7 565.5,1791.3 566.6,1794.1 567.8,1793.9 568.9,1794.4 570.1,1797.1 571.2,1800.4 572.1,1799.7 573.1,1798.8 574.0,1798.7 574.9,1798.5 575.8,1799.4 576.7,1798.9 577.7,1802.9 578.6,1807.3 579.5,1811.0 580.3,1812.2 581.1,1814.0 581.9,1814.1 582.7,1817.2 583.5,1816.1 584.3,1814.6 585.1,1815.4 585.9,1814.6 586.9,1810.6 587.8,1808.7 588.7,1806.6 589.5,1803.2 590.3,1799.7 591.1,1797.4 591.9,1795.6 592.7,1794.6 593.5,1794.7 594.3,1794.7 595.1,1795.5 596.1,1794.7 597.0,1794.1 597.9,1792.7 598.8,1792.1 599.6,1791.7 600.4,1788.1 601.2,1786.4 602.0,1784.8 603.2,1784.7 604.3,1784.7 605.7,1791.6 606.6,1792.4 607.6,1792.3 608.5,1792.8 609.4,1793.0 610.3,1793.8 611.1,1791.1 611.9,1791.3 612.7,1789.5 613.5,1788.7 614.5,1787.2 615.4,1784.8 616.3,1783.6 617.2,1781.9 618.1,1782.1 619.1,1782.1 620.0,1780.6 620.9,1781.9 621.8,1781.1 622.7,1780.6 623.7,1779.2 624.6,1778.3 625.5,1778.9 626.4,1778.5 627.2,1777.7 628.0,1779.4 628.8,1780.2 629.6,1779.3 630.6,1779.7 631.5,1781.7 632.4,1783.0 633.3,1784.8 634.1,1785.2 634.9,1785.2 635.7,1783.3 636.5,1782.1 637.5,1782.1 638.4,1780.2 639.3,1778.3 640.2,1778.1 641.1,1777.7 642.1,1776.8 643.0,1777.1 643.9,1776.2 644.8,1776.5 645.7,1776.5 646.7,1776.0 647.6,1774.8 648.5,1774.8 649.4,1776.0 650.3,1776.2 651.3,1776.0 652.2,1774.8 653.1,1775.6 654.0,1774.7 655.2,1778.3 656.3,1782.2 657.1,1784.6 657.9,1784.6 658.7,1786.2 659.5,1786.5 660.5,1785.7 661.4,1786.1 662.3,1785.6 663.1,1783.7 663.9,1781.8 664.7,1779.9 665.5,1776.9 666.7,1772.1 667.8,1768.6 669.0,1768.3 670.1,1768.6 671.3,1751.2 672.4,1734.4 673.3,1734.2 674.3,1735.5 675.2,1735.1 676.1,1735.1 677.0,1734.8 678.2,1738.6 679.3,1743.2 680.5,1751.5 681.6,1759.3 682.8,1776.9 683.9,1794.6 685.1,1790.2 686.2,1786.3 687.1,1786.6 688.1,1785.6 689.0,1785.2 689.9,1784.9 690.8,1784.1 691.6,1786.1 692.4,1787.3 693.2,1788.9 694.0,1790.4 695.2,1791.8 696.3,1793.8 697.3,1798.5 698.2,1802.0 699.1,1807.5 699.9,1804.7 700.7,1802.4 701.5,1801.5 702.3,1802.3 703.1,1803.7 703.9,1803.9 704.7,1805.5 705.5,1807.4 706.5,1807.8 707.4,1809.1 708.3,1810.3 709.2,1811.5 710.4,1810.1 711.5,1809.2 712.7,1803.9 713.8,1799.5 714.7,1797.3 715.7,1797.2 716.6,1798.7 717.5,1798.7 718.4,1797.9 719.3,1795.3 720.3,1796.7 721.2,1797.5 722.1,1796.6 722.9,1794.2 723.7,1791.9 724.5,1790.4 725.3,1786.3 726.1,1784.8 726.9,1783.4 727.7,1782.7 728.5,1781.4 729.5,1777.5 730.4,1773.6 731.3,1771.1 732.1,1771.6 732.9,1772.7 733.7,1773.1 734.5,1773.6 735.3,1775.5 736.1,1777.2 736.9,1779.3 737.7,1781.0 738.7,1782.3 739.6,1785.1 740.5,1788.2 741.3,1788.2 742.1,1788.4 742.9,1787.0 743.7,1785.9 744.9,1791.1 746.0,1797.9 746.9,1798.8 747.9,1799.3 748.8,1799.2 749.7,1799.6 750.6,1801.6 751.5,1801.2 752.5,1801.5 753.4,1803.0 754.3,1802.0 755.2,1800.8 756.2,1800.6 757.1,1800.5 758.0,1798.0 758.9,1796.7 759.7,1796.0 760.5,1795.8 761.3,1795.3 762.1,1794.3 763.3,1787.1 764.4,1780.0 765.6,1773.4 766.7,1767.2 767.9,1759.0 769.0,1750.5 770.2,1745.5 771.3,1741.6 772.5,1749.8 773.6,1759.6 775.0,1776.4 775.9,1763.9 776.9,1753.5 778.0,1755.5 779.2,1759.5 780.3,1758.4 781.5,1758.1 782.6,1766.1 783.8,1774.0 784.7,1777.8 785.6,1780.0 786.5,1783.6 787.4,1787.4 788.2,1788.6 789.0,1791.7 789.8,1795.0 790.7,1796.2 791.8,1802.3 793.0,1807.9 793.9,1805.9 794.8,1805.4 795.7,1804.0 796.5,1806.7 797.3,1808.3 798.1,1809.3 798.9,1811.1 800.1,1812.0 801.2,1813.1 802.4,1803.2 803.5,1796.6 804.3,1796.8 805.1,1797.3 806.0,1798.6 806.8,1798.9 807.7,1796.5 808.6,1794.0 809.5,1793.3 810.4,1789.8 811.4,1788.6 812.3,1786.3 813.2,1784.3 814.1,1783.6 814.9,1783.6 815.7,1782.0 816.5,1781.3 817.3,1781.9 818.5,1783.6 819.6,1787.8 820.8,1790.9 821.9,1792.1 823.1,1798.7 824.2,1804.7 825.4,1805.3 826.5,1810.4 827.7,1815.9 828.8,1822.1 830.0,1824.8 831.1,1826.4 832.3,1831.9 833.4,1838.4 834.6,1837.6 835.7,1839.7 836.7,1835.7" fill="none" stroke="#FF0000" stroke-width="2.4" stroke-linejoin="round" stroke-linecap="butt" /><line x1="510.5" y1="1734.0" x2="510.5" y2="1862.9" stroke="#7F7F7F" stroke-width="1.15"/><line x1="506.5" y1="1734.0" x2="510.5" y2="1734.0" stroke="#7F7F7F" stroke-width="1.15"/><text x="503.5" y="1737.8" font-size="10.8" text-anchor="end" fill="#000" textLength="15.3" lengthAdjust="spacingAndGlyphs" >120</text><line x1="506.5" y1="1755.5" x2="510.5" y2="1755.5" stroke="#7F7F7F" stroke-width="1.15"/><text x="503.5" y="1759.3" font-size="10.8" text-anchor="end" fill="#000" textLength="15.3" lengthAdjust="spacingAndGlyphs" >100</text><line x1="506.5" y1="1777.0" x2="510.5" y2="1777.0" stroke="#7F7F7F" stroke-width="1.15"/><text x="503.5" y="1780.8" font-size="10.8" text-anchor="end" fill="#000" textLength="10.1" lengthAdjust="spacingAndGlyphs" >80</text><line x1="506.5" y1="1798.5" x2="510.5" y2="1798.5" stroke="#7F7F7F" stroke-width="1.15"/><text x="503.5" y="1802.2" font-size="10.8" text-anchor="end" fill="#000" textLength="10.1" lengthAdjust="spacingAndGlyphs" >60</text><line x1="506.5" y1="1819.9" x2="510.5" y2="1819.9" stroke="#7F7F7F" stroke-width="1.15"/><text x="503.5" y="1823.7" font-size="10.8" text-anchor="end" fill="#000" textLength="10.1" lengthAdjust="spacingAndGlyphs" >40</text><line x1="506.5" y1="1841.4" x2="510.5" y2="1841.4" stroke="#7F7F7F" stroke-width="1.15"/><text x="503.5" y="1845.2" font-size="10.8" text-anchor="end" fill="#000" textLength="10.1" lengthAdjust="spacingAndGlyphs" >20</text><line x1="506.5" y1="1862.9" x2="510.5" y2="1862.9" stroke="#7F7F7F" stroke-width="1.15"/><text x="503.5" y="1866.7" font-size="10.8" text-anchor="end" fill="#000" ><tspan dx="-0.08">0</tspan></text><line x1="608.0" y1="1717.5" x2="638.0" y2="1717.5" stroke="#FF0000" stroke-width="2.4"/><text x="642.5" y="1721.2" font-size="10.5" text-anchor="start" fill="#000" >平均溢价<tspan dx="1.17">:</tspan><tspan dx="1.17">洋山铜</tspan></text></svg>
<svg class="chart" style="left:33px;top:1972px" width="400" height="205" viewBox="33 1972 400 205"><path d="M87.8,2047.5 L87.8,2025.1 L88.4,2025.1 L89.0,2030.2 L89.6,2040.6 L90.2,2051.4 L90.8,2068.8 L91.3,2071.4 L91.8,2065.6 L92.3,2066.2 L92.8,2071.5 L93.2,2064.4 L93.7,2054.0 L94.2,2062.6 L94.7,2067.8 L95.1,2069.5 L95.6,2076.8 L96.1,2068.0 L96.6,2078.4 L97.1,2076.8 L97.5,2083.0 L98.0,2089.3 L98.5,2083.5 L99.0,2085.7 L99.5,2091.3 L99.9,2081.3 L100.4,2089.8 L100.9,2083.5 L101.3,2085.4 L101.8,2068.9 L102.3,2075.7 L102.8,2071.1 L103.3,2065.7 L103.8,2060.9 L104.3,2067.0 L104.8,2067.6 L105.3,2070.9 L105.8,2071.2 L106.4,2052.9 L106.9,2073.5 L107.4,2088.5 L107.8,2087.8 L108.3,2074.7 L108.8,2073.4 L109.3,2067.7 L109.8,2067.8 L110.2,2063.3 L110.7,2066.8 L111.2,2054.0 L111.7,2060.1 L112.2,2059.0 L112.7,2060.7 L113.2,2058.0 L113.7,2059.3 L114.2,2061.1 L114.7,2059.9 L115.3,2068.6 L115.8,2078.0 L116.3,2073.2 L116.8,2080.1 L117.3,2069.5 L117.8,2083.8 L118.3,2087.8 L118.8,2078.9 L119.3,2069.4 L119.8,2066.1 L120.3,2078.8 L120.8,2063.6 L121.4,2049.8 L121.8,2058.7 L122.3,2062.6 L122.8,2057.5 L123.3,2060.6 L123.7,2061.0 L124.2,2053.0 L124.7,2055.9 L125.2,2051.7 L125.6,2054.2 L126.1,2054.2 L126.6,2056.7 L127.1,2054.1 L127.6,2048.6 L128.0,2057.6 L128.5,2058.6 L129.0,2061.0 L129.5,2055.0 L130.0,2055.6 L130.5,2053.1 L131.0,2050.7 L131.5,2048.7 L132.0,2046.7 L132.5,2047.9 L133.1,2049.5 L133.6,2052.0 L134.1,2053.6 L134.7,2058.5 L135.3,2066.9 L135.9,2059.2 L136.5,2057.3 L137.1,2073.7 L137.6,2077.0 L138.1,2079.8 L138.5,2051.4 L139.0,2062.4 L139.5,2068.2 L140.0,2069.0 L140.4,2059.6 L140.9,2067.6 L141.4,2072.4 L141.9,2069.4 L142.3,2073.3 L142.8,2065.5 L143.3,2053.9 L143.8,2077.5 L144.2,2077.4 L144.7,2085.0 L145.2,2078.8 L145.7,2084.7 L146.1,2077.1 L146.6,2066.4 L147.1,2077.6 L147.6,2067.1 L148.1,2076.1 L148.5,2075.8 L149.0,2070.0 L149.5,2067.6 L150.0,2070.3 L150.4,2061.6 L150.9,2062.7 L151.4,2071.7 L151.9,2064.5 L152.3,2068.9 L152.8,2074.3 L153.3,2048.0 L153.8,2065.7 L154.2,2060.7 L154.7,2053.9 L155.2,2066.3 L155.7,2074.6 L156.2,2073.8 L156.7,2053.3 L157.2,2061.0 L157.7,2050.2 L158.2,2052.5 L158.8,2048.5 L159.4,2044.7 L160.0,2039.5 L160.5,2045.2 L161.0,2048.2 L161.5,2053.3 L162.1,2055.2 L162.7,2054.2 L163.3,2055.4 L163.8,2063.7 L164.3,2055.8 L164.7,2061.3 L165.2,2058.4 L165.7,2069.0 L166.2,2057.7 L166.6,2071.2 L167.1,2067.7 L167.6,2061.5 L168.0,2064.2 L168.5,2065.7 L169.0,2061.5 L169.4,2058.7 L169.9,2066.3 L170.4,2062.4 L170.8,2059.7 L171.3,2061.1 L171.7,2056.6 L172.2,2054.2 L172.7,2054.0 L173.1,2055.2 L173.6,2058.9 L174.1,2061.4 L174.5,2056.4 L175.0,2060.7 L175.4,2056.4 L175.9,2058.2 L176.4,2056.6 L176.8,2062.5 L177.3,2058.5 L177.8,2056.9 L178.2,2065.4 L178.7,2059.5 L179.2,2071.6 L179.7,2057.4 L180.1,2076.6 L180.6,2076.9 L181.1,2060.8 L181.7,2067.5 L182.3,2056.9 L182.9,2051.2 L183.4,2048.3 L183.9,2045.7 L184.4,2044.9 L184.9,2046.8 L185.4,2041.6 L185.9,2035.6 L186.4,2036.1 L186.9,2041.8 L187.5,2034.6 L187.9,2038.9 L188.4,2035.8 L188.9,2038.0 L189.4,2036.2 L189.8,2039.6 L190.3,2039.2 L190.8,2046.2 L191.3,2040.4 L191.8,2039.6 L192.3,2042.9 L192.8,2045.0 L193.3,2046.6 L193.9,2048.9 L194.5,2050.2 L195.1,2051.2 L195.6,2055.2 L196.0,2060.4 L196.5,2064.4 L197.0,2050.5 L197.5,2069.8 L197.9,2079.5 L198.4,2077.9 L198.9,2080.6 L199.4,2068.1 L199.9,2083.9 L200.3,2068.2 L200.8,2072.0 L201.3,2074.0 L201.8,2047.8 L202.2,2054.9 L202.7,2067.7 L203.2,2063.1 L203.6,2063.1 L204.1,2063.4 L204.6,2060.6 L205.0,2058.9 L205.5,2060.4 L205.9,2054.3 L206.4,2050.0 L206.9,2056.4 L207.3,2051.5 L207.8,2049.2 L208.3,2052.5 L208.8,2055.2 L209.2,2053.4 L209.7,2055.4 L210.2,2054.3 L210.7,2054.4 L211.1,2053.5 L211.6,2052.4 L212.1,2054.5 L212.6,2056.2 L213.0,2050.3 L213.5,2056.2 L214.0,2057.8 L214.5,2055.0 L214.9,2053.2 L215.4,2055.5 L215.9,2053.5 L216.4,2052.5 L216.9,2052.7 L217.3,2053.4 L217.8,2052.5 L218.3,2052.1 L218.8,2049.8 L219.2,2052.1 L220.0,2076.8 L220.5,2096.3 L221.0,2076.0 L221.5,2076.6 L222.0,2081.4 L222.5,2081.8 L223.1,2086.5 L223.6,2081.6 L224.1,2061.4 L224.6,2067.5 L225.1,2054.2 L225.6,2050.9 L226.1,2048.0 L226.6,2047.2 L227.1,2045.4 L227.7,2040.3 L228.3,2031.5 L228.9,2026.0 L229.4,2025.2 L229.9,2024.6 L230.3,2027.3 L230.8,2032.5 L231.3,2025.5 L231.8,2029.2 L232.2,2042.2 L232.7,2027.8 L233.2,2026.1 L233.7,2015.6 L234.1,2029.0 L234.6,2027.1 L235.1,2033.0 L235.6,2021.3 L236.0,2022.2 L236.5,2020.4 L237.0,2027.2 L237.5,2031.4 L237.9,2031.5 L238.4,2040.1 L238.9,2033.4 L239.4,2039.5 L239.8,2034.6 L240.3,2039.7 L240.8,2045.8 L241.4,2050.5 L241.8,2051.3 L242.3,2060.8 L242.8,2068.1 L243.2,2072.3 L243.7,2050.3 L244.2,2080.4 L244.7,2082.5 L245.2,2081.5 L245.7,2070.9 L246.2,2087.5 L246.7,2060.3 L247.2,2101.5 L247.7,2093.1 L248.2,2109.2 L248.7,2104.6 L249.2,2084.0 L249.7,2049.9 L250.3,2072.8 L250.8,2099.8 L251.3,2074.8 L251.8,2078.7 L252.3,2092.4 L252.8,2081.5 L253.3,2065.0 L253.8,2068.8 L254.3,2063.4 L254.8,2064.3 L255.3,2057.7 L255.7,2060.6 L256.2,2058.0 L256.7,2053.3 L257.2,2050.7 L257.6,2048.9 L258.2,2050.1 L258.8,2052.3 L259.4,2048.4 L259.9,2058.1 L260.4,2061.2 L260.9,2068.3 L261.4,2075.4 L261.9,2086.4 L262.5,2089.0 L263.0,2074.6 L263.5,2087.3 L264.0,2098.1 L264.5,2084.6 L265.0,2084.5 L265.5,2090.7 L266.0,2076.1 L266.5,2069.9 L267.0,2087.9 L267.5,2067.5 L268.1,2070.0 L268.6,2064.2 L269.1,2060.2 L269.6,2047.9 L270.1,2050.4 L270.6,2051.2 L271.1,2050.2 L271.6,2049.9 L272.1,2047.6 L272.6,2055.4 L273.1,2069.0 L273.6,2049.1 L274.2,2090.1 L274.7,2058.5 L275.3,2064.0 L275.9,2052.9 L276.4,2048.5 L276.9,2046.3 L277.5,2043.0 L278.0,2039.9 L278.5,2042.2 L279.0,2041.9 L279.5,2037.7 L280.0,2033.4 L280.5,2032.3 L281.0,2035.4 L281.5,2030.6 L281.9,2046.0 L282.4,2035.6 L282.9,2034.1 L283.3,2046.4 L283.8,2038.5 L284.3,2040.1 L284.7,2037.2 L285.2,2036.1 L285.6,2036.4 L286.1,2044.1 L286.6,2040.3 L287.0,2031.7 L287.5,2033.5 L288.0,2033.7 L288.4,2027.7 L288.9,2034.5 L289.3,2028.2 L289.8,2023.4 L290.3,2026.5 L290.7,2030.6 L291.2,2024.1 L291.6,2019.9 L292.1,2043.0 L292.6,2020.7 L293.0,2029.9 L293.5,2026.2 L294.0,2023.6 L294.4,2030.8 L294.9,2024.0 L295.3,2035.2 L295.8,2033.3 L296.3,2028.6 L296.8,2030.9 L297.3,2037.0 L297.8,2039.9 L298.3,2047.4 L298.8,2040.5 L299.3,2044.0 L299.8,2047.7 L300.3,2054.5 L300.8,2056.9 L301.4,2055.8 L302.0,2055.6 L302.6,2053.7 L303.2,2051.8 L303.8,2047.9 L304.4,2045.3 L304.9,2044.8 L305.4,2046.6 L305.9,2047.3 L306.4,2046.8 L307.1,2055.0 L307.7,2061.3 L308.3,2060.3 L308.9,2054.6 L309.5,2051.6 L310.0,2047.9 L310.5,2046.2 L311.0,2041.8 L311.5,2044.5 L312.0,2042.1 L312.5,2045.8 L313.1,2043.0 L313.6,2044.2 L314.1,2044.7 L314.6,2048.8 L315.1,2053.9 L315.6,2058.8 L316.1,2058.2 L316.7,2051.9 L317.3,2051.6 L317.9,2048.8 L318.4,2050.1 L318.9,2051.9 L319.4,2051.4 L319.9,2051.6 L320.4,2054.4 L320.9,2052.7 L321.4,2051.3 L321.9,2048.7 L322.5,2046.4 L323.0,2044.3 L323.5,2045.5 L324.0,2038.5 L324.5,2038.0 L325.0,2028.7 L325.5,2030.2 L326.0,2026.2 L326.4,2018.8 L326.9,2039.2 L327.4,2018.3 L327.8,2024.6 L328.3,2030.7 L328.7,2011.2 L329.2,2025.3 L329.7,2008.8 L330.1,2045.1 L330.6,2046.9 L331.1,2018.5 L331.5,2020.4 L332.0,2026.9 L332.5,2025.7 L333.0,2024.3 L333.5,2031.9 L333.9,2023.1 L334.4,2028.0 L334.9,2028.9 L335.4,2035.8 L335.9,2036.7 L336.4,2037.6 L336.9,2043.9 L337.5,2044.7 L338.0,2046.8 L338.5,2048.8 L339.0,2051.3 L339.5,2053.2 L340.0,2052.6 L340.4,2053.1 L340.9,2055.5 L341.3,2055.3 L341.8,2061.9 L342.3,2058.0 L342.7,2057.3 L343.2,2058.0 L343.7,2063.6 L344.1,2063.7 L344.6,2053.0 L345.1,2069.5 L345.5,2073.4 L346.0,2066.7 L346.5,2076.5 L347.0,2053.0 L347.4,2071.1 L347.9,2082.0 L348.4,2075.9 L348.9,2073.8 L349.3,2073.3 L349.8,2048.3 L350.3,2053.3 L350.8,2068.3 L351.2,2066.3 L351.7,2052.2 L352.2,2061.8 L352.7,2049.7 L353.1,2075.6 L353.6,2055.4 L354.1,2068.1 L354.5,2070.8 L355.0,2061.5 L355.4,2068.0 L355.9,2066.5 L356.4,2063.6 L356.8,2061.7 L357.3,2059.4 L357.8,2050.9 L358.2,2049.8 L358.7,2060.4 L359.1,2058.1 L359.6,2059.3 L360.1,2056.0 L360.5,2051.1 L361.0,2049.8 L361.4,2055.0 L361.9,2055.2 L362.4,2055.5 L362.8,2054.9 L363.3,2055.5 L363.8,2054.1 L364.2,2053.0 L364.7,2052.5 L365.1,2057.2 L365.6,2056.7 L366.1,2053.9 L366.5,2048.6 L367.0,2059.2 L367.5,2049.5 L367.9,2055.9 L368.4,2059.5 L368.8,2059.3 L369.3,2050.8 L369.8,2061.4 L370.2,2062.1 L370.7,2058.7 L371.2,2064.9 L371.6,2062.5 L372.1,2064.0 L372.5,2064.0 L373.0,2069.0 L373.5,2059.0 L374.0,2069.3 L374.4,2073.7 L374.9,2065.3 L375.4,2069.2 L375.9,2067.3 L376.4,2082.1 L376.8,2068.6 L377.3,2075.7 L377.8,2059.9 L378.3,2066.5 L378.7,2056.0 L379.2,2055.4 L379.7,2053.7 L380.2,2052.7 L380.6,2053.9 L381.1,2055.8 L381.6,2069.9 L382.1,2075.4 L382.6,2075.8 L383.0,2079.1 L383.5,2074.9 L384.0,2056.5 L384.5,2061.3 L385.0,2057.3 L385.5,2062.6 L386.0,2050.3 L386.5,2068.0 L387.0,2086.0 L387.5,2067.5 L388.1,2069.7 L388.6,2065.4 L389.1,2063.0 L389.5,2062.7 L390.0,2054.3 L390.5,2057.2 L391.0,2053.4 L391.5,2053.9 L391.9,2059.2 L392.4,2052.6 L392.9,2051.8 L393.5,2050.4 L393.5,2047.5 Z" fill="#BFBFBF" stroke="#BFBFBF" stroke-width="0.5"/><line x1="87.8" y1="2047.5" x2="394.2" y2="2047.5" stroke="#8C8C8C" stroke-width="1.3"/><line x1="87.8" y1="2047.5" x2="87.8" y2="2051.5" stroke="#7F7F7F" stroke-width="1.15"/><text transform="translate(89.3,2148.5) rotate(-45)" font-size="11" text-anchor="end" fill="#000">2016-01</text><line x1="115.7" y1="2047.5" x2="115.7" y2="2051.5" stroke="#7F7F7F" stroke-width="1.15"/><text transform="translate(117.2,2148.5) rotate(-45)" font-size="11" text-anchor="end" fill="#000">2016-07</text><line x1="143.5" y1="2047.5" x2="143.5" y2="2051.5" stroke="#7F7F7F" stroke-width="1.15"/><text transform="translate(145.0,2148.5) rotate(-45)" font-size="11" text-anchor="end" fill="#000">2017-01</text><line x1="171.4" y1="2047.5" x2="171.4" y2="2051.5" stroke="#7F7F7F" stroke-width="1.15"/><text transform="translate(172.9,2148.5) rotate(-45)" font-size="11" text-anchor="end" fill="#000">2017-07</text><line x1="199.2" y1="2047.5" x2="199.2" y2="2051.5" stroke="#7F7F7F" stroke-width="1.15"/><text transform="translate(200.7,2148.5) rotate(-45)" font-size="11" text-anchor="end" fill="#000">2018-01</text><line x1="227.1" y1="2047.5" x2="227.1" y2="2051.5" stroke="#7F7F7F" stroke-width="1.15"/><text transform="translate(228.6,2148.5) rotate(-45)" font-size="11" text-anchor="end" fill="#000">2018-07</text><line x1="254.9" y1="2047.5" x2="254.9" y2="2051.5" stroke="#7F7F7F" stroke-width="1.15"/><text transform="translate(256.4,2148.5) rotate(-45)" font-size="11" text-anchor="end" fill="#000">2019-01</text><line x1="282.8" y1="2047.5" x2="282.8" y2="2051.5" stroke="#7F7F7F" stroke-width="1.15"/><text transform="translate(284.2,2148.5) rotate(-45)" font-size="11" text-anchor="end" fill="#000">2019-07</text><line x1="310.6" y1="2047.5" x2="310.6" y2="2051.5" stroke="#7F7F7F" stroke-width="1.15"/><text transform="translate(312.1,2148.5) rotate(-45)" font-size="11" text-anchor="end" fill="#000">2020-01</text><line x1="338.4" y1="2047.5" x2="338.4" y2="2051.5" stroke="#7F7F7F" stroke-width="1.15"/><text transform="translate(339.9,2148.5) rotate(-45)" font-size="11" text-anchor="end" fill="#000">2020-07</text><line x1="366.3" y1="2047.5" x2="366.3" y2="2051.5" stroke="#7F7F7F" stroke-width="1.15"/><text transform="translate(367.8,2148.5) rotate(-45)" font-size="11" text-anchor="end" fill="#000">2021-01</text><polyline points="87.8,2041.1 88.2,2038.4 88.7,2037.3 89.1,2032.6 89.6,2027.2 90.0,2030.5 90.4,2033.6 90.8,2031.8 91.3,2030.7 91.7,2034.0 92.1,2040.7 92.5,2040.5 93.0,2040.3 93.4,2046.7 93.8,2045.2 94.2,2043.7 94.7,2046.9 95.1,2044.6 95.5,2048.1 95.9,2048.5 96.4,2050.7 96.8,2052.9 97.2,2052.0 97.6,2056.7 98.1,2057.3 98.5,2062.0 99.0,2065.8 99.4,2057.9 99.8,2055.3 100.2,2058.0 100.6,2057.2 101.0,2059.2 101.4,2056.0 101.9,2048.7 102.3,2052.4 102.7,2054.6 103.1,2048.5 103.6,2046.8 104.0,2044.2 104.4,2048.4 104.9,2050.1 105.3,2049.1 105.7,2054.1 106.2,2054.7 106.6,2058.9 107.0,2055.0 107.4,2045.3 107.8,2048.0 108.3,2049.3 108.7,2045.6 109.1,2045.1 109.5,2039.5 109.9,2041.4 110.3,2039.9 110.8,2030.8 111.2,2038.0 111.6,2039.6 112.0,2037.9 112.5,2034.7 112.9,2036.8 113.3,2036.0 113.7,2033.0 114.2,2034.9 114.6,2033.1 115.0,2036.8 115.4,2036.3 115.8,2045.6 116.3,2047.3 116.7,2046.2 117.1,2041.5 117.6,2040.7 118.0,2042.9 118.5,2037.7 118.9,2041.5 119.3,2036.3 119.7,2032.0 120.1,2039.1 120.6,2040.8 121.0,2037.2 121.4,2039.6 121.8,2037.8 122.2,2030.1 122.6,2028.8 123.1,2030.5 123.5,2034.5 123.9,2036.7 124.3,2027.1 124.7,2024.9 125.2,2031.2 125.6,2026.7 126.0,2024.6 126.4,2027.7 126.9,2027.8 127.3,2029.6 127.7,2031.5 128.1,2026.4 128.6,2031.1 129.0,2034.6 129.4,2026.1 129.8,2030.4 130.3,2029.2 130.7,2024.0 131.1,2025.8 131.5,2024.7 131.9,2019.8 132.4,2019.0 132.8,2024.0 133.2,2021.0 133.6,2016.3 134.1,2014.4 134.5,2017.8 134.9,2015.8 135.3,2013.0 135.8,2011.9 136.2,2012.1 136.6,2011.4 137.0,2015.6 137.5,2013.9 137.9,2012.0 138.3,2008.6 138.7,2011.0 139.2,2015.9 139.6,2020.8 140.0,2017.4 140.4,2014.5 140.8,2013.9 141.2,2015.2 141.7,2014.6 142.1,2008.4 142.5,2012.5 142.9,2014.6 143.3,2012.0 143.7,2008.2 144.2,2010.3 144.6,2008.8 145.0,2009.3 145.5,2016.1 145.9,2014.1 146.3,2014.3 146.8,2011.9 147.2,2019.2 147.6,2013.1 148.1,2014.0 148.5,2015.6 148.9,2011.8 149.3,2007.3 149.7,2014.9 150.2,2021.9 150.6,2023.9 151.0,2022.7 151.4,2014.1 151.9,2013.7 152.3,2010.6 152.7,2010.3 153.1,2009.2 153.6,2006.8 154.0,2007.4 154.4,2014.5 154.8,2014.9 155.3,2015.4 155.7,2011.0 156.1,2011.8 156.5,2011.2 156.9,2015.4 157.4,2016.3 157.8,2017.2 158.2,2019.2 158.6,2012.8 159.1,2008.0 159.5,2008.6 159.9,2004.4 160.3,2008.3 160.8,2007.4 161.2,2004.3 161.6,2006.3 162.0,2002.0 162.5,2007.9 162.9,2009.6 163.3,2008.0 163.7,2012.0 164.2,2010.9 164.6,2009.3 165.0,2010.7 165.4,2009.4 165.8,2017.8 166.3,2015.5 166.7,2015.3 167.1,2024.9 167.5,2016.8 168.0,2021.6 168.4,2018.9 168.8,2021.3 169.2,2014.7 169.7,2012.0 170.1,2024.3 170.5,2018.1 170.9,2014.2 171.4,2018.2 171.8,2019.8 172.2,2017.0 172.6,2019.9 173.1,2018.3 173.5,2018.5 173.9,2022.7 174.3,2028.4 174.7,2031.5 175.2,2024.0 175.6,2025.1 176.0,2026.1 176.4,2025.3 176.9,2031.6 177.3,2033.1 177.7,2031.8 178.2,2034.2 178.6,2030.6 179.0,2033.4 179.5,2038.2 179.9,2035.6 180.3,2042.0 180.8,2040.4 181.4,2042.6 181.9,2044.7 182.3,2047.4 182.8,2046.9 183.2,2042.4 183.6,2039.6 184.1,2041.0 184.5,2033.7 184.9,2035.9 185.3,2028.6 185.8,2024.6 186.2,2028.7 186.6,2028.1 187.0,2024.3 187.5,2022.8 187.9,2027.6 188.3,2028.8 188.7,2027.8 189.2,2024.9 189.6,2023.0 190.0,2036.9 190.4,2038.0 190.8,2035.5 191.3,2030.2 191.7,2028.1 192.1,2028.8 192.5,2030.8 193.0,2034.2 193.4,2033.6 193.8,2032.1 194.2,2029.7 194.7,2032.0 195.1,2027.3 195.5,2026.6 195.9,2031.2 196.4,2033.5 196.8,2039.7 197.2,2038.9 197.6,2043.8 198.1,2037.1 198.5,2040.6 198.9,2044.9 199.3,2051.4 199.7,2046.5 200.2,2048.9 200.6,2055.4 201.0,2052.9 201.4,2050.3 201.9,2055.5 202.3,2057.2 202.7,2055.3 203.1,2057.5 203.6,2059.2 204.0,2057.4 204.4,2058.1 204.8,2057.8 205.3,2058.5 205.7,2062.0 206.1,2057.4 206.5,2056.9 206.9,2059.4 207.4,2063.0 207.8,2058.0 208.2,2057.3 208.6,2054.9 209.1,2058.4 209.5,2060.9 209.9,2060.1 210.3,2063.7 210.8,2057.1 211.2,2056.1 211.6,2062.1 212.0,2065.8 212.5,2059.6 212.9,2061.6 213.3,2060.8 213.7,2062.3 214.2,2064.5 214.6,2065.1 215.0,2062.7 215.4,2058.0 215.8,2063.1 216.3,2063.1 216.7,2059.5 217.1,2062.6 217.5,2059.4 218.0,2061.1 218.4,2058.7 218.8,2059.8 219.2,2058.7 219.7,2060.6 220.1,2056.6 220.5,2054.4 220.9,2051.5 221.4,2061.2 221.8,2055.3 222.2,2058.8 222.7,2059.6 223.1,2065.9 223.6,2065.6 224.0,2063.6 224.4,2063.3 224.8,2059.1 225.2,2044.7 225.6,2045.4 226.0,2044.3 226.4,2042.7 226.9,2042.9 227.3,2046.9 227.7,2043.0 228.1,2039.1 228.6,2034.8 229.0,2028.6 229.4,2026.3 229.8,2033.4 230.3,2027.4 230.7,2021.5 231.1,2018.4 231.5,2019.7 231.9,2017.2 232.3,2014.2 232.7,2013.1 233.2,2012.1 233.6,2019.1 234.0,2013.1 234.4,2012.2 234.8,2014.7 235.3,2010.8 235.7,2015.6 236.1,2016.5 236.5,2017.4 237.0,2014.0 237.4,2008.2 237.9,2003.9 238.3,2004.2 238.7,2004.4 239.1,2014.1 239.5,2009.9 240.0,2010.8 240.4,2010.1 240.8,2018.9 241.2,2016.6 241.6,2016.6 242.0,2009.2 242.5,2012.2 242.9,2015.1 243.3,2019.2 243.7,2016.7 244.2,2017.2 244.6,2019.9 245.0,2021.1 245.4,2020.4 245.8,2019.5 246.3,2024.6 246.7,2021.6 247.1,2020.3 247.5,2025.7 248.0,2020.3 248.4,2024.0 248.8,2027.7 249.2,2025.7 249.7,2020.5 250.1,2018.5 250.5,2021.8 250.9,2022.8 251.4,2024.2 251.8,2014.9 252.2,2016.0 252.6,2013.2 253.1,2017.6 253.5,2016.3 253.9,2014.7 254.3,2018.6 254.7,2019.5 255.2,2017.4 255.6,2019.6 256.0,2013.2 256.4,2019.5 256.9,2028.4 257.3,2026.8 257.7,2023.2 258.1,2022.1 258.6,2027.3 259.0,2028.7 259.4,2025.3 259.8,2033.7 260.3,2026.9 260.7,2026.5 261.1,2028.9 261.5,2032.5 261.9,2033.2 262.4,2034.5 262.8,2034.4 263.2,2035.7 263.6,2044.1 264.1,2042.4 264.5,2046.3 264.9,2045.1 265.3,2047.8 265.8,2052.4 266.2,2042.8 266.6,2041.7 267.0,2035.4 267.5,2034.3 267.9,2037.3 268.3,2037.0 268.7,2043.3 269.2,2040.4 269.6,2042.6 270.0,2041.6 270.4,2042.3 270.8,2048.2 271.3,2048.6 271.7,2053.2 272.1,2047.1 272.5,2051.1 272.9,2052.0 273.3,2046.2 273.7,2057.9 274.2,2055.0 274.6,2049.1 275.0,2046.1 275.5,2037.4 275.9,2040.2 276.3,2028.2 276.8,2024.3 277.2,2021.4 277.6,2020.3 278.1,2020.6 278.5,2026.5 278.9,2032.7 279.3,2031.9 279.7,2027.9 280.2,2019.0 280.6,2025.0 281.0,2023.3 281.4,2028.0 281.9,2031.3 282.3,2028.4 282.7,2027.3 283.1,2029.7 283.6,2031.0 284.0,2034.7 284.4,2029.4 284.8,2030.8 285.2,2034.0 285.7,2031.1 286.1,2027.1 286.5,2028.1 286.9,2028.5 287.3,2018.4 287.7,2027.3 288.1,2023.4 288.6,2022.5 289.0,2012.2 289.4,2017.8 289.9,2016.1 290.3,2009.6 290.8,2010.0 291.2,2010.4 291.6,2003.1 292.0,2005.4 292.5,2000.9 292.9,2002.3 293.3,2005.1 293.7,2006.1 294.2,2000.3 294.6,2001.9 295.0,2002.3 295.4,2009.6 295.8,2005.1 296.3,2011.1 296.7,2007.1 297.1,2004.6 297.5,2005.3 298.0,2006.6 298.4,2013.9 298.8,2015.1 299.2,2007.9 299.7,2013.3 300.1,2015.7 300.5,2019.0 300.9,2018.5 301.4,2015.3 301.8,2018.6 302.2,2017.4 302.6,2019.0 303.1,2019.8 303.5,2012.5 303.9,2015.0 304.3,2010.3 304.7,2017.4 305.2,2017.3 305.6,2021.5 306.0,2024.6 306.4,2025.6 306.9,2017.6 307.3,2026.1 307.7,2021.2 308.1,2023.4 308.6,2024.0 309.0,2025.1 309.4,2023.2 309.8,2027.8 310.3,2023.6 310.7,2028.5 311.1,2028.9 311.5,2025.3 311.9,2031.0 312.3,2025.3 312.7,2028.2 313.1,2025.0 313.6,2030.0 314.0,2030.6 314.4,2028.3 314.8,2021.3 315.3,2020.1 315.7,2018.5 316.1,2015.3 316.5,2013.5 317.0,2014.1 317.4,2019.0 317.8,2020.1 318.3,2027.6 318.7,2021.8 319.2,2027.6 319.6,2022.5 320.0,2021.4 320.4,2024.6 320.8,2027.7 321.3,2023.7 321.7,2024.4 322.1,2023.1 322.5,2018.6 323.0,2015.8 323.4,2007.7 323.8,2002.9 324.2,2004.3 324.7,2004.3 325.1,2005.9 325.5,2008.9 325.9,2007.8 326.4,2012.7 326.8,2009.1 327.2,2013.8 327.6,2011.7 328.1,2010.9 328.5,2008.4 328.9,2005.0 329.3,2000.6 329.7,2000.6 330.2,1998.7 330.6,1989.7 331.0,1995.3 331.4,2001.3 331.9,2006.2 332.3,2000.8 332.7,2003.6 333.1,2001.8 333.6,2007.6 334.0,2005.3 334.4,2010.5 334.8,2012.3 335.3,2009.9 335.7,2007.7 336.1,2005.8 336.5,2007.3 336.9,2016.4 337.4,2017.5 337.8,2018.4 338.2,2018.1 338.6,2009.5 339.1,2015.2 339.5,2024.8 339.9,2020.7 340.3,2022.1 340.8,2022.4 341.2,2023.7 341.6,2027.4 342.0,2021.3 342.5,2020.6 342.9,2027.6 343.3,2027.2 343.7,2025.8 344.2,2031.0 344.6,2029.5 345.0,2028.3 345.4,2031.9 345.8,2032.4 346.3,2030.2 346.7,2027.3 347.1,2033.8 347.5,2036.3 348.0,2032.7 348.4,2034.2 348.8,2033.1 349.2,2039.0 349.7,2038.5 350.1,2041.6 350.5,2042.9 350.9,2044.6 351.4,2042.5 351.8,2044.8 352.2,2043.0 352.6,2042.5 353.1,2047.2 353.5,2052.2 353.9,2045.1 354.3,2046.0 354.7,2043.7 355.2,2042.0 355.6,2036.0 356.0,2042.5 356.4,2041.0 356.9,2038.8 357.3,2042.4 357.7,2046.2 358.1,2046.9 358.6,2050.7 359.0,2059.4 359.4,2056.9 359.8,2055.7 360.3,2057.7 360.7,2056.8 361.1,2063.7 361.5,2056.6 361.9,2055.7 362.4,2054.4 362.8,2052.3 363.2,2050.5 363.6,2056.0 364.1,2059.4 364.5,2069.4 364.9,2060.3 365.3,2059.5 365.8,2058.4 366.2,2058.2 366.6,2065.2 367.0,2059.4 367.5,2064.4 367.9,2066.9 368.3,2063.9 368.7,2062.7 369.2,2066.9 369.6,2068.6 370.0,2059.6 370.4,2063.3 370.8,2066.8 371.3,2064.4 371.7,2067.5 372.1,2065.7 372.5,2069.0 373.0,2067.6 373.4,2062.4 373.8,2065.7 374.2,2066.7 374.7,2065.6 375.1,2064.5 375.5,2066.9 375.9,2069.7 376.4,2070.4 376.8,2073.9 377.2,2067.8 377.6,2066.9 378.0,2061.4 378.4,2055.5 378.8,2062.6 379.2,2064.2 379.7,2055.8 380.1,2055.4 380.5,2057.9 381.0,2056.1 381.4,2057.9 381.8,2062.5 382.3,2065.0 382.7,2063.5 383.1,2065.9 383.6,2073.2 384.0,2070.2 384.4,2063.5 384.8,2070.3 385.3,2070.8 385.7,2078.0 386.1,2072.6 386.5,2072.0 386.9,2067.8 387.4,2071.5 387.8,2076.9 388.2,2073.5 388.6,2076.3 389.0,2071.5 389.4,2069.2 389.8,2070.3 390.3,2071.2 390.7,2069.2 391.1,2068.2 391.5,2071.6 391.9,2072.1 392.4,2067.1 392.8,2077.0 393.3,2071.9 393.7,2076.2 394.2,2067.9" fill="none" stroke="#44546A" stroke-width="2.0" stroke-linejoin="round" stroke-linecap="butt" /><polyline points="87.8,2029.2 88.2,2030.5 88.7,2024.2 89.1,2022.4 89.6,2019.2 90.0,2020.0 90.4,2020.2 90.8,2021.9 91.3,2024.2 91.7,2024.7 92.1,2024.0 92.5,2023.7 93.0,2023.1 93.4,2027.1 93.8,2024.2 94.2,2025.5 94.7,2030.8 95.1,2024.7 95.5,2026.4 95.9,2028.3 96.4,2033.6 96.8,2028.9 97.2,2027.2 97.6,2032.6 98.1,2038.3 98.5,2032.1 98.9,2035.1 99.3,2038.1 99.7,2038.5 100.2,2035.7 100.6,2036.5 101.0,2037.5 101.4,2037.1 101.9,2035.0 102.3,2037.6 102.7,2039.7 103.1,2041.0 103.6,2039.7 104.0,2043.3 104.4,2042.1 104.9,2039.7 105.3,2039.3 105.7,2034.4 106.2,2038.2 106.6,2034.8 107.0,2037.0 107.4,2037.1 107.8,2041.1 108.3,2037.7 108.7,2037.8 109.1,2035.6 109.5,2031.3 109.9,2035.4 110.3,2034.1 110.8,2034.0 111.2,2032.8 111.6,2029.1 112.0,2031.6 112.5,2033.2 112.9,2033.9 113.3,2030.6 113.7,2025.2 114.2,2024.4 114.6,2026.1 115.0,2023.2 115.4,2023.9 115.8,2016.5 116.3,2017.6 116.7,2023.2 117.1,2023.6 117.6,2023.2 118.0,2019.1 118.5,2018.9 118.9,2019.8 119.3,2020.8 119.7,2022.0 120.1,2025.1 120.6,2025.8 121.0,2025.0 121.4,2027.5 121.8,2025.4 122.2,2022.2 122.6,2022.7 123.1,2020.2 123.5,2019.5 123.9,2018.8 124.3,2019.4 124.7,2018.7 125.2,2020.7 125.6,2019.0 126.0,2019.2 126.4,2018.8 126.9,2020.5 127.3,2012.1 127.7,2017.2 128.1,2017.4 128.6,2014.6 129.0,2019.7 129.4,2020.5 129.8,2020.5 130.3,2017.2 130.7,2015.7 131.1,2014.1 131.5,2016.2 131.9,2016.5 132.4,2016.0 132.8,2009.5 133.2,2008.7 133.6,2005.2 134.1,2005.8 134.5,2004.7 134.9,2003.5 135.3,2002.6 135.8,2002.9 136.2,1999.3 136.6,1998.2 137.0,2000.3 137.5,1996.4 137.9,1994.8 138.3,1997.1 138.7,1996.6 139.2,2000.2 139.6,1996.2 140.0,1998.5 140.4,1997.0 140.8,1996.7 141.2,1997.4 141.7,1999.6 142.1,1998.8 142.5,1998.4 142.9,1997.5 143.3,1993.5 143.7,1995.1 144.2,1994.4 144.6,2000.0 145.0,1999.8 145.5,2000.8 145.9,1999.0 146.3,1999.1 146.8,2006.9 147.2,2001.0 147.6,2007.1 148.1,2004.2 148.5,2001.8 148.9,2000.2 149.3,1999.1 149.7,1998.1 150.2,1998.8 150.6,1997.6 151.0,2003.2 151.4,1998.9 151.9,1998.8 152.3,2001.6 152.7,1998.9 153.1,1999.8 153.6,2001.6 154.0,2004.9 154.4,2005.2 154.8,2001.3 155.3,2002.6 155.7,1998.0 156.1,2001.6 156.5,2006.0 156.9,2000.0 157.4,2003.3 157.8,2004.4 158.2,2006.4 158.6,2000.2 159.1,2003.0 159.5,2006.7 159.9,2005.9 160.3,2003.6 160.8,2000.6 161.2,1999.4 161.6,2001.8 162.0,1999.9 162.5,2002.1 162.9,2003.2 163.3,2000.7 163.7,2005.2 164.2,2002.4 164.6,2001.3 165.0,2002.9 165.4,2004.2 165.8,2005.9 166.3,2004.6 166.7,2006.0 167.1,2007.7 167.5,2005.2 168.0,2006.5 168.4,2005.7 168.8,2003.7 169.2,2002.6 169.7,2011.3 170.1,2005.1 170.5,2006.0 170.9,2006.4 171.4,2010.3 171.8,2010.8 172.2,2009.3 172.6,2011.8 173.1,2010.4 173.5,2013.2 173.9,2012.0 174.3,2013.5 174.7,2009.7 175.2,2011.6 175.6,2013.7 176.0,2006.1 176.4,2011.5 176.9,2017.8 177.3,2013.9 177.7,2019.1 178.1,2020.4 178.6,2019.6 179.0,2025.9 179.4,2023.1 179.8,2024.4 180.3,2028.6 180.7,2029.9 181.1,2028.5 181.5,2028.5 181.9,2035.3 182.4,2033.9 182.8,2032.6 183.2,2030.8 183.6,2028.6 184.1,2028.2 184.5,2024.6 184.9,2027.3 185.3,2020.7 185.8,2022.0 186.2,2025.2 186.6,2022.9 187.0,2023.3 187.5,2024.3 187.9,2021.2 188.3,2022.0 188.7,2026.1 189.2,2024.6 189.6,2024.2 190.0,2032.8 190.4,2028.5 190.8,2025.8 191.3,2020.0 191.7,2018.1 192.1,2021.9 192.5,2025.5 193.0,2024.4 193.4,2022.6 193.8,2025.4 194.2,2024.9 194.7,2024.3 195.1,2021.4 195.5,2024.8 195.9,2023.2 196.4,2024.3 196.8,2022.5 197.2,2030.3 197.6,2029.0 198.1,2028.5 198.5,2029.5 198.9,2030.8 199.3,2033.6 199.7,2037.6 200.2,2039.1 200.6,2041.7 201.0,2040.0 201.4,2040.5 201.9,2046.6 202.3,2047.9 202.7,2040.9 203.1,2047.4 203.6,2048.9 204.0,2049.8 204.4,2052.0 204.8,2051.8 205.3,2051.0 205.7,2051.4 206.1,2053.7 206.5,2048.9 206.9,2054.4 207.4,2053.5 207.8,2053.2 208.2,2053.1 208.6,2049.7 209.1,2046.9 209.5,2052.4 209.9,2053.8 210.3,2050.3 210.8,2050.4 211.2,2047.7 211.6,2049.0 212.0,2052.7 212.5,2053.0 212.9,2056.0 213.3,2056.4 213.7,2050.7 214.2,2050.1 214.6,2050.3 215.0,2052.4 215.4,2052.5 215.8,2051.7 216.3,2051.1 216.7,2047.6 217.1,2050.6 217.5,2054.7 218.0,2051.3 218.4,2054.9 218.8,2052.7 219.2,2051.8 219.7,2051.8 220.1,2053.5 220.5,2054.0 220.9,2052.7 221.4,2046.8 221.8,2044.4 222.2,2051.6 222.6,2052.4 223.1,2051.2 223.5,2048.5 223.9,2048.8 224.3,2044.1 224.7,2047.8 225.2,2047.5 225.6,2047.4 226.0,2041.6 226.4,2036.9 226.9,2034.9 227.3,2033.4 227.7,2031.9 228.1,2031.6 228.6,2026.1 229.0,2023.9 229.4,2021.6 229.8,2015.1 230.3,2014.1 230.7,2011.5 231.4,2010.2 231.9,2008.2 232.3,2007.7 232.7,2009.1 233.1,2009.0 233.6,2008.6 234.0,2010.3 234.4,2008.3 234.8,2008.1 235.3,2007.0 235.7,2003.8 236.1,2005.2 236.5,2003.1 236.9,2002.6 237.4,2003.1 237.8,2006.8 238.2,2007.0 238.6,2003.1 239.1,2003.2 239.5,2001.5 239.9,2001.2 240.3,2002.0 240.8,2004.8 241.2,2004.3 241.6,1998.0 242.0,1998.6 242.5,1997.0 242.9,1994.7 243.3,1994.5 243.7,1992.2 244.2,1992.9 244.6,1992.0 245.0,1995.3 245.4,1999.0 245.8,1992.4 246.3,1998.7 246.7,1999.2 247.1,1997.2 247.5,1997.9 248.0,2000.5 248.4,2000.5 248.8,2002.2 249.2,2000.4 249.7,1998.5 250.1,2002.4 250.5,2002.2 250.9,2007.2 251.4,2006.2 251.8,2008.8 252.2,2009.2 252.6,2011.8 253.1,2006.1 253.5,2011.1 253.9,2008.6 254.3,2014.4 254.7,2011.0 255.2,2006.5 255.6,2002.9 256.0,2014.1 256.4,2012.6 256.9,2013.4 257.3,2013.9 257.7,2014.0 258.1,2014.6 258.6,2014.9 259.0,2018.9 259.4,2012.9 259.8,2017.5 260.3,2018.3 260.7,2021.0 261.1,2019.2 261.5,2023.1 261.9,2023.4 262.4,2022.9 262.8,2022.9 263.2,2018.8 263.6,2023.2 264.1,2019.5 264.5,2022.6 264.9,2013.4 265.3,2022.0 265.8,2022.4 266.2,2023.2 266.6,2021.7 267.0,2019.5 267.5,2021.9 267.9,2020.4 268.3,2024.9 268.7,2027.1 269.2,2028.2 269.6,2031.1 270.0,2034.9 270.4,2042.4 270.8,2041.6 271.3,2039.6 271.7,2037.1 272.2,2038.9 272.6,2040.5 273.0,2040.0 273.5,2036.2 273.9,2032.4 274.3,2035.4 274.7,2035.1 275.1,2033.2 275.6,2029.1 276.0,2024.9 276.4,2024.1 276.8,2025.1 277.2,2024.8 277.6,2028.3 278.1,2026.7 278.5,2019.6 278.9,2019.9 279.3,2023.0 279.7,2023.4 280.2,2022.7 280.6,2021.9 281.0,2026.3 281.4,2022.7 281.9,2026.2 282.3,2024.7 282.7,2027.6 283.1,2025.8 283.6,2026.6 284.0,2023.1 284.4,2022.7 284.8,2023.5 285.2,2022.5 285.7,2020.0 286.1,2022.2 286.5,2017.8 286.9,2024.0 287.3,2019.4 287.7,2019.2 288.1,2014.4 288.6,2016.0 289.0,2017.4 289.4,2013.9 289.9,2014.6 290.3,2009.7 290.8,2012.8 291.2,2012.6 291.6,2009.8 292.0,2006.8 292.5,2005.0 292.9,2006.3 293.3,2006.0 293.7,2006.6 294.2,2004.3 294.6,2005.8 295.0,2004.9 295.4,2006.9 295.8,2006.4 296.3,2004.3 296.7,2004.6 297.1,2006.4 297.5,2006.9 298.0,2001.8 298.4,2002.5 298.8,2004.3 299.2,2004.4 299.7,2004.5 300.1,2003.4 300.5,2007.7 300.9,2007.4 301.4,2008.1 301.8,2010.6 302.2,2010.4 302.6,2009.0 303.1,2009.4 303.5,2010.6 303.9,2010.6 304.3,2012.2 304.7,2007.5 305.2,2011.2 305.6,2013.6 306.0,2013.3 306.4,2012.6 306.9,2007.2 307.3,2010.9 307.7,2011.2 308.1,2008.6 308.6,2012.8 309.0,2009.4 309.4,2010.5 309.8,2010.8 310.3,2019.8 310.7,2014.0 311.1,2013.6 311.5,2021.3 311.9,2023.5 312.4,2022.4 312.8,2021.0 313.2,2019.8 313.6,2020.3 314.1,2023.9 314.5,2022.9 314.9,2021.9 315.3,2017.8 315.8,2017.9 316.2,2015.2 316.6,2018.0 317.0,2014.3 317.5,2013.9 317.9,2009.2 318.3,2011.5 318.7,2013.1 319.2,2014.2 319.6,2013.9 320.0,2012.1 320.4,2009.0 320.8,2011.1 321.3,2016.9 321.7,2007.0 322.1,2008.9 322.6,2012.3 323.0,2007.5 323.4,2008.0 323.9,2007.8 324.3,2000.0 324.7,2000.0 325.2,2003.4 325.6,2000.4 326.0,2001.6 326.4,1998.9 326.8,1998.1 327.2,2000.0 327.6,2001.3 328.1,2000.8 328.5,1999.6 328.9,1998.9 329.3,2005.8 329.7,2001.4 330.1,1996.6 330.5,1996.5 330.9,1997.1 331.4,1995.6 331.8,2000.9 332.2,2001.3 332.7,2001.8 333.1,2003.9 333.5,2000.0 334.0,2001.4 334.4,2002.2 334.8,2001.3 335.3,2002.1 335.7,2006.0 336.1,2001.9 336.5,2003.4 336.9,2005.2 337.4,2002.9 337.8,2004.1 338.2,2003.9 338.6,2002.1 339.1,2005.5 339.5,2010.0 339.9,2009.7 340.3,2011.3 340.8,2010.4 341.2,2009.0 341.6,2015.0 342.0,2012.3 342.5,2014.1 342.9,2012.8 343.3,2015.9 343.7,2017.9 344.2,2013.7 344.6,2020.0 345.0,2020.0 345.4,2019.0 345.8,2018.7 346.3,2019.2 346.7,2020.4 347.1,2022.4 347.5,2025.0 348.0,2021.6 348.4,2022.6 348.8,2029.7 349.2,2024.7 349.7,2026.7 350.1,2028.8 350.5,2029.2 350.9,2030.1 351.4,2033.9 351.8,2035.4 352.2,2027.1 352.6,2030.9 353.1,2032.7 353.5,2034.7 353.9,2034.9 354.3,2035.1 354.7,2033.4 355.2,2034.9 355.6,2038.2 356.0,2039.6 356.4,2045.0 356.9,2038.1 357.3,2038.4 357.7,2044.0 358.1,2045.7 358.6,2042.8 359.0,2044.9 359.4,2047.6 359.8,2047.0 360.3,2049.4 360.7,2047.6 361.1,2050.1 361.5,2053.7 361.9,2051.9 362.4,2052.4 362.8,2053.1 363.2,2047.2 363.6,2048.9 364.1,2052.7 364.5,2054.9 364.9,2050.1 365.3,2050.3 365.8,2052.7 366.2,2053.1 366.6,2052.5 367.0,2052.7 367.5,2054.9 367.9,2055.7 368.3,2064.3 368.7,2061.3 369.2,2059.2 369.6,2057.4 370.0,2055.7 370.4,2056.5 370.8,2060.7 371.3,2060.8 371.7,2060.4 372.1,2061.6 372.5,2061.0 373.0,2060.5 373.4,2055.9 373.8,2058.6 374.2,2056.2 374.7,2060.8 375.1,2059.7 375.5,2058.3 375.9,2060.9 376.4,2060.7 376.8,2058.2 377.2,2056.9 377.6,2054.5 378.0,2055.2 378.4,2052.8 378.8,2054.5 379.2,2051.5 379.7,2050.3 380.1,2051.6 380.5,2057.3 381.0,2054.7 381.4,2055.9 381.8,2058.2 382.3,2057.7 382.7,2052.9 383.1,2060.4 383.6,2061.7 384.0,2059.1 384.4,2055.1 384.8,2056.3 385.3,2061.7 385.7,2064.5 386.1,2064.2 386.5,2059.8 386.9,2060.9 387.4,2066.1 387.8,2066.1 388.2,2063.9 388.6,2066.0 389.0,2066.3 389.4,2069.9 389.8,2066.8 390.3,2064.7 390.7,2064.3 391.1,2067.8 391.5,2069.4 391.9,2066.0 392.4,2065.0 392.8,2060.4 393.3,2061.6 393.7,2058.5 394.2,2060.3" fill="none" stroke="#FF0000" stroke-width="2.2" stroke-linejoin="round" stroke-linecap="butt" /><line x1="87.8" y1="1984.7" x2="87.8" y2="2131.5" stroke="#7F7F7F" stroke-width="1.15"/><line x1="83.8" y1="1984.7" x2="87.8" y2="1984.7" stroke="#7F7F7F" stroke-width="1.15"/><text x="80.8" y="1988.5" font-size="10.8" text-anchor="end" fill="#000" textLength="25.9" lengthAdjust="spacing" >1,500</text><line x1="83.8" y1="2005.7" x2="87.8" y2="2005.7" stroke="#7F7F7F" stroke-width="1.15"/><text x="80.8" y="2009.5" font-size="10.8" text-anchor="end" fill="#000" textLength="25.9" lengthAdjust="spacing" >1,000</text><line x1="83.8" y1="2026.6" x2="87.8" y2="2026.6" stroke="#7F7F7F" stroke-width="1.15"/><text x="80.8" y="2030.4" font-size="10.8" text-anchor="end" fill="#000" textLength="15.3" lengthAdjust="spacingAndGlyphs" >500</text><line x1="83.8" y1="2047.6" x2="87.8" y2="2047.6" stroke="#7F7F7F" stroke-width="1.15"/><text x="80.8" y="2051.4" font-size="10.8" text-anchor="end" fill="#000" ><tspan dx="-0.08">0</tspan></text><line x1="83.8" y1="2068.6" x2="87.8" y2="2068.6" stroke="#7F7F7F" stroke-width="1.15"/><text x="80.8" y="2072.4" font-size="10.8" text-anchor="end" fill="#FF0000" textLength="20.6" lengthAdjust="spacing" >-500</text><line x1="83.8" y1="2089.6" x2="87.8" y2="2089.6" stroke="#7F7F7F" stroke-width="1.15"/><text x="80.8" y="2093.4" font-size="10.8" text-anchor="end" fill="#FF0000" textLength="31.1" lengthAdjust="spacing" >-1,000</text><line x1="83.8" y1="2110.5" x2="87.8" y2="2110.5" stroke="#7F7F7F" stroke-width="1.15"/><text x="80.8" y="2114.3" font-size="10.8" text-anchor="end" fill="#FF0000" textLength="31.1" lengthAdjust="spacing" >-1,500</text><line x1="83.8" y1="2131.5" x2="87.8" y2="2131.5" stroke="#7F7F7F" stroke-width="1.15"/><text x="80.8" y="2135.3" font-size="10.8" text-anchor="end" fill="#FF0000" textLength="31.1" lengthAdjust="spacing" >-2,000</text><line x1="394.2" y1="1984.7" x2="394.2" y2="2131.5" stroke="#7F7F7F" stroke-width="1.15"/><line x1="394.2" y1="1984.7" x2="398.2" y2="1984.7" stroke="#7F7F7F" stroke-width="1.15"/><text x="401.2" y="1988.5" font-size="10.8" text-anchor="start" fill="#000" textLength="20.6" lengthAdjust="spacing" >8.40</text><line x1="394.2" y1="1999.4" x2="398.2" y2="1999.4" stroke="#7F7F7F" stroke-width="1.15"/><text x="401.2" y="2003.2" font-size="10.8" text-anchor="start" fill="#000" textLength="20.6" lengthAdjust="spacing" >8.20</text><line x1="394.2" y1="2014.1" x2="398.2" y2="2014.1" stroke="#7F7F7F" stroke-width="1.15"/><text x="401.2" y="2017.9" font-size="10.8" text-anchor="start" fill="#000" textLength="20.6" lengthAdjust="spacing" >8.00</text><line x1="394.2" y1="2028.7" x2="398.2" y2="2028.7" stroke="#7F7F7F" stroke-width="1.15"/><text x="401.2" y="2032.5" font-size="10.8" text-anchor="start" fill="#000" textLength="20.6" lengthAdjust="spacing" >7.80</text><line x1="394.2" y1="2043.4" x2="398.2" y2="2043.4" stroke="#7F7F7F" stroke-width="1.15"/><text x="401.2" y="2047.2" font-size="10.8" text-anchor="start" fill="#000" textLength="20.6" lengthAdjust="spacing" >7.60</text><line x1="394.2" y1="2058.1" x2="398.2" y2="2058.1" stroke="#7F7F7F" stroke-width="1.15"/><text x="401.2" y="2061.9" font-size="10.8" text-anchor="start" fill="#000" textLength="20.6" lengthAdjust="spacing" >7.40</text><line x1="394.2" y1="2072.8" x2="398.2" y2="2072.8" stroke="#7F7F7F" stroke-width="1.15"/><text x="401.2" y="2076.6" font-size="10.8" text-anchor="start" fill="#000" textLength="20.6" lengthAdjust="spacing" >7.20</text><line x1="394.2" y1="2087.5" x2="398.2" y2="2087.5" stroke="#7F7F7F" stroke-width="1.15"/><text x="401.2" y="2091.3" font-size="10.8" text-anchor="start" fill="#000" textLength="20.6" lengthAdjust="spacing" >7.00</text><line x1="394.2" y1="2102.1" x2="398.2" y2="2102.1" stroke="#7F7F7F" stroke-width="1.15"/><text x="401.2" y="2105.9" font-size="10.8" text-anchor="start" fill="#000" textLength="20.6" lengthAdjust="spacing" >6.80</text><line x1="394.2" y1="2116.8" x2="398.2" y2="2116.8" stroke="#7F7F7F" stroke-width="1.15"/><text x="401.2" y="2120.6" font-size="10.8" text-anchor="start" fill="#000" textLength="20.6" lengthAdjust="spacing" >6.60</text><line x1="394.2" y1="2131.5" x2="398.2" y2="2131.5" stroke="#7F7F7F" stroke-width="1.15"/><text x="401.2" y="2135.3" font-size="10.8" text-anchor="start" fill="#000" textLength="20.6" lengthAdjust="spacing" >6.40</text><rect x="65.4" y="1984" width="30.5" height="6.4" fill="#BFBFBF"/><text x="99.7" y="1990.8" font-size="10.5" text-anchor="start" fill="#000" >现货进口盈亏</text><line x1="166.4" y1="1987.0" x2="197.6" y2="1987.0" stroke="#44546A" stroke-width="2.2"/><text x="200.7" y="1990.8" font-size="10.5" text-anchor="start" fill="#000" >沪伦现货比价：右轴</text><line x1="298.8" y1="1987.0" x2="329.8" y2="1987.0" stroke="#FF0000" stroke-width="2.2"/><text x="333.7" y="1990.8" font-size="10.5" text-anchor="start" fill="#000" >进口比价：右轴</text></svg>
<svg class="chart" style="left:33px;top:2271px" width="397" height="215" viewBox="33 2271 397 215"><rect x="33" y="2271" width="397" height="215" fill="#fff"/><line x1="77.6" y1="2456.4" x2="397.2" y2="2456.4" stroke="#7F7F7F" stroke-width="1.15"/><line x1="77.6" y1="2456.4" x2="77.6" y2="2460.4" stroke="#7F7F7F" stroke-width="1.15"/><text x="77.6" y="2472.8" font-size="10.2" text-anchor="middle" fill="#000" ><tspan textLength="10.0" lengthAdjust="spacingAndGlyphs">01</tspan>月</text><line x1="104.3" y1="2456.4" x2="104.3" y2="2460.4" stroke="#7F7F7F" stroke-width="1.15"/><text x="104.3" y="2472.8" font-size="10.2" text-anchor="middle" fill="#000" ><tspan textLength="10.0" lengthAdjust="spacingAndGlyphs">02</tspan>月</text><line x1="129.2" y1="2456.4" x2="129.2" y2="2460.4" stroke="#7F7F7F" stroke-width="1.15"/><text x="129.2" y="2472.8" font-size="10.2" text-anchor="middle" fill="#000" ><tspan textLength="10.0" lengthAdjust="spacingAndGlyphs">03</tspan>月</text><line x1="153.9" y1="2456.4" x2="153.9" y2="2460.4" stroke="#7F7F7F" stroke-width="1.15"/><text x="153.9" y="2472.8" font-size="10.2" text-anchor="middle" fill="#000" ><tspan textLength="10.0" lengthAdjust="spacingAndGlyphs">04</tspan>月</text><line x1="180.3" y1="2456.4" x2="180.3" y2="2460.4" stroke="#7F7F7F" stroke-width="1.15"/><text x="180.3" y="2472.8" font-size="10.2" text-anchor="middle" fill="#000" ><tspan textLength="10.0" lengthAdjust="spacingAndGlyphs">05</tspan>月</text><line x1="206.5" y1="2456.4" x2="206.5" y2="2460.4" stroke="#7F7F7F" stroke-width="1.15"/><text x="206.5" y="2472.8" font-size="10.2" text-anchor="middle" fill="#000" ><tspan textLength="10.0" lengthAdjust="spacingAndGlyphs">06</tspan>月</text><line x1="234.0" y1="2456.4" x2="234.0" y2="2460.4" stroke="#7F7F7F" stroke-width="1.15"/><text x="234.0" y="2472.8" font-size="10.2" text-anchor="middle" fill="#000" ><tspan textLength="10.0" lengthAdjust="spacingAndGlyphs">07</tspan>月</text><line x1="260.2" y1="2456.4" x2="260.2" y2="2460.4" stroke="#7F7F7F" stroke-width="1.15"/><text x="260.2" y="2472.8" font-size="10.2" text-anchor="middle" fill="#000" ><tspan textLength="10.0" lengthAdjust="spacingAndGlyphs">08</tspan>月</text><line x1="287.6" y1="2456.4" x2="287.6" y2="2460.4" stroke="#7F7F7F" stroke-width="1.15"/><text x="287.6" y="2472.8" font-size="10.2" text-anchor="middle" fill="#000" ><tspan textLength="10.0" lengthAdjust="spacingAndGlyphs">09</tspan>月</text><line x1="314.6" y1="2456.4" x2="314.6" y2="2460.4" stroke="#7F7F7F" stroke-width="1.15"/><text x="314.6" y="2472.8" font-size="10.2" text-anchor="middle" fill="#000" ><tspan textLength="10.0" lengthAdjust="spacingAndGlyphs">10</tspan>月</text><line x1="340.8" y1="2456.4" x2="340.8" y2="2460.4" stroke="#7F7F7F" stroke-width="1.15"/><text x="340.8" y="2472.8" font-size="10.2" text-anchor="middle" fill="#000" ><tspan textLength="10.0" lengthAdjust="spacingAndGlyphs">11</tspan>月</text><line x1="367.7" y1="2456.4" x2="367.7" y2="2460.4" stroke="#7F7F7F" stroke-width="1.15"/><text x="367.7" y="2472.8" font-size="10.2" text-anchor="middle" fill="#000" ><tspan textLength="10.0" lengthAdjust="spacingAndGlyphs">12</tspan>月</text><line x1="394.2" y1="2456.4" x2="394.2" y2="2460.4" stroke="#7F7F7F" stroke-width="1.15"/><polyline points="80.7,2393.3 83.7,2397.1 89.6,2408.1 95.9,2408.1 102.3,2400.9 108.6,2394.1 115.0,2389.5 120.1,2385.7 126.4,2391.5 131.5,2389.0 137.9,2380.6 144.2,2378.1 150.6,2378.8 156.9,2379.3 162.5,2377.3 168.4,2386.9 174.7,2382.6 180.3,2383.9 186.2,2376.3 192.5,2376.3 198.9,2378.8 205.3,2381.4 211.6,2386.9 215.4,2384.9 221.8,2389.5 229.4,2395.1 235.8,2395.8 241.6,2389.5 248.0,2382.6 254.3,2381.9 260.7,2381.9 267.0,2384.4 273.4,2387.7 279.0,2389.0 284.8,2383.9 291.2,2381.9 297.5,2382.6 302.6,2384.4 309.0,2385.7 315.3,2389.0 321.7,2387.5 328.1,2386.2 333.9,2389.5 340.0,2397.6 345.8,2397.6 352.2,2400.9 358.6,2401.4 364.9,2402.7 371.3,2404.7 376.9,2409.1 382.7,2394.6 389.1,2392.0 394.9,2393.3" fill="none" stroke="#A5A5A5" stroke-width="2.2" stroke-linejoin="round" stroke-linecap="butt" /><polyline points="80.7,2393.3 88.3,2394.1 94.7,2394.6 101.0,2389.5 106.6,2384.9 113.7,2374.2 120.1,2369.2 123.9,2369.2 131.0,2365.3 137.1,2345.0 143.0,2338.1 149.3,2341.2 155.7,2339.2 162.0,2348.3 168.4,2351.9 174.7,2355.2 179.8,2358.5 186.2,2348.8 192.0,2355.4 197.6,2356.4 204.0,2359.0 210.3,2359.0 216.7,2366.1 223.1,2371.7 229.4,2374.7 235.3,2376.3 241.6,2367.9 248.0,2367.9 254.3,2370.7 260.7,2371.7 265.8,2371.7 272.1,2373.7 278.5,2376.8 284.8,2383.1 291.2,2383.1 296.3,2384.4 301.9,2372.5 307.7,2375.5 314.6,2381.9 321.7,2381.9 328.1,2381.9 333.1,2381.9 339.5,2385.7 345.8,2385.9 352.2,2385.7 358.6,2387.5 364.9,2391.5 370.0,2395.1 376.4,2395.1 381.4,2396.6 387.8,2395.1 394.9,2392.8" fill="none" stroke="#00B0F0" stroke-width="2.2" stroke-linejoin="round" stroke-linecap="butt" /><polyline points="80.7,2392.8 87.0,2390.8 93.4,2387.5 99.0,2378.8 104.8,2376.8 111.2,2367.4 117.5,2363.6 123.9,2359.7 129.5,2359.0 136.1,2364.1 142.2,2355.4 149.3,2355.4 155.7,2354.7 162.0,2354.2 167.1,2353.4 173.5,2357.2 179.3,2361.0 185.4,2362.5 192.0,2361.5 198.1,2361.5 204.0,2360.8 209.8,2357.2 215.9,2361.5 221.8,2362.0 228.1,2359.5 234.5,2359.5 234.0,2359.5 240.3,2362.0 246.7,2368.6 252.5,2374.2 259.4,2376.3 265.8,2378.1 272.1,2381.9 279.0,2385.7 284.8,2389.0 291.2,2394.6 296.3,2398.4 302.6,2402.2 309.0,2407.3 314.6,2410.6 320.4,2410.6 326.8,2410.3 333.1,2413.6 338.2,2414.2 344.1,2409.1 350.2,2409.8 356.0,2412.4 362.4,2414.9 368.7,2414.9 375.1,2418.0 381.4,2418.0 387.8,2418.7 393.6,2416.9" fill="none" stroke="#7030A0" stroke-width="2.2" stroke-linejoin="round" stroke-linecap="butt" /><polyline points="79.4,2417.5 85.8,2419.0 92.1,2420.0 98.5,2413.6 104.8,2409.1 111.2,2404.7 116.8,2400.9 122.6,2403.2 129.0,2400.4 135.3,2398.4 141.7,2382.9 148.1,2383.4 153.1,2383.6 159.0,2382.1 164.6,2383.6 170.9,2386.4 177.3,2388.0 183.6,2389.5 190.0,2391.3 196.4,2397.1 202.7,2401.7 207.8,2401.4 214.2,2405.8 220.5,2402.7 227.6,2406.0 234.5,2406.3 239.1,2403.5 245.4,2406.8 251.8,2406.5 258.1,2407.8 264.5,2409.1 269.6,2411.1 275.9,2403.2 282.3,2406.0 288.6,2408.6 295.0,2411.9 300.1,2416.9 307.7,2422.0 314.1,2429.4 319.2,2428.1 325.5,2426.9 330.6,2428.1 336.9,2431.9 343.3,2432.7 349.7,2436.3 356.0,2441.1 361.9,2440.8 368.7,2445.4 375.1,2448.0 380.2,2450.0 386.5,2451.0 392.9,2452.5" fill="none" stroke="#44546A" stroke-width="2.2" stroke-linejoin="round" stroke-linecap="butt" /><polyline points="78.1,2451.0 85.8,2451.0 92.1,2448.0 98.5,2435.3 104.8,2427.1 111.2,2418.7 117.5,2412.4 122.6,2408.6 128.5,2400.9 133.6,2400.4 139.2,2401.4 145.5,2396.6 151.9,2400.4 158.2,2407.3 164.6,2404.2 170.9,2406.0 176.0,2413.1 181.9,2422.0 188.7,2428.9 194.6,2426.9 200.7,2432.7 206.5,2437.8 212.9,2440.3 219.2,2439.8 224.3,2439.8 230.7,2442.9 230.2,2442.9 237.8,2443.6 242.9,2442.1 249.2,2442.9 255.6,2444.4 261.9,2444.9 268.3,2443.4 274.7,2442.1 281.0,2442.4 286.6,2444.7 293.0,2443.6 298.8,2439.8 305.2,2434.7 310.8,2437.3 315.3,2427.1 323.7,2425.6 329.3,2418.0 335.7,2415.4 342.0,2416.7 349.7,2418.7 356.0,2420.0 361.1,2421.8 367.5,2423.6 372.5,2423.6 378.9,2426.4 385.3,2430.2 390.3,2430.2 395.4,2429.2" fill="none" stroke="#ED7D31" stroke-width="2.2" stroke-linejoin="round" stroke-linecap="butt" /><polyline points="83.7,2428.9 89.6,2431.4 95.9,2435.8 102.3,2438.6 108.1,2439.8 113.7,2438.6 120.1,2434.7 126.4,2429.7 132.8,2426.9 138.6,2424.6 144.7,2421.5 151.1,2418.2 157.2,2414.9 163.3,2411.9 169.2,2409.8 175.3,2413.6 181.6,2415.7 187.5,2416.7 193.8,2414.2 199.7,2413.9 205.8,2415.4 212.1,2415.7 218.0,2416.9 224.3,2413.6 230.2,2411.9" fill="none" stroke="#FF0000" stroke-width="2.4" stroke-linejoin="round" stroke-linecap="butt" /><rect x="80.9" y="2426.1" width="5.6" height="5.6" fill="#FF0000"/><rect x="86.8" y="2428.6" width="5.6" height="5.6" fill="#FF0000"/><rect x="93.1" y="2433.0" width="5.6" height="5.6" fill="#FF0000"/><rect x="99.5" y="2435.8" width="5.6" height="5.6" fill="#FF0000"/><rect x="105.3" y="2437.0" width="5.6" height="5.6" fill="#FF0000"/><rect x="110.9" y="2435.8" width="5.6" height="5.6" fill="#FF0000"/><rect x="117.3" y="2431.9" width="5.6" height="5.6" fill="#FF0000"/><rect x="123.6" y="2426.9" width="5.6" height="5.6" fill="#FF0000"/><rect x="130.0" y="2424.1" width="5.6" height="5.6" fill="#FF0000"/><rect x="135.8" y="2421.8" width="5.6" height="5.6" fill="#FF0000"/><rect x="141.9" y="2418.7" width="5.6" height="5.6" fill="#FF0000"/><rect x="148.3" y="2415.4" width="5.6" height="5.6" fill="#FF0000"/><rect x="154.4" y="2412.1" width="5.6" height="5.6" fill="#FF0000"/><rect x="160.5" y="2409.1" width="5.6" height="5.6" fill="#FF0000"/><rect x="166.4" y="2407.0" width="5.6" height="5.6" fill="#FF0000"/><rect x="172.5" y="2410.8" width="5.6" height="5.6" fill="#FF0000"/><rect x="178.8" y="2412.9" width="5.6" height="5.6" fill="#FF0000"/><rect x="184.7" y="2413.9" width="5.6" height="5.6" fill="#FF0000"/><rect x="191.0" y="2411.4" width="5.6" height="5.6" fill="#FF0000"/><rect x="196.9" y="2411.1" width="5.6" height="5.6" fill="#FF0000"/><rect x="203.0" y="2412.6" width="5.6" height="5.6" fill="#FF0000"/><rect x="209.3" y="2412.9" width="5.6" height="5.6" fill="#FF0000"/><rect x="215.2" y="2414.1" width="5.6" height="5.6" fill="#FF0000"/><rect x="221.5" y="2410.8" width="5.6" height="5.6" fill="#FF0000"/><rect x="227.4" y="2409.1" width="5.6" height="5.6" fill="#FF0000"/><line x1="77.6" y1="2330.3" x2="77.6" y2="2456.4" stroke="#7F7F7F" stroke-width="1.15"/><line x1="73.6" y1="2330.3" x2="77.6" y2="2330.3" stroke="#7F7F7F" stroke-width="1.15"/><text x="70.6" y="2334.1" font-size="10.8" text-anchor="end" fill="#000" textLength="15.3" lengthAdjust="spacingAndGlyphs" >150</text><line x1="73.6" y1="2355.5" x2="77.6" y2="2355.5" stroke="#7F7F7F" stroke-width="1.15"/><text x="70.6" y="2359.3" font-size="10.8" text-anchor="end" fill="#000" textLength="15.3" lengthAdjust="spacingAndGlyphs" >130</text><line x1="73.6" y1="2380.7" x2="77.6" y2="2380.7" stroke="#7F7F7F" stroke-width="1.15"/><text x="70.6" y="2384.5" font-size="10.8" text-anchor="end" fill="#000" textLength="15.3" lengthAdjust="spacingAndGlyphs" >110</text><line x1="73.6" y1="2406.0" x2="77.6" y2="2406.0" stroke="#7F7F7F" stroke-width="1.15"/><text x="70.6" y="2409.8" font-size="10.8" text-anchor="end" fill="#000" textLength="10.1" lengthAdjust="spacingAndGlyphs" >90</text><line x1="73.6" y1="2431.2" x2="77.6" y2="2431.2" stroke="#7F7F7F" stroke-width="1.15"/><text x="70.6" y="2435.0" font-size="10.8" text-anchor="end" fill="#000" textLength="10.1" lengthAdjust="spacingAndGlyphs" >70</text><line x1="73.6" y1="2456.4" x2="77.6" y2="2456.4" stroke="#7F7F7F" stroke-width="1.15"/><text x="70.6" y="2460.2" font-size="10.8" text-anchor="end" fill="#000" textLength="10.1" lengthAdjust="spacingAndGlyphs" >50</text><line x1="397.2" y1="2330.3" x2="397.2" y2="2456.4" stroke="#7F7F7F" stroke-width="1.15"/><line x1="397.2" y1="2330.3" x2="401.2" y2="2330.3" stroke="#7F7F7F" stroke-width="1.15"/><text x="404.2" y="2334.1" font-size="10.8" text-anchor="start" fill="#000" textLength="15.3" lengthAdjust="spacingAndGlyphs" >150</text><line x1="397.2" y1="2355.5" x2="401.2" y2="2355.5" stroke="#7F7F7F" stroke-width="1.15"/><text x="404.2" y="2359.3" font-size="10.8" text-anchor="start" fill="#000" textLength="15.3" lengthAdjust="spacingAndGlyphs" >130</text><line x1="397.2" y1="2380.7" x2="401.2" y2="2380.7" stroke="#7F7F7F" stroke-width="1.15"/><text x="404.2" y="2384.5" font-size="10.8" text-anchor="start" fill="#000" textLength="15.3" lengthAdjust="spacingAndGlyphs" >110</text><line x1="397.2" y1="2406.0" x2="401.2" y2="2406.0" stroke="#7F7F7F" stroke-width="1.15"/><text x="404.2" y="2409.8" font-size="10.8" text-anchor="start" fill="#000" textLength="10.1" lengthAdjust="spacingAndGlyphs" >90</text><line x1="397.2" y1="2431.2" x2="401.2" y2="2431.2" stroke="#7F7F7F" stroke-width="1.15"/><text x="404.2" y="2435.0" font-size="10.8" text-anchor="start" fill="#000" textLength="10.1" lengthAdjust="spacingAndGlyphs" >70</text><line x1="397.2" y1="2456.4" x2="401.2" y2="2456.4" stroke="#7F7F7F" stroke-width="1.15"/><text x="404.2" y="2460.2" font-size="10.8" text-anchor="start" fill="#000" textLength="10.1" lengthAdjust="spacingAndGlyphs" >50</text><line x1="135.9" y1="2290.8" x2="166.4" y2="2290.8" stroke="#A5A5A5" stroke-width="2.2"/><text x="170.2" y="2294.5" font-size="10.8" text-anchor="start" fill="#000" ><tspan textLength="21.0" lengthAdjust="spacingAndGlyphs">2016</tspan>年</text><line x1="205.8" y1="2290.8" x2="236.3" y2="2290.8" stroke="#00B0F0" stroke-width="2.2"/><text x="240.1" y="2294.5" font-size="10.8" text-anchor="start" fill="#000" ><tspan textLength="21.0" lengthAdjust="spacingAndGlyphs">2017</tspan>年</text><line x1="275.9" y1="2290.8" x2="306.4" y2="2290.8" stroke="#7030A0" stroke-width="2.2"/><text x="310.2" y="2294.5" font-size="10.8" text-anchor="start" fill="#000" ><tspan textLength="21.0" lengthAdjust="spacingAndGlyphs">2018</tspan>年</text><line x1="135.9" y1="2307.1" x2="166.4" y2="2307.1" stroke="#44546A" stroke-width="2.2"/><text x="170.2" y="2310.8" font-size="10.8" text-anchor="start" fill="#000" ><tspan textLength="21.0" lengthAdjust="spacingAndGlyphs">2019</tspan>年</text><line x1="205.8" y1="2307.1" x2="236.3" y2="2307.1" stroke="#ED7D31" stroke-width="2.2"/><text x="240.1" y="2310.8" font-size="10.8" text-anchor="start" fill="#000" ><tspan textLength="21.0" lengthAdjust="spacingAndGlyphs">2020</tspan>年</text><line x1="275.9" y1="2307.1" x2="306.4" y2="2307.1" stroke="#FF0000" stroke-width="2.2"/><rect x="288.4" y="2304.3" width="5.6" height="5.6" fill="#FF0000"/><text x="310.2" y="2310.8" font-size="10.8" text-anchor="start" fill="#000" ><tspan textLength="21.0" lengthAdjust="spacingAndGlyphs">2021</tspan>年</text></svg>
<svg class="chart" style="left:472px;top:2271px" width="399" height="215" viewBox="472 2271 399 215"><rect x="472" y="2271" width="399" height="215" fill="#fff"/><line x1="527.5" y1="2431.0" x2="802.6" y2="2431.0" stroke="#7F7F7F" stroke-width="1.15"/><line x1="527.3" y1="2431.0" x2="527.3" y2="2435.0" stroke="#7F7F7F" stroke-width="1.15"/><text x="527.3" y="2445.6" font-size="8.6" text-anchor="middle" fill="#000" ><tspan textLength="8.4" lengthAdjust="spacingAndGlyphs">01</tspan>月</text><line x1="550.3" y1="2431.0" x2="550.3" y2="2435.0" stroke="#7F7F7F" stroke-width="1.15"/><text x="550.3" y="2445.6" font-size="8.6" text-anchor="middle" fill="#000" ><tspan textLength="8.4" lengthAdjust="spacingAndGlyphs">02</tspan>月</text><line x1="572.0" y1="2431.0" x2="572.0" y2="2435.0" stroke="#7F7F7F" stroke-width="1.15"/><text x="572.0" y="2445.6" font-size="8.6" text-anchor="middle" fill="#000" ><tspan textLength="8.4" lengthAdjust="spacingAndGlyphs">03</tspan>月</text><line x1="593.5" y1="2431.0" x2="593.5" y2="2435.0" stroke="#7F7F7F" stroke-width="1.15"/><text x="593.5" y="2445.6" font-size="8.6" text-anchor="middle" fill="#000" ><tspan textLength="8.4" lengthAdjust="spacingAndGlyphs">04</tspan>月</text><line x1="616.7" y1="2431.0" x2="616.7" y2="2435.0" stroke="#7F7F7F" stroke-width="1.15"/><text x="616.7" y="2445.6" font-size="8.6" text-anchor="middle" fill="#000" ><tspan textLength="8.4" lengthAdjust="spacingAndGlyphs">05</tspan>月</text><line x1="639.2" y1="2431.0" x2="639.2" y2="2435.0" stroke="#7F7F7F" stroke-width="1.15"/><text x="639.2" y="2445.6" font-size="8.6" text-anchor="middle" fill="#000" ><tspan textLength="8.4" lengthAdjust="spacingAndGlyphs">06</tspan>月</text><line x1="662.5" y1="2431.0" x2="662.5" y2="2435.0" stroke="#7F7F7F" stroke-width="1.15"/><text x="662.5" y="2445.6" font-size="8.6" text-anchor="middle" fill="#000" ><tspan textLength="8.4" lengthAdjust="spacingAndGlyphs">07</tspan>月</text><line x1="685.6" y1="2431.0" x2="685.6" y2="2435.0" stroke="#7F7F7F" stroke-width="1.15"/><text x="685.6" y="2445.6" font-size="8.6" text-anchor="middle" fill="#000" ><tspan textLength="8.4" lengthAdjust="spacingAndGlyphs">08</tspan>月</text><line x1="709.3" y1="2431.0" x2="709.3" y2="2435.0" stroke="#7F7F7F" stroke-width="1.15"/><text x="709.3" y="2445.6" font-size="8.6" text-anchor="middle" fill="#000" ><tspan textLength="8.4" lengthAdjust="spacingAndGlyphs">09</tspan>月</text><line x1="732.5" y1="2431.0" x2="732.5" y2="2435.0" stroke="#7F7F7F" stroke-width="1.15"/><text x="732.5" y="2445.6" font-size="8.6" text-anchor="middle" fill="#000" ><tspan textLength="8.4" lengthAdjust="spacingAndGlyphs">10</tspan>月</text><line x1="755.3" y1="2431.0" x2="755.3" y2="2435.0" stroke="#7F7F7F" stroke-width="1.15"/><text x="755.3" y="2445.6" font-size="8.6" text-anchor="middle" fill="#000" ><tspan textLength="8.4" lengthAdjust="spacingAndGlyphs">11</tspan>月</text><line x1="779.3" y1="2431.0" x2="779.3" y2="2435.0" stroke="#7F7F7F" stroke-width="1.15"/><text x="779.3" y="2445.6" font-size="8.6" text-anchor="middle" fill="#000" ><tspan textLength="8.4" lengthAdjust="spacingAndGlyphs">12</tspan>月</text><line x1="802.6" y1="2431.0" x2="802.6" y2="2435.0" stroke="#7F7F7F" stroke-width="1.15"/><polyline points="532.1,2363.4 538.1,2364.3 543.6,2361.1 549.1,2352.8 555.1,2348.2 560.6,2332.1 566.6,2330.7 572.1,2329.8 578.1,2309.1 584.1,2289.3 589.6,2293.0 595.1,2299.9 601.1,2303.1 606.6,2312.8 611.7,2312.3 617.2,2319.2 622.7,2318.3 628.7,2328.9 634.2,2338.1 639.3,2351.9 644.8,2356.5 650.3,2368.9 656.3,2376.7 662.3,2373.5 667.8,2372.1 673.3,2368.9 679.3,2372.1 685.3,2376.7 690.8,2372.1 696.3,2370.3 702.3,2372.1 708.3,2376.7 713.8,2380.4 719.3,2378.1 725.3,2380.4 730.8,2390.5 736.8,2388.7 742.3,2387.3 748.3,2388.7 753.8,2393.3 759.8,2395.1 765.4,2389.6 771.3,2381.3 776.9,2379.0 782.8,2381.3 788.4,2382.7 794.3,2379.0 799.9,2379.5 802.6,2378.1" fill="none" stroke="#A5A5A5" stroke-width="2.2" stroke-linejoin="round" stroke-linecap="butt" /><polyline points="529.8,2368.9 536.7,2369.8 542.7,2367.5 545.9,2355.1 551.9,2351.9 557.4,2332.1 563.4,2325.2 568.9,2328.4 573.5,2318.3 579.0,2313.7 584.1,2314.6 589.6,2318.3 595.1,2319.7 600.2,2318.3 605.7,2329.8 611.7,2341.3 617.2,2351.9 622.7,2359.7 628.7,2362.0 634.2,2360.6 639.3,2359.7 644.8,2355.1 651.7,2359.7 657.7,2365.2 663.2,2368.0 668.7,2365.2 674.7,2365.7 680.7,2368.9 686.2,2365.7 691.7,2362.0 695.4,2356.0 700.9,2357.4 706.9,2363.4 712.4,2365.2 718.4,2369.8 723.0,2371.2 727.6,2380.4 733.1,2393.3 739.1,2393.3 744.6,2393.3 750.6,2390.5 755.2,2393.3 760.8,2385.0 766.7,2378.1 771.3,2372.6 776.9,2371.2 781.9,2369.8 787.4,2373.5 792.0,2379.5 796.6,2380.4 802.6,2376.3" fill="none" stroke="#00B0F0" stroke-width="2.2" stroke-linejoin="round" stroke-linecap="butt" /><polyline points="529.8,2373.5 536.7,2370.3 542.7,2368.0 548.2,2371.2 554.2,2367.5 559.7,2359.7 565.7,2355.1 571.2,2339.0 578.1,2335.8 584.1,2325.2 589.6,2321.5 595.1,2321.5 600.2,2322.0 605.7,2331.2 611.7,2339.0 617.2,2342.7 622.7,2335.3 626.4,2330.7 631.9,2335.8 637.9,2335.3 642.5,2333.5 648.5,2339.9 654.0,2341.3 659.5,2339.0 664.1,2336.7 668.7,2339.0 674.7,2347.3 680.2,2355.1 685.3,2359.7 690.8,2362.0 696.3,2370.3 702.3,2373.5 708.3,2378.1 713.8,2381.3 720.7,2381.8 726.2,2390.5 732.2,2390.5 737.7,2388.7 743.7,2385.0 749.7,2379.0 755.2,2378.1 760.8,2378.1 766.7,2381.3 772.3,2381.8 778.2,2381.8 783.8,2383.6 789.7,2387.3 795.3,2391.0 801.2,2388.2 802.6,2387.3" fill="none" stroke="#70AD47" stroke-width="2.2" stroke-linejoin="round" stroke-linecap="butt" /><polyline points="528.9,2391.9 534.4,2395.6 539.9,2394.2 545.9,2387.3 551.9,2378.1 557.4,2366.6 563.4,2356.5 568.9,2352.8 576.7,2347.3 582.7,2336.7 588.7,2338.1 594.2,2337.6 600.2,2340.4 605.7,2343.6 611.7,2348.2 617.2,2354.2 622.7,2358.8 628.7,2362.0 634.2,2368.0 639.3,2371.2 644.8,2379.0 650.3,2380.4 656.3,2382.7 662.3,2378.1 667.8,2380.4 674.7,2376.7 680.7,2375.8 686.2,2377.2 691.7,2374.9 697.7,2374.9 703.7,2373.5 709.2,2378.1 714.7,2380.4 718.4,2377.2 723.0,2382.7 728.5,2388.7 734.5,2385.0 740.0,2381.8 746.0,2376.7 751.5,2378.1 757.5,2376.7 763.5,2376.7 769.0,2382.7 774.6,2381.3 780.5,2387.3 786.5,2390.5 792.0,2388.7 796.6,2385.0 802.6,2387.8" fill="none" stroke="#44546A" stroke-width="2.2" stroke-linejoin="round" stroke-linecap="butt" /><polyline points="527.5,2379.5 533.5,2382.7 539.0,2382.7 544.5,2373.5 550.5,2364.3 556.5,2355.1 562.0,2336.7 567.5,2325.2 573.5,2316.0 579.5,2299.9 582.7,2295.3 588.7,2297.6 593.3,2304.5 598.8,2314.6 604.8,2321.5 610.3,2335.8 616.3,2350.5 621.8,2359.7 628.7,2356.0 634.2,2368.0 640.2,2379.0 645.7,2380.4 651.7,2387.3 658.6,2394.2 664.1,2390.5 670.1,2381.8 675.6,2374.9 681.6,2373.5 687.1,2374.9 693.1,2368.9 698.6,2368.9 704.6,2369.8 710.1,2368.0 716.1,2368.0 723.0,2361.1 727.6,2368.0 733.1,2375.8 739.1,2374.9 744.6,2374.9 750.6,2374.9 756.2,2380.4 762.1,2382.7 767.7,2388.7 773.6,2396.5 779.2,2397.9 783.8,2395.6 789.7,2401.1 795.3,2404.3 798.9,2404.3 802.6,2399.7" fill="none" stroke="#C55A11" stroke-width="2.2" stroke-linejoin="round" stroke-linecap="butt" /><polyline points="531.2,2401.1 536.7,2404.8 542.7,2406.6 548.2,2407.1 554.2,2405.7 559.7,2398.8 565.2,2388.7 570.3,2378.1 575.8,2372.1 580.4,2368.9 585.0,2364.3 590.5,2363.4 596.5,2359.7 601.1,2361.1 606.6,2357.4 611.7,2358.3 617.2,2358.8 622.7,2354.2 627.3,2349.1 631.9,2350.5 637.9,2355.1 642.5,2358.3 647.1,2365.7 653.1,2368.9 659.5,2374.9" fill="none" stroke="#FF0000" stroke-width="3.0" stroke-linejoin="round" stroke-linecap="butt" /><line x1="527.5" y1="2288.4" x2="527.5" y2="2431.0" stroke="#7F7F7F" stroke-width="1.15"/><line x1="523.5" y1="2288.4" x2="527.5" y2="2288.4" stroke="#7F7F7F" stroke-width="1.15"/><text x="520.5" y="2292.2" font-size="10.8" text-anchor="end" fill="#000" textLength="36.4" lengthAdjust="spacing" >400,000</text><line x1="523.5" y1="2306.2" x2="527.5" y2="2306.2" stroke="#7F7F7F" stroke-width="1.15"/><text x="520.5" y="2310.0" font-size="10.8" text-anchor="end" fill="#000" textLength="36.4" lengthAdjust="spacing" >350,000</text><line x1="523.5" y1="2324.1" x2="527.5" y2="2324.1" stroke="#7F7F7F" stroke-width="1.15"/><text x="520.5" y="2327.9" font-size="10.8" text-anchor="end" fill="#000" textLength="36.4" lengthAdjust="spacing" >300,000</text><line x1="523.5" y1="2341.9" x2="527.5" y2="2341.9" stroke="#7F7F7F" stroke-width="1.15"/><text x="520.5" y="2345.7" font-size="10.8" text-anchor="end" fill="#000" textLength="36.4" lengthAdjust="spacing" >250,000</text><line x1="523.5" y1="2359.7" x2="527.5" y2="2359.7" stroke="#7F7F7F" stroke-width="1.15"/><text x="520.5" y="2363.5" font-size="10.8" text-anchor="end" fill="#000" textLength="36.4" lengthAdjust="spacing" >200,000</text><line x1="523.5" y1="2377.5" x2="527.5" y2="2377.5" stroke="#7F7F7F" stroke-width="1.15"/><text x="520.5" y="2381.3" font-size="10.8" text-anchor="end" fill="#000" textLength="36.4" lengthAdjust="spacing" >150,000</text><line x1="523.5" y1="2395.3" x2="527.5" y2="2395.3" stroke="#7F7F7F" stroke-width="1.15"/><text x="520.5" y="2399.2" font-size="10.8" text-anchor="end" fill="#000" textLength="36.4" lengthAdjust="spacing" >100,000</text><line x1="523.5" y1="2413.2" x2="527.5" y2="2413.2" stroke="#7F7F7F" stroke-width="1.15"/><text x="520.5" y="2417.0" font-size="10.8" text-anchor="end" fill="#000" textLength="31.1" lengthAdjust="spacing" >50,000</text><line x1="523.5" y1="2431.0" x2="527.5" y2="2431.0" stroke="#7F7F7F" stroke-width="1.15"/><text x="520.5" y="2434.8" font-size="10.8" text-anchor="end" fill="#000" ><tspan dx="-0.08">0</tspan></text><line x1="802.6" y1="2288.4" x2="802.6" y2="2431.0" stroke="#7F7F7F" stroke-width="1.15"/><line x1="802.6" y1="2288.4" x2="806.6" y2="2288.4" stroke="#7F7F7F" stroke-width="1.15"/><text x="809.6" y="2292.2" font-size="10.8" text-anchor="start" fill="#000" textLength="36.4" lengthAdjust="spacing" >400,000</text><line x1="802.6" y1="2306.2" x2="806.6" y2="2306.2" stroke="#7F7F7F" stroke-width="1.15"/><text x="809.6" y="2310.0" font-size="10.8" text-anchor="start" fill="#000" textLength="36.4" lengthAdjust="spacing" >350,000</text><line x1="802.6" y1="2324.1" x2="806.6" y2="2324.1" stroke="#7F7F7F" stroke-width="1.15"/><text x="809.6" y="2327.9" font-size="10.8" text-anchor="start" fill="#000" textLength="36.4" lengthAdjust="spacing" >300,000</text><line x1="802.6" y1="2341.9" x2="806.6" y2="2341.9" stroke="#7F7F7F" stroke-width="1.15"/><text x="809.6" y="2345.7" font-size="10.8" text-anchor="start" fill="#000" textLength="36.4" lengthAdjust="spacing" >250,000</text><line x1="802.6" y1="2359.7" x2="806.6" y2="2359.7" stroke="#7F7F7F" stroke-width="1.15"/><text x="809.6" y="2363.5" font-size="10.8" text-anchor="start" fill="#000" textLength="36.4" lengthAdjust="spacing" >200,000</text><line x1="802.6" y1="2377.5" x2="806.6" y2="2377.5" stroke="#7F7F7F" stroke-width="1.15"/><text x="809.6" y="2381.3" font-size="10.8" text-anchor="start" fill="#000" textLength="36.4" lengthAdjust="spacing" >150,000</text><line x1="802.6" y1="2395.3" x2="806.6" y2="2395.3" stroke="#7F7F7F" stroke-width="1.15"/><text x="809.6" y="2399.2" font-size="10.8" text-anchor="start" fill="#000" textLength="36.4" lengthAdjust="spacing" >100,000</text><line x1="802.6" y1="2413.2" x2="806.6" y2="2413.2" stroke="#7F7F7F" stroke-width="1.15"/><text x="809.6" y="2417.0" font-size="10.8" text-anchor="start" fill="#000" textLength="31.1" lengthAdjust="spacing" >50,000</text><line x1="802.6" y1="2431.0" x2="806.6" y2="2431.0" stroke="#7F7F7F" stroke-width="1.15"/><text x="809.6" y="2434.8" font-size="10.8" text-anchor="start" fill="#000" ><tspan dx="-0.08">0</tspan></text><line x1="490.7" y1="2466.9" x2="522.7" y2="2466.9" stroke="#A5A5A5" stroke-width="2.2"/><text x="525.9" y="2470.6" font-size="10.8" text-anchor="start" fill="#000" textLength="20.6" lengthAdjust="spacingAndGlyphs" >2016</text><line x1="549.1" y1="2466.9" x2="581.1" y2="2466.9" stroke="#00B0F0" stroke-width="2.2"/><text x="584.4" y="2470.6" font-size="10.8" text-anchor="start" fill="#000" textLength="20.6" lengthAdjust="spacingAndGlyphs" >2017</text><line x1="607.6" y1="2466.9" x2="639.6" y2="2466.9" stroke="#70AD47" stroke-width="2.2"/><text x="642.8" y="2470.6" font-size="10.8" text-anchor="start" fill="#000" textLength="20.6" lengthAdjust="spacingAndGlyphs" >2018</text><line x1="666.0" y1="2466.9" x2="698.0" y2="2466.9" stroke="#44546A" stroke-width="2.2"/><text x="701.2" y="2470.6" font-size="10.8" text-anchor="start" fill="#000" textLength="20.6" lengthAdjust="spacingAndGlyphs" >2019</text><line x1="724.5" y1="2466.9" x2="756.5" y2="2466.9" stroke="#C55A11" stroke-width="2.2"/><text x="759.7" y="2470.6" font-size="10.8" text-anchor="start" fill="#000" textLength="20.6" lengthAdjust="spacingAndGlyphs" >2020</text><line x1="783.0" y1="2466.9" x2="815.0" y2="2466.9" stroke="#FF0000" stroke-width="3.0"/><text x="818.2" y="2470.6" font-size="10.8" text-anchor="start" fill="#000" textLength="20.6" lengthAdjust="spacingAndGlyphs" >2021</text></svg>
<svg class="chart" style="left:33px;top:2555px" width="397" height="209" viewBox="33 2555 397 209"><rect x="33" y="2555" width="397" height="209" fill="#fff"/><line x1="98.4" y1="2712.4" x2="374.9" y2="2712.4" stroke="#7F7F7F" stroke-width="1.15"/><line x1="98.4" y1="2712.4" x2="98.4" y2="2716.4" stroke="#7F7F7F" stroke-width="1.15"/><text x="98.4" y="2727.0" font-size="8.6" text-anchor="middle" fill="#000" ><tspan textLength="8.4" lengthAdjust="spacingAndGlyphs">01</tspan>月</text><line x1="121.4" y1="2712.4" x2="121.4" y2="2716.4" stroke="#7F7F7F" stroke-width="1.15"/><text x="121.4" y="2727.0" font-size="8.6" text-anchor="middle" fill="#000" ><tspan textLength="8.4" lengthAdjust="spacingAndGlyphs">02</tspan>月</text><line x1="144.5" y1="2712.4" x2="144.5" y2="2716.4" stroke="#7F7F7F" stroke-width="1.15"/><text x="144.5" y="2727.0" font-size="8.6" text-anchor="middle" fill="#000" ><tspan textLength="8.4" lengthAdjust="spacingAndGlyphs">03</tspan>月</text><line x1="167.5" y1="2712.4" x2="167.5" y2="2716.4" stroke="#7F7F7F" stroke-width="1.15"/><text x="167.5" y="2727.0" font-size="8.6" text-anchor="middle" fill="#000" ><tspan textLength="8.4" lengthAdjust="spacingAndGlyphs">04</tspan>月</text><line x1="190.6" y1="2712.4" x2="190.6" y2="2716.4" stroke="#7F7F7F" stroke-width="1.15"/><text x="190.6" y="2727.0" font-size="8.6" text-anchor="middle" fill="#000" ><tspan textLength="8.4" lengthAdjust="spacingAndGlyphs">05</tspan>月</text><line x1="213.6" y1="2712.4" x2="213.6" y2="2716.4" stroke="#7F7F7F" stroke-width="1.15"/><text x="213.6" y="2727.0" font-size="8.6" text-anchor="middle" fill="#000" ><tspan textLength="8.4" lengthAdjust="spacingAndGlyphs">06</tspan>月</text><line x1="236.7" y1="2712.4" x2="236.7" y2="2716.4" stroke="#7F7F7F" stroke-width="1.15"/><text x="236.7" y="2727.0" font-size="8.6" text-anchor="middle" fill="#000" ><tspan textLength="8.4" lengthAdjust="spacingAndGlyphs">07</tspan>月</text><line x1="259.7" y1="2712.4" x2="259.7" y2="2716.4" stroke="#7F7F7F" stroke-width="1.15"/><text x="259.7" y="2727.0" font-size="8.6" text-anchor="middle" fill="#000" ><tspan textLength="8.4" lengthAdjust="spacingAndGlyphs">08</tspan>月</text><line x1="282.7" y1="2712.4" x2="282.7" y2="2716.4" stroke="#7F7F7F" stroke-width="1.15"/><text x="282.7" y="2727.0" font-size="8.6" text-anchor="middle" fill="#000" ><tspan textLength="8.4" lengthAdjust="spacingAndGlyphs">09</tspan>月</text><line x1="305.8" y1="2712.4" x2="305.8" y2="2716.4" stroke="#7F7F7F" stroke-width="1.15"/><text x="305.8" y="2727.0" font-size="8.6" text-anchor="middle" fill="#000" ><tspan textLength="8.4" lengthAdjust="spacingAndGlyphs">10</tspan>月</text><line x1="328.8" y1="2712.4" x2="328.8" y2="2716.4" stroke="#7F7F7F" stroke-width="1.15"/><text x="328.8" y="2727.0" font-size="8.6" text-anchor="middle" fill="#000" ><tspan textLength="8.4" lengthAdjust="spacingAndGlyphs">11</tspan>月</text><line x1="351.9" y1="2712.4" x2="351.9" y2="2716.4" stroke="#7F7F7F" stroke-width="1.15"/><text x="351.9" y="2727.0" font-size="8.6" text-anchor="middle" fill="#000" ><tspan textLength="8.4" lengthAdjust="spacingAndGlyphs">12</tspan>月</text><line x1="374.9" y1="2712.4" x2="374.9" y2="2716.4" stroke="#7F7F7F" stroke-width="1.15"/><polyline points="98.4,2646.6 104.4,2647.5 109.9,2646.6 115.9,2645.7 121.9,2644.3 127.4,2648.9 133.4,2653.5 138.9,2658.1 144.9,2662.7 150.4,2667.3 155.9,2670.5 161.9,2675.1 167.4,2679.7 173.4,2679.7 178.9,2678.8 184.9,2676.5 190.4,2674.2 196.4,2673.3 201.9,2674.2 207.9,2674.2 213.9,2676.5 217.1,2665.0 221.7,2658.1 228.6,2656.7 233.2,2661.8 237.8,2662.7 241.5,2651.2 247.0,2646.6 253.0,2648.9 258.5,2654.9 264.0,2656.7 270.0,2656.7 274.6,2653.5 279.2,2639.7 283.8,2619.0 288.4,2607.5 293.0,2605.2 298.5,2606.1 302.2,2598.3 305.4,2595.1 311.4,2602.9 316.0,2606.1 321.5,2606.6 327.5,2614.4 333.1,2623.6 339.0,2637.4 344.6,2645.7 350.5,2647.5 355.1,2648.9 358.4,2654.9 362.0,2628.2 365.3,2607.5 368.9,2609.8 372.6,2612.1 374.9,2615.3" fill="none" stroke="#A5A5A5" stroke-width="2.2" stroke-linejoin="round" stroke-linecap="butt" /><polyline points="98.4,2619.0 102.1,2623.6 106.7,2630.5 112.7,2632.8 118.2,2639.7 123.7,2642.0 129.7,2648.9 135.2,2653.5 141.2,2658.1 144.9,2660.4 147.2,2614.4 152.7,2608.9 158.7,2612.1 161.9,2621.3 166.5,2628.2 171.1,2635.1 175.7,2636.5 181.7,2635.1 187.2,2637.4 190.4,2639.7 192.7,2604.3 198.7,2607.5 204.7,2612.1 207.9,2625.9 212.5,2619.0 217.1,2625.9 221.7,2632.8 227.2,2637.4 233.2,2639.7 236.9,2644.3 239.2,2618.1 244.7,2617.6 250.7,2621.3 256.2,2622.7 261.7,2625.9 267.7,2632.8 272.3,2642.0 277.8,2645.7 283.8,2652.1 289.3,2656.7 292.1,2655.8 294.4,2619.9 299.9,2622.7 305.9,2625.9 311.4,2625.9 317.4,2629.1 322.9,2632.8 328.9,2635.1 334.4,2639.7 340.0,2644.3 345.9,2653.5 351.5,2665.0 357.4,2662.7 362.0,2660.4 368.9,2659.5 373.5,2658.6" fill="none" stroke="#00B0F0" stroke-width="2.2" stroke-linejoin="round" stroke-linecap="butt" /><polyline points="98.4,2660.4 104.4,2659.5 109.9,2658.1 113.6,2656.7 115.9,2621.3 121.9,2623.6 127.4,2611.2 133.4,2609.8 138.9,2612.1 144.9,2614.4 150.4,2618.1 155.9,2618.1 160.5,2618.1 162.8,2592.8 168.8,2595.1 174.3,2602.9 180.3,2605.2 185.8,2609.8 190.4,2619.9 196.4,2625.9 201.9,2623.6 207.9,2622.7 212.5,2630.5 213.9,2618.1 219.4,2621.3 224.0,2627.3 228.6,2621.3 233.2,2623.6 237.8,2630.5 242.4,2639.7 247.9,2641.1 253.9,2642.0 259.4,2642.9 265.4,2641.1 270.9,2639.7 276.9,2637.4 281.5,2635.1 286.1,2644.3 291.6,2650.3 297.6,2656.7 303.1,2658.1 309.1,2665.0 314.6,2671.9 320.6,2676.5 326.2,2681.1 328.9,2682.5 331.2,2668.7 336.7,2673.3 342.3,2678.8 348.2,2683.4 353.8,2687.1 359.7,2688.0 365.3,2685.7 371.2,2684.8 374.9,2684.3" fill="none" stroke="#70AD47" stroke-width="2.2" stroke-linejoin="round" stroke-linecap="butt" /><polyline points="98.4,2683.4 104.4,2684.3 109.9,2683.4 115.9,2678.8 121.9,2677.4 127.4,2677.9 133.4,2681.1 138.9,2684.3 144.9,2688.0 151.8,2691.7 155.0,2665.0 160.5,2668.7 165.1,2670.5 168.8,2671.9 171.1,2660.4 176.6,2661.8 182.6,2662.7 186.3,2664.1 188.1,2648.0 194.1,2648.9 197.8,2658.1 203.3,2662.7 209.3,2664.1 212.5,2655.8 218.5,2655.8 221.7,2642.0 227.7,2644.3 233.2,2645.7 236.9,2645.7 238.7,2623.6 242.4,2629.1 247.9,2631.9 251.6,2625.9 256.2,2624.5 261.7,2627.3 267.7,2634.2 270.0,2612.1 275.5,2611.2 281.5,2609.8 287.0,2618.1 290.7,2622.7 294.4,2623.6 297.6,2629.1 302.2,2631.9 305.9,2639.7 307.7,2625.9 313.7,2630.5 319.2,2635.1 325.2,2639.7 328.9,2639.7 334.4,2646.6 340.0,2650.3 345.9,2653.5 351.5,2660.4 357.4,2668.7 363.0,2674.2 368.9,2678.8 374.9,2678.8" fill="none" stroke="#44546A" stroke-width="2.2" stroke-linejoin="round" stroke-linecap="butt" /><polyline points="98.4,2680.2 104.4,2683.4 111.3,2686.6 113.6,2661.8 119.1,2665.0 125.1,2668.7 131.1,2671.9 136.6,2673.3 138.9,2673.3 140.3,2652.1 145.8,2658.1 151.8,2665.0 155.0,2648.0 160.5,2648.9 166.5,2650.3 171.1,2652.1 172.5,2638.8 178.0,2637.4 182.6,2636.5 188.1,2639.7 194.1,2642.0 197.8,2644.3 200.1,2630.5 205.6,2632.8 211.1,2637.4 217.1,2644.3 222.6,2648.9 228.6,2653.5 233.2,2656.7 238.7,2662.7 244.7,2669.6 250.2,2676.5 256.2,2682.5 261.7,2686.6 267.7,2688.9 273.2,2692.6 279.2,2698.1 284.7,2700.9 289.3,2704.1 295.3,2702.7 299.9,2703.2 302.2,2704.1 304.5,2671.9 309.1,2673.3 314.6,2675.1 316.9,2665.0 322.9,2667.3 328.5,2668.7 334.4,2670.5 340.0,2673.3 345.9,2675.1 351.5,2676.5 357.4,2677.9 363.0,2678.8 368.9,2688.0 374.9,2692.6" fill="none" stroke="#ED7D31" stroke-width="2.2" stroke-linejoin="round" stroke-linecap="butt" /><polyline points="98.4,2693.2 99.3,2693.2 100.1,2694.9 101.0,2693.7 101.8,2692.7 102.7,2693.4 103.6,2693.6 104.4,2694.0 105.3,2693.9 106.2,2695.4 107.2,2695.7 108.1,2697.4 109.0,2697.0 109.9,2697.0 110.8,2698.3 111.6,2699.0 112.5,2698.6 113.3,2700.0 114.2,2700.0 115.1,2701.8 115.9,2701.7 116.8,2702.4 117.6,2702.1 118.5,2702.9 119.3,2704.1 120.2,2704.6 121.0,2703.8 121.9,2703.3 122.8,2704.3 123.7,2703.7 124.6,2703.5 125.6,2704.3 126.5,2703.4 127.4,2704.4 128.3,2705.0 129.1,2704.5 130.0,2703.7 130.8,2703.8 131.7,2705.0 132.5,2704.6 133.4,2705.2 134.3,2704.6 135.2,2704.4 136.2,2704.4 137.1,2704.3 138.0,2704.4 138.9,2704.8 139.8,2705.0 140.6,2704.1 141.5,2703.0 142.3,2702.7 143.2,2702.3 144.0,2701.2 144.9,2702.1 145.8,2701.0 146.7,2701.8 147.7,2700.0 148.6,2698.1 149.5,2698.0 150.4,2697.2 151.3,2696.6 152.3,2695.3 153.2,2695.2 154.1,2692.7 155.0,2691.7 155.9,2690.1 156.8,2688.9 157.6,2687.1 158.5,2687.3 159.3,2685.3 160.2,2685.2 161.1,2684.6 161.9,2683.8 162.8,2681.9 163.8,2682.4 164.7,2681.2 165.6,2681.1 166.5,2680.2 167.4,2681.0 168.4,2677.9 169.3,2675.7 170.2,2674.0 171.1,2671.0 172.0,2670.8 173.0,2670.6 173.9,2670.6 174.8,2669.9 175.7,2670.7 176.6,2672.1 177.6,2672.6 178.5,2672.4 179.4,2673.2 180.3,2675.0 181.2,2675.7 182.2,2675.6 183.1,2675.1 184.0,2676.3 184.9,2676.9 185.8,2676.9 186.7,2677.8 187.5,2678.0 188.4,2678.7 189.2,2679.8 190.1,2681.9 190.9,2683.4 191.8,2683.7 192.7,2684.6 193.7,2686.5 194.6,2686.0 195.5,2686.8 196.4,2687.1 197.6,2690.1 198.7,2690.5 199.6,2690.4 200.6,2689.4 201.5,2687.5 202.4,2687.1 203.3,2686.0 204.2,2686.4 205.0,2686.4 205.9,2686.9 206.7,2687.1 207.6,2686.5 208.4,2687.3 209.3,2686.8 210.2,2685.9 211.1,2686.0 212.1,2685.6 213.0,2685.4 213.9,2684.9 214.8,2685.9 215.7,2686.0 216.7,2684.8 217.6,2685.4 218.5,2684.5 219.4,2683.4 220.3,2682.6 221.3,2682.5 222.2,2681.5 223.1,2680.8 224.0,2681.8 224.9,2680.3 226.3,2671.1 227.1,2670.4 227.9,2670.8 228.7,2670.9 229.5,2671.3 230.9,2655.8" fill="none" stroke="#FF0000" stroke-width="3.0" stroke-linejoin="round" stroke-linecap="butt" /><line x1="98.4" y1="2570.7" x2="98.4" y2="2712.4" stroke="#7F7F7F" stroke-width="1.15"/><line x1="94.4" y1="2570.7" x2="98.4" y2="2570.7" stroke="#7F7F7F" stroke-width="1.15"/><text x="91.4" y="2574.5" font-size="10.8" text-anchor="end" fill="#000" textLength="36.4" lengthAdjust="spacing" >450,000</text><line x1="94.4" y1="2588.4" x2="98.4" y2="2588.4" stroke="#7F7F7F" stroke-width="1.15"/><text x="91.4" y="2592.2" font-size="10.8" text-anchor="end" fill="#000" textLength="36.4" lengthAdjust="spacing" >400,000</text><line x1="94.4" y1="2606.1" x2="98.4" y2="2606.1" stroke="#7F7F7F" stroke-width="1.15"/><text x="91.4" y="2609.9" font-size="10.8" text-anchor="end" fill="#000" textLength="36.4" lengthAdjust="spacing" >350,000</text><line x1="94.4" y1="2623.8" x2="98.4" y2="2623.8" stroke="#7F7F7F" stroke-width="1.15"/><text x="91.4" y="2627.6" font-size="10.8" text-anchor="end" fill="#000" textLength="36.4" lengthAdjust="spacing" >300,000</text><line x1="94.4" y1="2641.6" x2="98.4" y2="2641.6" stroke="#7F7F7F" stroke-width="1.15"/><text x="91.4" y="2645.4" font-size="10.8" text-anchor="end" fill="#000" textLength="36.4" lengthAdjust="spacing" >250,000</text><line x1="94.4" y1="2659.3" x2="98.4" y2="2659.3" stroke="#7F7F7F" stroke-width="1.15"/><text x="91.4" y="2663.1" font-size="10.8" text-anchor="end" fill="#000" textLength="36.4" lengthAdjust="spacing" >200,000</text><line x1="94.4" y1="2677.0" x2="98.4" y2="2677.0" stroke="#7F7F7F" stroke-width="1.15"/><text x="91.4" y="2680.8" font-size="10.8" text-anchor="end" fill="#000" textLength="36.4" lengthAdjust="spacing" >150,000</text><line x1="94.4" y1="2694.7" x2="98.4" y2="2694.7" stroke="#7F7F7F" stroke-width="1.15"/><text x="91.4" y="2698.5" font-size="10.8" text-anchor="end" fill="#000" textLength="36.4" lengthAdjust="spacing" >100,000</text><line x1="94.4" y1="2712.4" x2="98.4" y2="2712.4" stroke="#7F7F7F" stroke-width="1.15"/><text x="91.4" y="2716.2" font-size="10.8" text-anchor="end" fill="#000" textLength="31.1" lengthAdjust="spacing" >50,000</text><line x1="374.9" y1="2570.7" x2="374.9" y2="2712.4" stroke="#7F7F7F" stroke-width="1.15"/><line x1="374.9" y1="2570.7" x2="378.9" y2="2570.7" stroke="#7F7F7F" stroke-width="1.15"/><text x="381.9" y="2574.5" font-size="10.8" text-anchor="start" fill="#000" textLength="36.4" lengthAdjust="spacing" >450,000</text><line x1="374.9" y1="2588.4" x2="378.9" y2="2588.4" stroke="#7F7F7F" stroke-width="1.15"/><text x="381.9" y="2592.2" font-size="10.8" text-anchor="start" fill="#000" textLength="36.4" lengthAdjust="spacing" >400,000</text><line x1="374.9" y1="2606.1" x2="378.9" y2="2606.1" stroke="#7F7F7F" stroke-width="1.15"/><text x="381.9" y="2609.9" font-size="10.8" text-anchor="start" fill="#000" textLength="36.4" lengthAdjust="spacing" >350,000</text><line x1="374.9" y1="2623.8" x2="378.9" y2="2623.8" stroke="#7F7F7F" stroke-width="1.15"/><text x="381.9" y="2627.6" font-size="10.8" text-anchor="start" fill="#000" textLength="36.4" lengthAdjust="spacing" >300,000</text><line x1="374.9" y1="2641.6" x2="378.9" y2="2641.6" stroke="#7F7F7F" stroke-width="1.15"/><text x="381.9" y="2645.4" font-size="10.8" text-anchor="start" fill="#000" textLength="36.4" lengthAdjust="spacing" >250,000</text><line x1="374.9" y1="2659.3" x2="378.9" y2="2659.3" stroke="#7F7F7F" stroke-width="1.15"/><text x="381.9" y="2663.1" font-size="10.8" text-anchor="start" fill="#000" textLength="36.4" lengthAdjust="spacing" >200,000</text><line x1="374.9" y1="2677.0" x2="378.9" y2="2677.0" stroke="#7F7F7F" stroke-width="1.15"/><text x="381.9" y="2680.8" font-size="10.8" text-anchor="start" fill="#000" textLength="36.4" lengthAdjust="spacing" >150,000</text><line x1="374.9" y1="2694.7" x2="378.9" y2="2694.7" stroke="#7F7F7F" stroke-width="1.15"/><text x="381.9" y="2698.5" font-size="10.8" text-anchor="start" fill="#000" textLength="36.4" lengthAdjust="spacing" >100,000</text><line x1="374.9" y1="2712.4" x2="378.9" y2="2712.4" stroke="#7F7F7F" stroke-width="1.15"/><text x="381.9" y="2716.2" font-size="10.8" text-anchor="start" fill="#000" textLength="31.1" lengthAdjust="spacing" >50,000</text><line x1="63.0" y1="2750.1" x2="93.0" y2="2750.1" stroke="#A5A5A5" stroke-width="2.2"/><text x="97.5" y="2753.8" font-size="10.8" text-anchor="start" fill="#000" textLength="20.6" lengthAdjust="spacingAndGlyphs" >2016</text><line x1="121.9" y1="2750.1" x2="151.9" y2="2750.1" stroke="#00B0F0" stroke-width="2.2"/><text x="156.4" y="2753.8" font-size="10.8" text-anchor="start" fill="#000" textLength="20.6" lengthAdjust="spacingAndGlyphs" >2017</text><line x1="180.3" y1="2750.1" x2="210.3" y2="2750.1" stroke="#70AD47" stroke-width="2.2"/><text x="214.8" y="2753.8" font-size="10.8" text-anchor="start" fill="#000" textLength="20.6" lengthAdjust="spacingAndGlyphs" >2018</text><line x1="238.7" y1="2750.1" x2="268.7" y2="2750.1" stroke="#44546A" stroke-width="2.2"/><text x="273.2" y="2753.8" font-size="10.8" text-anchor="start" fill="#000" textLength="20.6" lengthAdjust="spacingAndGlyphs" >2019</text><line x1="296.7" y1="2750.1" x2="326.7" y2="2750.1" stroke="#ED7D31" stroke-width="2.2"/><text x="331.2" y="2753.8" font-size="10.8" text-anchor="start" fill="#000" textLength="20.6" lengthAdjust="spacingAndGlyphs" >2020</text><line x1="355.6" y1="2750.1" x2="385.6" y2="2750.1" stroke="#FF0000" stroke-width="3.0"/><text x="390.1" y="2753.8" font-size="10.8" text-anchor="start" fill="#000" textLength="20.6" lengthAdjust="spacingAndGlyphs" >2021</text></svg>
<svg class="chart" style="left:473px;top:2555px" width="398" height="209" viewBox="473 2555 398 209"><rect x="473" y="2555" width="398" height="209" fill="#fff"/><line x1="527.5" y1="2713.3" x2="802.6" y2="2713.3" stroke="#7F7F7F" stroke-width="1.15"/><line x1="527.3" y1="2713.3" x2="527.3" y2="2717.3" stroke="#7F7F7F" stroke-width="1.15"/><text x="527.3" y="2727.0" font-size="8.6" text-anchor="middle" fill="#000" ><tspan textLength="8.4" lengthAdjust="spacingAndGlyphs">01</tspan>月</text><line x1="550.3" y1="2713.3" x2="550.3" y2="2717.3" stroke="#7F7F7F" stroke-width="1.15"/><text x="550.3" y="2727.0" font-size="8.6" text-anchor="middle" fill="#000" ><tspan textLength="8.4" lengthAdjust="spacingAndGlyphs">02</tspan>月</text><line x1="572.0" y1="2713.3" x2="572.0" y2="2717.3" stroke="#7F7F7F" stroke-width="1.15"/><text x="572.0" y="2727.0" font-size="8.6" text-anchor="middle" fill="#000" ><tspan textLength="8.4" lengthAdjust="spacingAndGlyphs">03</tspan>月</text><line x1="593.5" y1="2713.3" x2="593.5" y2="2717.3" stroke="#7F7F7F" stroke-width="1.15"/><text x="593.5" y="2727.0" font-size="8.6" text-anchor="middle" fill="#000" ><tspan textLength="8.4" lengthAdjust="spacingAndGlyphs">04</tspan>月</text><line x1="616.7" y1="2713.3" x2="616.7" y2="2717.3" stroke="#7F7F7F" stroke-width="1.15"/><text x="616.7" y="2727.0" font-size="8.6" text-anchor="middle" fill="#000" ><tspan textLength="8.4" lengthAdjust="spacingAndGlyphs">05</tspan>月</text><line x1="639.2" y1="2713.3" x2="639.2" y2="2717.3" stroke="#7F7F7F" stroke-width="1.15"/><text x="639.2" y="2727.0" font-size="8.6" text-anchor="middle" fill="#000" ><tspan textLength="8.4" lengthAdjust="spacingAndGlyphs">06</tspan>月</text><line x1="662.5" y1="2713.3" x2="662.5" y2="2717.3" stroke="#7F7F7F" stroke-width="1.15"/><text x="662.5" y="2727.0" font-size="8.6" text-anchor="middle" fill="#000" ><tspan textLength="8.4" lengthAdjust="spacingAndGlyphs">07</tspan>月</text><line x1="685.6" y1="2713.3" x2="685.6" y2="2717.3" stroke="#7F7F7F" stroke-width="1.15"/><text x="685.6" y="2727.0" font-size="8.6" text-anchor="middle" fill="#000" ><tspan textLength="8.4" lengthAdjust="spacingAndGlyphs">08</tspan>月</text><line x1="709.3" y1="2713.3" x2="709.3" y2="2717.3" stroke="#7F7F7F" stroke-width="1.15"/><text x="709.3" y="2727.0" font-size="8.6" text-anchor="middle" fill="#000" ><tspan textLength="8.4" lengthAdjust="spacingAndGlyphs">09</tspan>月</text><line x1="732.5" y1="2713.3" x2="732.5" y2="2717.3" stroke="#7F7F7F" stroke-width="1.15"/><text x="732.5" y="2727.0" font-size="8.6" text-anchor="middle" fill="#000" ><tspan textLength="8.4" lengthAdjust="spacingAndGlyphs">10</tspan>月</text><line x1="755.3" y1="2713.3" x2="755.3" y2="2717.3" stroke="#7F7F7F" stroke-width="1.15"/><text x="755.3" y="2727.0" font-size="8.6" text-anchor="middle" fill="#000" ><tspan textLength="8.4" lengthAdjust="spacingAndGlyphs">11</tspan>月</text><line x1="779.3" y1="2713.3" x2="779.3" y2="2717.3" stroke="#7F7F7F" stroke-width="1.15"/><text x="779.3" y="2727.0" font-size="8.6" text-anchor="middle" fill="#000" ><tspan textLength="8.4" lengthAdjust="spacingAndGlyphs">12</tspan>月</text><line x1="802.6" y1="2713.3" x2="802.6" y2="2717.3" stroke="#7F7F7F" stroke-width="1.15"/><polyline points="527.5,2667.3 534.4,2668.7 541.3,2670.5 548.2,2671.9 555.1,2669.6 562.0,2668.7 568.9,2669.6 575.8,2668.7 582.7,2667.3 589.6,2665.9 596.5,2665.9 603.4,2666.4 608.0,2668.7 617.2,2670.5 626.4,2671.9 635.6,2673.3 644.8,2675.1 654.0,2674.2 663.2,2673.3 672.4,2671.9 681.6,2671.0 690.8,2670.5 700.0,2669.6 709.2,2668.7 718.4,2667.8 727.6,2667.3 736.8,2667.3 746.0,2666.9 751.5,2665.5 757.5,2666.4 764.4,2665.9 771.3,2664.1 778.2,2662.7 785.1,2661.3 792.0,2660.4 797.6,2658.1 802.6,2656.7" fill="none" stroke="#A5A5A5" stroke-width="2.2" stroke-linejoin="round" stroke-linecap="butt" /><polyline points="527.5,2654.9 534.4,2652.1 541.3,2650.3 548.2,2647.5 555.1,2644.3 562.0,2639.7 568.9,2633.7 575.8,2629.1 582.7,2625.0 589.6,2622.2 596.5,2619.9 603.4,2617.6 610.3,2613.5 617.2,2612.6 624.1,2613.0 631.0,2613.0 637.9,2611.2 644.8,2610.3 651.7,2608.4 658.6,2608.0 665.5,2607.5 672.4,2606.1 679.3,2603.8 686.2,2601.5 693.1,2599.7 700.0,2596.9 706.9,2596.0 713.8,2593.7 720.7,2590.5 727.6,2588.2 734.5,2586.8 741.4,2583.6 748.3,2581.3 755.2,2579.9 762.1,2580.4 769.0,2578.5 775.9,2577.6 782.8,2578.1 789.7,2578.1 796.6,2577.1 802.6,2576.7" fill="none" stroke="#00B0F0" stroke-width="2.2" stroke-linejoin="round" stroke-linecap="butt" /><polyline points="527.5,2604.3 534.4,2603.4 539.0,2602.9 541.3,2599.2 548.2,2599.2 552.8,2597.4 559.7,2596.9 566.6,2595.1 573.5,2593.7 580.4,2592.8 587.3,2592.8 590.5,2594.2 593.3,2591.9 596.5,2593.2 599.7,2590.5 603.4,2589.6 608.0,2589.6 610.3,2585.0 616.3,2585.0 621.8,2582.7 626.4,2583.1 633.3,2585.0 636.5,2587.7 639.3,2593.2 644.8,2593.7 651.7,2594.6 658.6,2596.5 665.5,2597.4 672.4,2598.3 679.3,2601.5 686.2,2605.2 693.1,2608.9 700.0,2611.2 706.9,2613.0 713.8,2615.8 720.7,2619.0 727.6,2622.7 734.5,2625.0 741.4,2627.3 748.3,2629.6 755.2,2631.9 762.1,2634.2 769.0,2638.3 775.9,2641.1 782.8,2645.2 787.4,2648.9 792.0,2652.1 796.6,2654.9 802.6,2656.7" fill="none" stroke="#70AD47" stroke-width="2.2" stroke-linejoin="round" stroke-linecap="butt" /><polyline points="527.5,2655.8 534.4,2659.5 541.3,2664.1 548.2,2668.7 555.1,2673.3 562.0,2678.8 568.9,2683.4 575.8,2685.7 582.7,2688.0 589.6,2690.3 596.5,2691.7 603.4,2693.5 610.3,2694.9 617.2,2695.8 626.4,2696.3 635.6,2696.8 644.8,2697.2 651.7,2697.7 658.6,2697.2 665.5,2695.4 672.4,2694.9 679.3,2693.5 686.2,2692.6 693.1,2691.7 700.0,2691.2 706.9,2690.8 713.8,2689.9 720.7,2689.9 725.3,2690.8 732.2,2692.2 739.1,2693.1 746.0,2694.0 751.5,2695.4 757.5,2694.9 764.4,2693.5 771.3,2692.2 778.2,2692.2 787.4,2692.2 796.6,2692.6 802.6,2693.5" fill="none" stroke="#44546A" stroke-width="2.2" stroke-linejoin="round" stroke-linecap="butt" /><polyline points="527.5,2693.5 534.4,2694.9 541.3,2694.9 548.2,2697.2 555.1,2698.1 562.0,2698.1 568.9,2698.1 575.8,2698.6 582.7,2698.6 589.6,2697.2 596.5,2694.9 603.4,2691.7 610.3,2691.2 617.2,2690.8 624.1,2689.4 631.0,2685.7 637.9,2681.1 644.8,2676.5 651.7,2673.3 658.6,2671.9 663.2,2669.6 670.1,2666.9 677.0,2666.9 683.9,2666.4 690.8,2666.9 697.7,2667.3 704.6,2667.8 711.5,2669.6 718.4,2670.5 725.3,2671.5 732.2,2671.9 739.1,2672.4 746.0,2672.8 752.9,2671.9 759.8,2671.5 766.7,2670.5 773.6,2671.0 780.5,2671.5 787.4,2671.9 794.3,2672.8 802.6,2673.3" fill="none" stroke="#C55A11" stroke-width="2.2" stroke-linejoin="round" stroke-linecap="butt" /><polyline points="529.8,2672.4 536.7,2671.5 543.6,2673.3 550.5,2675.1 557.4,2677.9 564.3,2678.8 568.9,2677.0 575.8,2677.0 582.7,2676.5 589.6,2675.6 596.5,2675.6 603.4,2676.5 610.3,2677.4 617.2,2678.4 624.1,2679.3 631.0,2680.2 637.9,2681.1 644.8,2682.5 651.7,2684.3 659.5,2686.6" fill="none" stroke="#FF0000" stroke-width="3.0" stroke-linejoin="round" stroke-linecap="butt" /><line x1="527.5" y1="2570.7" x2="527.5" y2="2713.3" stroke="#7F7F7F" stroke-width="1.15"/><line x1="523.5" y1="2570.7" x2="527.5" y2="2570.7" stroke="#7F7F7F" stroke-width="1.15"/><text x="520.5" y="2574.5" font-size="10.8" text-anchor="end" fill="#000" textLength="36.4" lengthAdjust="spacing" >200,000</text><line x1="523.5" y1="2606.3" x2="527.5" y2="2606.3" stroke="#7F7F7F" stroke-width="1.15"/><text x="520.5" y="2610.2" font-size="10.8" text-anchor="end" fill="#000" textLength="36.4" lengthAdjust="spacing" >150,000</text><line x1="523.5" y1="2642.0" x2="527.5" y2="2642.0" stroke="#7F7F7F" stroke-width="1.15"/><text x="520.5" y="2645.8" font-size="10.8" text-anchor="end" fill="#000" textLength="36.4" lengthAdjust="spacing" >100,000</text><line x1="523.5" y1="2677.7" x2="527.5" y2="2677.7" stroke="#7F7F7F" stroke-width="1.15"/><text x="520.5" y="2681.5" font-size="10.8" text-anchor="end" fill="#000" textLength="31.1" lengthAdjust="spacing" >50,000</text><line x1="523.5" y1="2713.3" x2="527.5" y2="2713.3" stroke="#7F7F7F" stroke-width="1.15"/><text x="520.5" y="2717.1" font-size="10.8" text-anchor="end" fill="#000" ><tspan dx="-0.08">0</tspan></text><line x1="802.6" y1="2570.7" x2="802.6" y2="2713.3" stroke="#7F7F7F" stroke-width="1.15"/><line x1="802.6" y1="2570.7" x2="806.6" y2="2570.7" stroke="#7F7F7F" stroke-width="1.15"/><text x="809.6" y="2574.5" font-size="10.8" text-anchor="start" fill="#000" textLength="36.4" lengthAdjust="spacing" >250,000</text><line x1="802.6" y1="2599.2" x2="806.6" y2="2599.2" stroke="#7F7F7F" stroke-width="1.15"/><text x="809.6" y="2603.0" font-size="10.8" text-anchor="start" fill="#000" textLength="36.4" lengthAdjust="spacing" >200,000</text><line x1="802.6" y1="2627.7" x2="806.6" y2="2627.7" stroke="#7F7F7F" stroke-width="1.15"/><text x="809.6" y="2631.5" font-size="10.8" text-anchor="start" fill="#000" textLength="36.4" lengthAdjust="spacing" >150,000</text><line x1="802.6" y1="2656.3" x2="806.6" y2="2656.3" stroke="#7F7F7F" stroke-width="1.15"/><text x="809.6" y="2660.1" font-size="10.8" text-anchor="start" fill="#000" textLength="36.4" lengthAdjust="spacing" >100,000</text><line x1="802.6" y1="2684.8" x2="806.6" y2="2684.8" stroke="#7F7F7F" stroke-width="1.15"/><text x="809.6" y="2688.6" font-size="10.8" text-anchor="start" fill="#000" textLength="31.1" lengthAdjust="spacing" >50,000</text><line x1="802.6" y1="2713.3" x2="806.6" y2="2713.3" stroke="#7F7F7F" stroke-width="1.15"/><text x="809.6" y="2717.1" font-size="10.8" text-anchor="start" fill="#000" ><tspan dx="-0.08">0</tspan></text><line x1="490.7" y1="2750.1" x2="522.7" y2="2750.1" stroke="#A5A5A5" stroke-width="2.2"/><text x="525.9" y="2753.8" font-size="10.8" text-anchor="start" fill="#000" textLength="20.6" lengthAdjust="spacingAndGlyphs" >2016</text><line x1="549.1" y1="2750.1" x2="581.1" y2="2750.1" stroke="#00B0F0" stroke-width="2.2"/><text x="584.4" y="2753.8" font-size="10.8" text-anchor="start" fill="#000" textLength="20.6" lengthAdjust="spacingAndGlyphs" >2017</text><line x1="607.6" y1="2750.1" x2="639.6" y2="2750.1" stroke="#70AD47" stroke-width="2.2"/><text x="642.8" y="2753.8" font-size="10.8" text-anchor="start" fill="#000" textLength="20.6" lengthAdjust="spacingAndGlyphs" >2018</text><line x1="666.0" y1="2750.1" x2="698.0" y2="2750.1" stroke="#44546A" stroke-width="2.2"/><text x="701.2" y="2753.8" font-size="10.8" text-anchor="start" fill="#000" textLength="20.6" lengthAdjust="spacingAndGlyphs" >2019</text><line x1="724.5" y1="2750.1" x2="756.5" y2="2750.1" stroke="#C55A11" stroke-width="2.2"/><text x="759.7" y="2753.8" font-size="10.8" text-anchor="start" fill="#000" textLength="20.6" lengthAdjust="spacingAndGlyphs" >2020</text><line x1="783.0" y1="2750.1" x2="815.0" y2="2750.1" stroke="#FF0000" stroke-width="3.0"/><text x="818.2" y="2753.8" font-size="10.8" text-anchor="start" fill="#000" textLength="20.6" lengthAdjust="spacingAndGlyphs" >2021</text></svg>
</body></html>
